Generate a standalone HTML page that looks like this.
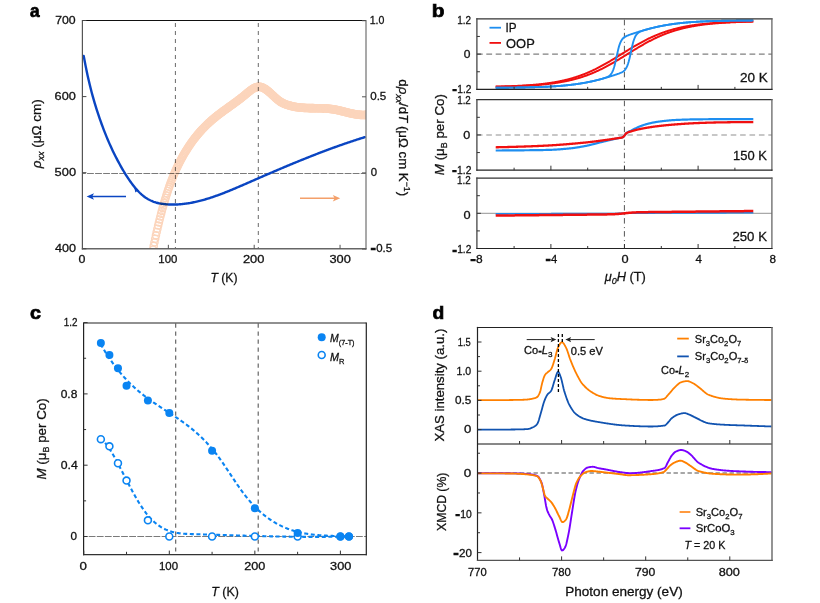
<!DOCTYPE html>
<html><head><meta charset="utf-8"><style>
html,body{margin:0;padding:0;background:#fff;}
svg{display:block;font-family:"Liberation Sans", sans-serif;}
</style></head><body>
<svg width="820" height="603" viewBox="0 0 820 603">
<rect width="820" height="603" fill="#fff"/>
<line x1="175.4" y1="23" x2="175.4" y2="248.8" stroke="#6a6a6a" stroke-width="1" stroke-dasharray="4 4"/>
<line x1="258.3" y1="23" x2="258.3" y2="248.8" stroke="#6a6a6a" stroke-width="1" stroke-dasharray="4 4"/>
<line x1="82.4" y1="173.5" x2="366" y2="173.5" stroke="#7a7a7a" stroke-width="1" stroke-dasharray="6.8 1.25" stroke-dashoffset="3.4"/>
<path d="M83.7,55.88 L84.7,61.25 L85.7,66.37 L86.7,71.24 L87.7,75.88 L88.7,80.31 L89.7,84.54 L90.7,88.58 L91.7,92.44 L92.7,96.14 L93.7,99.69 L94.7,103.1 L95.7,106.39 L96.7,109.58 L97.7,112.66 L98.7,115.67 L99.7,118.6 L100.7,121.45 L101.7,124.23 L102.7,126.95 L103.7,129.59 L104.7,132.16 L105.7,134.68 L106.7,137.13 L107.7,139.52 L108.7,141.85 L109.7,144.13 L110.7,146.35 L111.7,148.52 L112.7,150.64 L113.7,152.71 L114.7,154.74 L115.7,156.72 L116.7,158.67 L117.7,160.57 L118.7,162.43 L119.7,164.26 L120.7,166.06 L121.7,167.82 L122.7,169.55 L123.7,171.24 L124.7,172.9 L125.7,174.52 L126.7,176.1 L127.7,177.64 L128.7,179.14 L129.7,180.6 L130.7,182.02 L131.7,183.39 L132.7,184.72 L133.7,186.01 L134.7,187.25 L135.7,188.45 L136.7,189.6 L137.7,190.7 L138.7,191.75 L139.7,192.75 L140.7,193.7 L141.7,194.6 L142.7,195.44 L143.7,196.24 L144.7,196.99 L145.7,197.69 L146.7,198.34 L147.7,198.95 L148.7,199.52 L149.7,200.05 L150.7,200.53 L151.7,200.98 L152.7,201.4 L153.7,201.78 L154.7,202.12 L155.7,202.44 L156.7,202.72 L157.7,202.98 L158.7,203.22 L159.7,203.42 L160.7,203.61 L161.7,203.77 L162.7,203.92 L163.7,204.04 L164.7,204.15 L165.7,204.25 L166.7,204.33 L167.7,204.4 L168.7,204.45 L169.7,204.5 L170.7,204.53 L171.7,204.55 L172.7,204.56 L173.7,204.56 L174.7,204.54 L175.7,204.52 L176.7,204.48 L177.7,204.43 L178.7,204.37 L179.7,204.3 L180.7,204.22 L181.7,204.13 L182.7,204.03 L183.7,203.92 L184.7,203.8 L185.7,203.67 L186.7,203.53 L187.7,203.38 L188.7,203.23 L189.7,203.06 L190.7,202.88 L191.7,202.7 L192.7,202.5 L193.7,202.3 L194.7,202.09 L195.7,201.87 L196.7,201.64 L197.7,201.41 L198.7,201.16 L199.7,200.91 L200.7,200.66 L201.7,200.39 L202.7,200.12 L203.7,199.84 L204.7,199.55 L205.7,199.26 L206.7,198.96 L207.7,198.65 L208.7,198.34 L209.7,198.02 L210.7,197.7 L211.7,197.37 L212.7,197.03 L213.7,196.69 L214.7,196.34 L215.7,195.99 L216.7,195.63 L217.7,195.27 L218.7,194.91 L219.7,194.53 L220.7,194.16 L221.7,193.78 L222.7,193.4 L223.7,193.01 L224.7,192.62 L225.7,192.22 L226.7,191.82 L227.7,191.42 L228.7,191.02 L229.7,190.61 L230.7,190.2 L231.7,189.78 L232.7,189.37 L233.7,188.95 L234.7,188.53 L235.7,188.1 L236.7,187.68 L237.7,187.25 L238.7,186.82 L239.7,186.39 L240.7,185.96 L241.7,185.53 L242.7,185.09 L243.7,184.66 L244.7,184.23 L245.7,183.79 L246.7,183.35 L247.7,182.92 L248.7,182.48 L249.7,182.04 L250.7,181.61 L251.7,181.17 L252.7,180.73 L253.7,180.3 L254.7,179.86 L255.7,179.43 L256.7,178.99 L257.7,178.56 L258.7,178.12 L259.7,177.69 L260.7,177.25 L261.7,176.82 L262.7,176.39 L263.7,175.95 L264.7,175.52 L265.7,175.09 L266.7,174.66 L267.7,174.22 L268.7,173.79 L269.7,173.36 L270.7,172.93 L271.7,172.5 L272.7,172.08 L273.7,171.65 L274.7,171.22 L275.7,170.79 L276.7,170.37 L277.7,169.94 L278.7,169.51 L279.7,169.09 L280.7,168.67 L281.7,168.24 L282.7,167.82 L283.7,167.4 L284.7,166.98 L285.7,166.56 L286.7,166.14 L287.7,165.72 L288.7,165.3 L289.7,164.88 L290.7,164.47 L291.7,164.05 L292.7,163.64 L293.7,163.22 L294.7,162.81 L295.7,162.4 L296.7,161.99 L297.7,161.58 L298.7,161.17 L299.7,160.76 L300.7,160.35 L301.7,159.95 L302.7,159.54 L303.7,159.14 L304.7,158.74 L305.7,158.34 L306.7,157.94 L307.7,157.54 L308.7,157.14 L309.7,156.74 L310.7,156.35 L311.7,155.95 L312.7,155.56 L313.7,155.16 L314.7,154.77 L315.7,154.38 L316.7,154 L317.7,153.61 L318.7,153.22 L319.7,152.84 L320.7,152.46 L321.7,152.07 L322.7,151.69 L323.7,151.32 L324.7,150.94 L325.7,150.56 L326.7,150.19 L327.7,149.81 L328.7,149.44 L329.7,149.07 L330.7,148.7 L331.7,148.34 L332.7,147.97 L333.7,147.61 L334.7,147.25 L335.7,146.89 L336.7,146.53 L337.7,146.17 L338.7,145.81 L339.7,145.46 L340.7,145.11 L341.7,144.76 L342.7,144.41 L343.7,144.06 L344.7,143.72 L345.7,143.37 L346.7,143.03 L347.7,142.69 L348.7,142.35 L349.7,142.02 L350.7,141.68 L351.7,141.35 L352.7,141.02 L353.7,140.69 L354.7,140.37 L355.7,140.04 L356.7,139.72 L357.7,139.4 L358.7,139.08 L359.7,138.76 L360.7,138.45 L361.7,138.14 L362.7,137.83 L363.7,137.52 L364.7,137.21" fill="none" stroke="#0a45c2" stroke-width="2.4" stroke-linecap="round"/>
<defs><clipPath id="clipa"><rect x="82.4" y="20.5" width="283.6" height="228.3"/></clipPath></defs>
<g clip-path="url(#clipa)" fill="none" stroke="#fcd5bc" stroke-width="1.4" style="mix-blend-mode:multiply">
<circle cx="151.5" cy="257.21" r="3.6"/>
<circle cx="152.24" cy="253.34" r="3.6"/>
<circle cx="152.98" cy="249.57" r="3.6"/>
<circle cx="153.72" cy="245.88" r="3.6"/>
<circle cx="154.46" cy="242.28" r="3.6"/>
<circle cx="155.2" cy="238.77" r="3.6"/>
<circle cx="155.94" cy="235.35" r="3.6"/>
<circle cx="156.68" cy="232.01" r="3.6"/>
<circle cx="157.42" cy="228.75" r="3.6"/>
<circle cx="158.16" cy="225.57" r="3.6"/>
<circle cx="158.9" cy="222.47" r="3.6"/>
<circle cx="159.64" cy="219.45" r="3.6"/>
<circle cx="160.38" cy="216.51" r="3.6"/>
<circle cx="161.12" cy="213.64" r="3.6"/>
<circle cx="161.86" cy="210.84" r="3.6"/>
<circle cx="162.6" cy="208.12" r="3.6"/>
<circle cx="163.34" cy="205.47" r="3.6"/>
<circle cx="164.08" cy="202.89" r="3.6"/>
<circle cx="164.82" cy="200.38" r="3.6"/>
<circle cx="165.56" cy="197.93" r="3.6"/>
<circle cx="166.3" cy="195.55" r="3.6"/>
<circle cx="167.04" cy="193.23" r="3.6"/>
<circle cx="167.78" cy="190.98" r="3.6"/>
<circle cx="168.52" cy="188.78" r="3.6"/>
<circle cx="169.26" cy="186.65" r="3.6"/>
<circle cx="170" cy="184.57" r="3.6"/>
<circle cx="170.74" cy="182.55" r="3.6"/>
<circle cx="171.48" cy="180.59" r="3.6"/>
<circle cx="172.22" cy="178.68" r="3.6"/>
<circle cx="172.96" cy="176.82" r="3.6"/>
<circle cx="173.7" cy="175.01" r="3.6"/>
<circle cx="174.44" cy="173.25" r="3.6"/>
<circle cx="175.18" cy="171.53" r="3.6"/>
<circle cx="175.92" cy="169.87" r="3.6"/>
<circle cx="176.66" cy="168.24" r="3.6"/>
<circle cx="177.4" cy="166.66" r="3.6"/>
<circle cx="178.14" cy="165.12" r="3.6"/>
<circle cx="178.88" cy="163.62" r="3.6"/>
<circle cx="179.62" cy="162.15" r="3.6"/>
<circle cx="180.36" cy="160.72" r="3.6"/>
<circle cx="181.1" cy="159.33" r="3.6"/>
<circle cx="181.84" cy="157.96" r="3.6"/>
<circle cx="182.58" cy="156.63" r="3.6"/>
<circle cx="183.32" cy="155.33" r="3.6"/>
<circle cx="184.06" cy="154.05" r="3.6"/>
<circle cx="184.8" cy="152.8" r="3.6"/>
<circle cx="185.54" cy="151.58" r="3.6"/>
<circle cx="186.28" cy="150.38" r="3.6"/>
<circle cx="187.02" cy="149.2" r="3.6"/>
<circle cx="187.76" cy="148.04" r="3.6"/>
<circle cx="188.5" cy="146.91" r="3.6"/>
<circle cx="189.24" cy="145.79" r="3.6"/>
<circle cx="189.98" cy="144.7" r="3.6"/>
<circle cx="190.72" cy="143.63" r="3.6"/>
<circle cx="191.46" cy="142.58" r="3.6"/>
<circle cx="192.2" cy="141.55" r="3.6"/>
<circle cx="192.94" cy="140.53" r="3.6"/>
<circle cx="193.68" cy="139.54" r="3.6"/>
<circle cx="194.42" cy="138.57" r="3.6"/>
<circle cx="195.16" cy="137.61" r="3.6"/>
<circle cx="195.9" cy="136.68" r="3.6"/>
<circle cx="196.64" cy="135.76" r="3.6"/>
<circle cx="197.38" cy="134.85" r="3.6"/>
<circle cx="198.12" cy="133.97" r="3.6"/>
<circle cx="198.86" cy="133.1" r="3.6"/>
<circle cx="199.6" cy="132.25" r="3.6"/>
<circle cx="200.34" cy="131.41" r="3.6"/>
<circle cx="201.08" cy="130.59" r="3.6"/>
<circle cx="201.82" cy="129.78" r="3.6"/>
<circle cx="202.56" cy="128.99" r="3.6"/>
<circle cx="203.3" cy="128.21" r="3.6"/>
<circle cx="204.04" cy="127.44" r="3.6"/>
<circle cx="204.78" cy="126.69" r="3.6"/>
<circle cx="205.52" cy="125.95" r="3.6"/>
<circle cx="206.26" cy="125.23" r="3.6"/>
<circle cx="207" cy="124.51" r="3.6"/>
<circle cx="207.74" cy="123.81" r="3.6"/>
<circle cx="208.48" cy="123.12" r="3.6"/>
<circle cx="209.22" cy="122.44" r="3.6"/>
<circle cx="209.96" cy="121.77" r="3.6"/>
<circle cx="210.7" cy="121.12" r="3.6"/>
<circle cx="211.44" cy="120.47" r="3.6"/>
<circle cx="212.18" cy="119.83" r="3.6"/>
<circle cx="212.92" cy="119.2" r="3.6"/>
<circle cx="213.66" cy="118.57" r="3.6"/>
<circle cx="214.4" cy="117.96" r="3.6"/>
<circle cx="215.14" cy="117.36" r="3.6"/>
<circle cx="215.88" cy="116.76" r="3.6"/>
<circle cx="216.62" cy="116.17" r="3.6"/>
<circle cx="217.36" cy="115.58" r="3.6"/>
<circle cx="218.1" cy="115" r="3.6"/>
<circle cx="218.84" cy="114.43" r="3.6"/>
<circle cx="219.58" cy="113.87" r="3.6"/>
<circle cx="220.32" cy="113.31" r="3.6"/>
<circle cx="221.06" cy="112.75" r="3.6"/>
<circle cx="221.8" cy="112.2" r="3.6"/>
<circle cx="222.54" cy="111.65" r="3.6"/>
<circle cx="223.28" cy="111.1" r="3.6"/>
<circle cx="224.02" cy="110.56" r="3.6"/>
<circle cx="224.76" cy="110.02" r="3.6"/>
<circle cx="225.5" cy="109.49" r="3.6"/>
<circle cx="226.24" cy="108.95" r="3.6"/>
<circle cx="226.98" cy="108.42" r="3.6"/>
<circle cx="227.72" cy="107.89" r="3.6"/>
<circle cx="228.46" cy="107.36" r="3.6"/>
<circle cx="229.2" cy="106.83" r="3.6"/>
<circle cx="229.94" cy="106.3" r="3.6"/>
<circle cx="230.68" cy="105.77" r="3.6"/>
<circle cx="231.42" cy="105.24" r="3.6"/>
<circle cx="232.16" cy="104.71" r="3.6"/>
<circle cx="232.9" cy="104.17" r="3.6"/>
<circle cx="233.64" cy="103.64" r="3.6"/>
<circle cx="234.38" cy="103.1" r="3.6"/>
<circle cx="235.12" cy="102.56" r="3.6"/>
<circle cx="235.86" cy="102.02" r="3.6"/>
<circle cx="236.6" cy="101.47" r="3.6"/>
<circle cx="237.34" cy="100.92" r="3.6"/>
<circle cx="238.08" cy="100.37" r="3.6"/>
<circle cx="238.82" cy="99.81" r="3.6"/>
<circle cx="239.56" cy="99.24" r="3.6"/>
<circle cx="240.3" cy="98.67" r="3.6"/>
<circle cx="241.04" cy="98.1" r="3.6"/>
<circle cx="241.78" cy="97.52" r="3.6"/>
<circle cx="242.52" cy="96.93" r="3.6"/>
<circle cx="243.26" cy="96.33" r="3.6"/>
<circle cx="244" cy="95.73" r="3.6"/>
<circle cx="244.74" cy="95.12" r="3.6"/>
<circle cx="245.48" cy="94.5" r="3.6"/>
<circle cx="246.22" cy="93.88" r="3.6"/>
<circle cx="246.96" cy="93.26" r="3.6"/>
<circle cx="247.7" cy="92.65" r="3.6"/>
<circle cx="248.44" cy="92.04" r="3.6"/>
<circle cx="249.18" cy="91.45" r="3.6"/>
<circle cx="249.92" cy="90.87" r="3.6"/>
<circle cx="250.66" cy="90.31" r="3.6"/>
<circle cx="251.4" cy="89.78" r="3.6"/>
<circle cx="252.14" cy="89.28" r="3.6"/>
<circle cx="252.88" cy="88.82" r="3.6"/>
<circle cx="253.62" cy="88.39" r="3.6"/>
<circle cx="254.36" cy="88" r="3.6"/>
<circle cx="255.1" cy="87.66" r="3.6"/>
<circle cx="255.84" cy="87.37" r="3.6"/>
<circle cx="256.58" cy="87.14" r="3.6"/>
<circle cx="257.32" cy="86.96" r="3.6"/>
<circle cx="258.06" cy="86.85" r="3.6"/>
<circle cx="258.8" cy="86.8" r="3.6"/>
<circle cx="259.54" cy="86.83" r="3.6"/>
<circle cx="260.28" cy="86.92" r="3.6"/>
<circle cx="261.02" cy="87.07" r="3.6"/>
<circle cx="261.76" cy="87.29" r="3.6"/>
<circle cx="262.5" cy="87.56" r="3.6"/>
<circle cx="263.24" cy="87.88" r="3.6"/>
<circle cx="263.98" cy="88.26" r="3.6"/>
<circle cx="264.72" cy="88.68" r="3.6"/>
<circle cx="265.46" cy="89.15" r="3.6"/>
<circle cx="266.2" cy="89.65" r="3.6"/>
<circle cx="266.94" cy="90.2" r="3.6"/>
<circle cx="267.68" cy="90.77" r="3.6"/>
<circle cx="268.42" cy="91.38" r="3.6"/>
<circle cx="269.16" cy="92.01" r="3.6"/>
<circle cx="269.9" cy="92.66" r="3.6"/>
<circle cx="270.64" cy="93.32" r="3.6"/>
<circle cx="271.38" cy="94" r="3.6"/>
<circle cx="272.12" cy="94.69" r="3.6"/>
<circle cx="272.86" cy="95.39" r="3.6"/>
<circle cx="273.6" cy="96.08" r="3.6"/>
<circle cx="274.34" cy="96.77" r="3.6"/>
<circle cx="275.08" cy="97.45" r="3.6"/>
<circle cx="275.82" cy="98.11" r="3.6"/>
<circle cx="276.56" cy="98.76" r="3.6"/>
<circle cx="277.3" cy="99.39" r="3.6"/>
<circle cx="278.04" cy="100" r="3.6"/>
<circle cx="278.78" cy="100.57" r="3.6"/>
<circle cx="279.52" cy="101.12" r="3.6"/>
<circle cx="280.26" cy="101.62" r="3.6"/>
<circle cx="281" cy="102.09" r="3.6"/>
<circle cx="281.74" cy="102.51" r="3.6"/>
<circle cx="282.48" cy="102.91" r="3.6"/>
<circle cx="283.22" cy="103.27" r="3.6"/>
<circle cx="283.96" cy="103.61" r="3.6"/>
<circle cx="284.7" cy="103.93" r="3.6"/>
<circle cx="285.44" cy="104.22" r="3.6"/>
<circle cx="286.18" cy="104.49" r="3.6"/>
<circle cx="286.92" cy="104.75" r="3.6"/>
<circle cx="287.66" cy="105" r="3.6"/>
<circle cx="288.4" cy="105.23" r="3.6"/>
<circle cx="289.14" cy="105.46" r="3.6"/>
<circle cx="289.88" cy="105.67" r="3.6"/>
<circle cx="290.62" cy="105.87" r="3.6"/>
<circle cx="291.36" cy="106.05" r="3.6"/>
<circle cx="292.1" cy="106.23" r="3.6"/>
<circle cx="292.84" cy="106.4" r="3.6"/>
<circle cx="293.58" cy="106.55" r="3.6"/>
<circle cx="294.32" cy="106.7" r="3.6"/>
<circle cx="295.06" cy="106.84" r="3.6"/>
<circle cx="295.8" cy="106.96" r="3.6"/>
<circle cx="296.54" cy="107.08" r="3.6"/>
<circle cx="297.28" cy="107.19" r="3.6"/>
<circle cx="298.02" cy="107.3" r="3.6"/>
<circle cx="298.76" cy="107.39" r="3.6"/>
<circle cx="299.5" cy="107.48" r="3.6"/>
<circle cx="300.24" cy="107.56" r="3.6"/>
<circle cx="300.98" cy="107.63" r="3.6"/>
<circle cx="301.72" cy="107.7" r="3.6"/>
<circle cx="302.46" cy="107.76" r="3.6"/>
<circle cx="303.2" cy="107.81" r="3.6"/>
<circle cx="303.94" cy="107.86" r="3.6"/>
<circle cx="304.68" cy="107.91" r="3.6"/>
<circle cx="305.42" cy="107.95" r="3.6"/>
<circle cx="306.16" cy="107.98" r="3.6"/>
<circle cx="306.9" cy="108.01" r="3.6"/>
<circle cx="307.64" cy="108.04" r="3.6"/>
<circle cx="308.38" cy="108.06" r="3.6"/>
<circle cx="309.12" cy="108.09" r="3.6"/>
<circle cx="309.86" cy="108.1" r="3.6"/>
<circle cx="310.6" cy="108.12" r="3.6"/>
<circle cx="311.34" cy="108.14" r="3.6"/>
<circle cx="312.08" cy="108.15" r="3.6"/>
<circle cx="312.82" cy="108.16" r="3.6"/>
<circle cx="313.56" cy="108.17" r="3.6"/>
<circle cx="314.3" cy="108.18" r="3.6"/>
<circle cx="315.04" cy="108.19" r="3.6"/>
<circle cx="315.78" cy="108.2" r="3.6"/>
<circle cx="316.52" cy="108.21" r="3.6"/>
<circle cx="317.26" cy="108.22" r="3.6"/>
<circle cx="318" cy="108.23" r="3.6"/>
<circle cx="318.74" cy="108.25" r="3.6"/>
<circle cx="319.48" cy="108.26" r="3.6"/>
<circle cx="320.22" cy="108.28" r="3.6"/>
<circle cx="320.96" cy="108.3" r="3.6"/>
<circle cx="321.7" cy="108.32" r="3.6"/>
<circle cx="322.44" cy="108.35" r="3.6"/>
<circle cx="323.18" cy="108.38" r="3.6"/>
<circle cx="323.92" cy="108.41" r="3.6"/>
<circle cx="324.66" cy="108.45" r="3.6"/>
<circle cx="325.4" cy="108.49" r="3.6"/>
<circle cx="326.14" cy="108.54" r="3.6"/>
<circle cx="326.88" cy="108.59" r="3.6"/>
<circle cx="327.62" cy="108.65" r="3.6"/>
<circle cx="328.36" cy="108.72" r="3.6"/>
<circle cx="329.1" cy="108.79" r="3.6"/>
<circle cx="329.84" cy="108.86" r="3.6"/>
<circle cx="330.58" cy="108.95" r="3.6"/>
<circle cx="331.32" cy="109.04" r="3.6"/>
<circle cx="332.06" cy="109.14" r="3.6"/>
<circle cx="332.8" cy="109.25" r="3.6"/>
<circle cx="333.54" cy="109.36" r="3.6"/>
<circle cx="334.28" cy="109.48" r="3.6"/>
<circle cx="335.02" cy="109.62" r="3.6"/>
<circle cx="335.76" cy="109.76" r="3.6"/>
<circle cx="336.5" cy="109.9" r="3.6"/>
<circle cx="337.24" cy="110.06" r="3.6"/>
<circle cx="337.98" cy="110.22" r="3.6"/>
<circle cx="338.72" cy="110.38" r="3.6"/>
<circle cx="339.46" cy="110.55" r="3.6"/>
<circle cx="340.2" cy="110.73" r="3.6"/>
<circle cx="340.94" cy="110.91" r="3.6"/>
<circle cx="341.68" cy="111.09" r="3.6"/>
<circle cx="342.42" cy="111.27" r="3.6"/>
<circle cx="343.16" cy="111.45" r="3.6"/>
<circle cx="343.9" cy="111.64" r="3.6"/>
<circle cx="344.64" cy="111.83" r="3.6"/>
<circle cx="345.38" cy="112.02" r="3.6"/>
<circle cx="346.12" cy="112.2" r="3.6"/>
<circle cx="346.86" cy="112.39" r="3.6"/>
<circle cx="347.6" cy="112.57" r="3.6"/>
<circle cx="348.34" cy="112.75" r="3.6"/>
<circle cx="349.08" cy="112.93" r="3.6"/>
<circle cx="349.82" cy="113.11" r="3.6"/>
<circle cx="350.56" cy="113.28" r="3.6"/>
<circle cx="351.3" cy="113.44" r="3.6"/>
<circle cx="352.04" cy="113.6" r="3.6"/>
<circle cx="352.78" cy="113.76" r="3.6"/>
<circle cx="353.52" cy="113.91" r="3.6"/>
<circle cx="354.26" cy="114.05" r="3.6"/>
<circle cx="355" cy="114.18" r="3.6"/>
<circle cx="355.74" cy="114.3" r="3.6"/>
<circle cx="356.48" cy="114.42" r="3.6"/>
<circle cx="357.22" cy="114.53" r="3.6"/>
<circle cx="357.96" cy="114.62" r="3.6"/>
<circle cx="358.7" cy="114.71" r="3.6"/>
<circle cx="359.44" cy="114.78" r="3.6"/>
<circle cx="360.18" cy="114.85" r="3.6"/>
<circle cx="360.92" cy="114.9" r="3.6"/>
<circle cx="361.66" cy="114.93" r="3.6"/>
<circle cx="362.4" cy="114.96" r="3.6"/>
<circle cx="363.14" cy="114.97" r="3.6"/>
<circle cx="363.88" cy="114.96" r="3.6"/>
<circle cx="364.62" cy="114.94" r="3.6"/>
<circle cx="365.36" cy="114.9" r="3.6"/>
<circle cx="366.1" cy="114.85" r="3.6"/>
<circle cx="366.84" cy="114.77" r="3.6"/>
</g>
<path d="M134.2,187.6 L138.2,190.2 L135.4,192.6 Z" fill="#0a45c2"/>
<line x1="91.5" y1="196.5" x2="126" y2="196.5" stroke="#0a45c2" stroke-width="1.6" />
<path d="M86.6,196.5 L94,193.2 L92.2,196.5 L94,199.8 Z" fill="#0a45c2"/>
<line x1="300" y1="198.2" x2="335" y2="198.2" stroke="#f4a06a" stroke-width="1.6" />
<path d="M340.2,198.2 L332.8,194.9 L334.6,198.2 L332.8,201.5 Z" fill="#f4a06a"/>
<line x1="82.4" y1="20.5" x2="366" y2="20.5" stroke="#111" stroke-width="1.2" />
<line x1="82.4" y1="19.9" x2="82.4" y2="249.4" stroke="#555" stroke-width="1.2" />
<line x1="366" y1="19.9" x2="366" y2="249.4" stroke="#707070" stroke-width="1.2" />
<line x1="81.8" y1="248.8" x2="366.6" y2="248.8" stroke="#666" stroke-width="1.5" />
<line x1="82.4" y1="248.8" x2="86.4" y2="248.8" stroke="#444" stroke-width="1" />
<line x1="82.4" y1="172.7" x2="86.4" y2="172.7" stroke="#444" stroke-width="1" />
<line x1="82.4" y1="96.6" x2="86.4" y2="96.6" stroke="#444" stroke-width="1" />
<line x1="82.4" y1="20.5" x2="86.4" y2="20.5" stroke="#444" stroke-width="1" />
<line x1="362" y1="249" x2="366" y2="249" stroke="#555" stroke-width="1" />
<line x1="362" y1="172.9" x2="366" y2="172.9" stroke="#555" stroke-width="1" />
<line x1="362" y1="96.8" x2="366" y2="96.8" stroke="#555" stroke-width="1" />
<line x1="362" y1="20.7" x2="366" y2="20.7" stroke="#555" stroke-width="1" />
<line x1="82.5" y1="244.8" x2="82.5" y2="248.8" stroke="#555" stroke-width="1" />
<line x1="168.35" y1="244.8" x2="168.35" y2="248.8" stroke="#555" stroke-width="1" />
<line x1="254.2" y1="244.8" x2="254.2" y2="248.8" stroke="#555" stroke-width="1" />
<line x1="340.05" y1="244.8" x2="340.05" y2="248.8" stroke="#555" stroke-width="1" />
<line x1="476.9" y1="54.1" x2="771.9" y2="54.1" stroke="#808080" stroke-width="1.05" stroke-dasharray="5.8 3.6"/>
<line x1="624.4" y1="19.8" x2="624.4" y2="89.4" stroke="#555" stroke-width="1" stroke-dasharray="5.5 3.5 1 3"/>
<path d="M495.7,86.72 L496.16,86.71 L496.62,86.71 L497.08,86.7 L497.54,86.69 L498,86.68 L498.46,86.67 L498.92,86.66 L499.38,86.65 L499.84,86.64 L500.3,86.63 L500.76,86.63 L501.22,86.62 L501.68,86.61 L502.14,86.6 L502.6,86.58 L503.06,86.57 L503.52,86.56 L503.98,86.55 L504.44,86.54 L504.9,86.53 L505.36,86.52 L505.82,86.51 L506.28,86.5 L506.74,86.48 L507.2,86.47 L507.66,86.46 L508.12,86.45 L508.58,86.43 L509.04,86.42 L509.5,86.41 L509.96,86.39 L510.42,86.38 L510.88,86.37 L511.34,86.35 L511.8,86.34 L512.26,86.32 L512.72,86.31 L513.18,86.29 L513.64,86.28 L514.1,86.26 L514.56,86.25 L515.02,86.23 L515.48,86.21 L515.94,86.2 L516.4,86.18 L516.86,86.16 L517.32,86.14 L517.78,86.13 L518.24,86.11 L518.7,86.09 L519.16,86.07 L519.62,86.05 L520.08,86.03 L520.54,86.01 L521,85.99 L521.46,85.97 L521.92,85.95 L522.38,85.93 L522.84,85.91 L523.3,85.89 L523.76,85.86 L524.22,85.84 L524.68,85.82 L525.14,85.79 L525.6,85.77 L526.06,85.75 L526.52,85.72 L526.98,85.7 L527.44,85.67 L527.9,85.64 L528.36,85.62 L528.82,85.59 L529.28,85.56 L529.74,85.54 L530.2,85.51 L530.66,85.48 L531.12,85.45 L531.58,85.42 L532.04,85.39 L532.5,85.36 L532.96,85.33 L533.42,85.3 L533.88,85.27 L534.34,85.23 L534.8,85.2 L535.26,85.17 L535.72,85.13 L536.18,85.1 L536.64,85.06 L537.1,85.03 L537.56,84.99 L538.02,84.95 L538.48,84.92 L538.94,84.88 L539.4,84.84 L539.86,84.8 L540.32,84.76 L540.78,84.72 L541.24,84.68 L541.7,84.64 L542.16,84.59 L542.62,84.55 L543.08,84.51 L543.54,84.46 L544,84.41 L544.46,84.37 L544.92,84.32 L545.38,84.27 L545.84,84.23 L546.3,84.18 L546.76,84.13 L547.22,84.08 L547.68,84.02 L548.14,83.97 L548.6,83.92 L549.06,83.86 L549.52,83.81 L549.98,83.75 L550.44,83.7 L550.9,83.64 L551.36,83.58 L551.82,83.52 L552.28,83.46 L552.74,83.4 L553.2,83.34 L553.66,83.27 L554.12,83.21 L554.58,83.15 L555.04,83.08 L555.5,83.01 L555.96,82.94 L556.42,82.88 L556.88,82.8 L557.34,82.73 L557.8,82.66 L558.26,82.59 L558.72,82.51 L559.18,82.44 L559.64,82.36 L560.1,82.28 L560.56,82.2 L561.02,82.12 L561.48,82.04 L561.94,81.96 L562.4,81.88 L562.86,81.79 L563.32,81.71 L563.78,81.62 L564.24,81.53 L564.7,81.44 L565.16,81.35 L565.62,81.26 L566.08,81.16 L566.54,81.07 L567,80.97 L567.46,80.87 L567.92,80.77 L568.38,80.67 L568.84,80.57 L569.3,80.47 L569.76,80.36 L570.22,80.26 L570.68,80.15 L571.14,80.04 L571.6,79.93 L572.06,79.82 L572.52,79.7 L572.98,79.59 L573.44,79.47 L573.9,79.35 L574.36,79.23 L574.82,79.11 L575.28,78.99 L575.74,78.86 L576.2,78.74 L576.66,78.61 L577.12,78.48 L577.58,78.35 L578.04,78.21 L578.5,78.08 L578.96,77.94 L579.42,77.8 L579.88,77.67 L580.34,77.52 L580.8,77.38 L581.26,77.24 L581.72,77.09 L582.18,76.94 L582.64,76.79 L583.1,76.64 L583.56,76.48 L584.02,76.33 L584.48,76.17 L584.94,76.01 L585.4,75.85 L585.86,75.69 L586.32,75.52 L586.78,75.36 L587.24,75.19 L587.7,75.02 L588.16,74.84 L588.62,74.67 L589.08,74.49 L589.54,74.32 L590,74.14 L590.46,73.96 L590.92,73.77 L591.38,73.59 L591.84,73.4 L592.3,73.21 L592.76,73.02 L593.22,72.83 L593.68,72.63 L594.14,72.43 L594.6,72.24 L595.06,72.03 L595.52,71.83 L595.98,71.63 L596.44,71.42 L596.9,71.21 L597.36,71 L597.82,70.79 L598.28,70.58 L598.74,70.36 L599.2,70.15 L599.66,69.93 L600.12,69.71 L600.58,69.48 L601.04,69.26 L601.5,69.03 L601.96,68.8 L602.42,68.57 L602.88,68.34 L603.34,68.11 L603.8,67.87 L604.26,67.64 L604.72,67.4 L605.18,67.16 L605.64,66.92 L606.1,66.67 L606.56,66.43 L607.02,66.18 L607.48,65.93 L607.94,65.68 L608.4,65.43 L608.86,65.18 L609.32,64.93 L609.78,64.67 L610.24,64.41 L610.7,64.16 L611.16,63.9 L611.62,63.64 L612.08,63.37 L612.54,63.11 L613,62.85 L613.46,62.58 L613.92,62.31 L614.38,62.04 L614.84,61.77 L615.3,61.5 L615.76,61.23 L616.22,60.96 L616.68,60.69 L617.14,60.41 L617.6,60.14 L618.06,59.86 L618.52,59.58 L618.98,59.31 L619.44,59.03 L619.9,58.75 L620.36,58.47 L620.82,58.19 L621.28,57.91 L621.74,57.62 L622.2,57.34 L622.66,57.06 L623.12,56.78 L623.58,56.49 L624.04,56.21 L624.5,55.92 L624.96,55.64 L625.42,55.35 L625.88,55.07 L626.34,54.78 L626.8,54.5 L627.26,54.21 L627.72,53.93 L628.18,53.64 L628.64,53.36 L629.1,53.07 L629.56,52.79 L630.02,52.5 L630.48,52.22 L630.94,51.93 L631.4,51.65 L631.86,51.37 L632.32,51.08 L632.78,50.8 L633.24,50.52 L633.7,50.24 L634.16,49.96 L634.62,49.68 L635.08,49.4 L635.54,49.12 L636,48.84 L636.46,48.56 L636.92,48.28 L637.38,48.01 L637.84,47.73 L638.3,47.46 L638.76,47.19 L639.22,46.91 L639.68,46.64 L640.14,46.37 L640.6,46.1 L641.06,45.83 L641.52,45.57 L641.98,45.3 L642.44,45.04 L642.9,44.77 L643.36,44.51 L643.82,44.25 L644.28,43.99 L644.74,43.73 L645.2,43.48 L645.66,43.22 L646.12,42.97 L646.58,42.72 L647.04,42.47 L647.5,42.22 L647.96,41.97 L648.42,41.72 L648.88,41.48 L649.34,41.23 L649.8,40.99 L650.26,40.75 L650.72,40.52 L651.18,40.28 L651.64,40.04 L652.1,39.81 L652.56,39.58 L653.02,39.35 L653.48,39.12 L653.94,38.9 L654.4,38.67 L654.86,38.45 L655.32,38.23 L655.78,38.01 L656.24,37.79 L656.7,37.58 L657.16,37.37 L657.62,37.15 L658.08,36.94 L658.54,36.74 L659,36.53 L659.46,36.33 L659.92,36.12 L660.38,35.92 L660.84,35.73 L661.3,35.53 L661.76,35.34 L662.22,35.14 L662.68,34.95 L663.14,34.76 L663.6,34.58 L664.06,34.39 L664.52,34.21 L664.98,34.03 L665.44,33.85 L665.9,33.67 L666.36,33.49 L666.82,33.32 L667.28,33.15 L667.74,32.98 L668.2,32.81 L668.66,32.64 L669.12,32.48 L669.58,32.32 L670.04,32.16 L670.5,32 L670.96,31.84 L671.42,31.69 L671.88,31.53 L672.34,31.38 L672.8,31.23 L673.26,31.08 L673.72,30.94 L674.18,30.79 L674.64,30.65 L675.1,30.51 L675.56,30.37 L676.02,30.23 L676.48,30.09 L676.94,29.96 L677.4,29.83 L677.86,29.7 L678.32,29.57 L678.78,29.44 L679.24,29.31 L679.7,29.19 L680.16,29.07 L680.62,28.94 L681.08,28.82 L681.54,28.71 L682,28.59 L682.46,28.47 L682.92,28.36 L683.38,28.25 L683.84,28.14 L684.3,28.03 L684.76,27.92 L685.22,27.82 L685.68,27.71 L686.14,27.61 L686.6,27.51 L687.06,27.41 L687.52,27.31 L687.98,27.21 L688.44,27.11 L688.9,27.02 L689.36,26.92 L689.82,26.83 L690.28,26.74 L690.74,26.65 L691.2,26.56 L691.66,26.48 L692.12,26.39 L692.58,26.31 L693.04,26.22 L693.5,26.14 L693.96,26.06 L694.42,25.98 L694.88,25.9 L695.34,25.82 L695.8,25.75 L696.26,25.67 L696.72,25.6 L697.18,25.52 L697.64,25.45 L698.1,25.38 L698.56,25.31 L699.02,25.24 L699.48,25.17 L699.94,25.11 L700.4,25.04 L700.86,24.98 L701.32,24.91 L701.78,24.85 L702.24,24.79 L702.7,24.73 L703.16,24.67 L703.62,24.61 L704.08,24.55 L704.54,24.49 L705,24.44 L705.46,24.38 L705.92,24.33 L706.38,24.27 L706.84,24.22 L707.3,24.17 L707.76,24.11 L708.22,24.06 L708.68,24.01 L709.14,23.96 L709.6,23.92 L710.06,23.87 L710.52,23.82 L710.98,23.78 L711.44,23.73 L711.9,23.69 L712.36,23.64 L712.82,23.6 L713.28,23.56 L713.74,23.51 L714.2,23.47 L714.66,23.43 L715.12,23.39 L715.58,23.35 L716.04,23.31 L716.5,23.28 L716.96,23.24 L717.42,23.2 L717.88,23.17 L718.34,23.13 L718.8,23.09 L719.26,23.06 L719.72,23.03 L720.18,22.99 L720.64,22.96 L721.1,22.93 L721.56,22.9 L722.02,22.86 L722.48,22.83 L722.94,22.8 L723.4,22.77 L723.86,22.74 L724.32,22.71 L724.78,22.69 L725.24,22.66 L725.7,22.63 L726.16,22.6 L726.62,22.58 L727.08,22.55 L727.54,22.52 L728,22.5 L728.46,22.47 L728.92,22.45 L729.38,22.43 L729.84,22.4 L730.3,22.38 L730.76,22.36 L731.22,22.33 L731.68,22.31 L732.14,22.29 L732.6,22.27 L733.06,22.25 L733.52,22.23 L733.98,22.2 L734.44,22.18 L734.9,22.16 L735.36,22.15 L735.82,22.13 L736.28,22.11 L736.74,22.09 L737.2,22.07 L737.66,22.05 L738.12,22.04 L738.58,22.02 L739.04,22 L739.5,21.98 L739.96,21.97 L740.42,21.95 L740.88,21.94 L741.34,21.92 L741.8,21.9 L742.26,21.89 L742.72,21.87 L743.18,21.86 L743.64,21.85 L744.1,21.83 L744.56,21.82 L745.02,21.8 L745.48,21.79 L745.94,21.78 L746.4,21.76 L746.86,21.75 L747.32,21.74 L747.78,21.73 L748.24,21.71 L748.7,21.7 L749.16,21.69 L749.62,21.68 L750.08,21.67 L750.54,21.66 L751,21.65 L751.46,21.63 L751.92,21.62 L752.38,21.61 L752.84,21.6 L753.3,21.59" fill="none" stroke="#f01010" stroke-width="2.0"/>
<path d="M495.7,86.61 L496.16,86.6 L496.62,86.59 L497.08,86.58 L497.54,86.57 L498,86.55 L498.46,86.54 L498.92,86.53 L499.38,86.52 L499.84,86.51 L500.3,86.5 L500.76,86.49 L501.22,86.47 L501.68,86.46 L502.14,86.45 L502.6,86.44 L503.06,86.42 L503.52,86.41 L503.98,86.4 L504.44,86.38 L504.9,86.37 L505.36,86.35 L505.82,86.34 L506.28,86.33 L506.74,86.31 L507.2,86.3 L507.66,86.28 L508.12,86.26 L508.58,86.25 L509.04,86.23 L509.5,86.22 L509.96,86.2 L510.42,86.18 L510.88,86.16 L511.34,86.15 L511.8,86.13 L512.26,86.11 L512.72,86.09 L513.18,86.07 L513.64,86.05 L514.1,86.04 L514.56,86.02 L515.02,86 L515.48,85.97 L515.94,85.95 L516.4,85.93 L516.86,85.91 L517.32,85.89 L517.78,85.87 L518.24,85.84 L518.7,85.82 L519.16,85.8 L519.62,85.77 L520.08,85.75 L520.54,85.73 L521,85.7 L521.46,85.68 L521.92,85.65 L522.38,85.62 L522.84,85.6 L523.3,85.57 L523.76,85.54 L524.22,85.51 L524.68,85.49 L525.14,85.46 L525.6,85.43 L526.06,85.4 L526.52,85.37 L526.98,85.34 L527.44,85.3 L527.9,85.27 L528.36,85.24 L528.82,85.21 L529.28,85.17 L529.74,85.14 L530.2,85.11 L530.66,85.07 L531.12,85.03 L531.58,85 L532.04,84.96 L532.5,84.92 L532.96,84.89 L533.42,84.85 L533.88,84.81 L534.34,84.77 L534.8,84.73 L535.26,84.69 L535.72,84.64 L536.18,84.6 L536.64,84.56 L537.1,84.51 L537.56,84.47 L538.02,84.42 L538.48,84.38 L538.94,84.33 L539.4,84.28 L539.86,84.24 L540.32,84.19 L540.78,84.14 L541.24,84.09 L541.7,84.03 L542.16,83.98 L542.62,83.93 L543.08,83.87 L543.54,83.82 L544,83.76 L544.46,83.71 L544.92,83.65 L545.38,83.59 L545.84,83.53 L546.3,83.47 L546.76,83.41 L547.22,83.35 L547.68,83.29 L548.14,83.22 L548.6,83.16 L549.06,83.09 L549.52,83.03 L549.98,82.96 L550.44,82.89 L550.9,82.82 L551.36,82.75 L551.82,82.68 L552.28,82.6 L552.74,82.53 L553.2,82.45 L553.66,82.38 L554.12,82.3 L554.58,82.22 L555.04,82.14 L555.5,82.06 L555.96,81.98 L556.42,81.89 L556.88,81.81 L557.34,81.72 L557.8,81.64 L558.26,81.55 L558.72,81.46 L559.18,81.37 L559.64,81.28 L560.1,81.18 L560.56,81.09 L561.02,80.99 L561.48,80.89 L561.94,80.79 L562.4,80.69 L562.86,80.59 L563.32,80.49 L563.78,80.38 L564.24,80.28 L564.7,80.17 L565.16,80.06 L565.62,79.95 L566.08,79.84 L566.54,79.73 L567,79.61 L567.46,79.49 L567.92,79.38 L568.38,79.26 L568.84,79.13 L569.3,79.01 L569.76,78.89 L570.22,78.76 L570.68,78.63 L571.14,78.5 L571.6,78.37 L572.06,78.24 L572.52,78.11 L572.98,77.97 L573.44,77.83 L573.9,77.69 L574.36,77.55 L574.82,77.41 L575.28,77.26 L575.74,77.12 L576.2,76.97 L576.66,76.82 L577.12,76.67 L577.58,76.51 L578.04,76.36 L578.5,76.2 L578.96,76.04 L579.42,75.88 L579.88,75.72 L580.34,75.56 L580.8,75.39 L581.26,75.22 L581.72,75.05 L582.18,74.88 L582.64,74.71 L583.1,74.53 L583.56,74.35 L584.02,74.17 L584.48,73.99 L584.94,73.81 L585.4,73.62 L585.86,73.44 L586.32,73.25 L586.78,73.06 L587.24,72.86 L587.7,72.67 L588.16,72.47 L588.62,72.28 L589.08,72.08 L589.54,71.87 L590,71.67 L590.46,71.46 L590.92,71.26 L591.38,71.05 L591.84,70.83 L592.3,70.62 L592.76,70.41 L593.22,70.19 L593.68,69.97 L594.14,69.75 L594.6,69.53 L595.06,69.3 L595.52,69.08 L595.98,68.85 L596.44,68.62 L596.9,68.39 L597.36,68.16 L597.82,67.92 L598.28,67.68 L598.74,67.45 L599.2,67.21 L599.66,66.97 L600.12,66.72 L600.58,66.48 L601.04,66.23 L601.5,65.98 L601.96,65.73 L602.42,65.48 L602.88,65.23 L603.34,64.98 L603.8,64.72 L604.26,64.47 L604.72,64.21 L605.18,63.95 L605.64,63.69 L606.1,63.43 L606.56,63.16 L607.02,62.9 L607.48,62.63 L607.94,62.37 L608.4,62.1 L608.86,61.83 L609.32,61.56 L609.78,61.29 L610.24,61.01 L610.7,60.74 L611.16,60.47 L611.62,60.19 L612.08,59.92 L612.54,59.64 L613,59.36 L613.46,59.08 L613.92,58.8 L614.38,58.52 L614.84,58.24 L615.3,57.96 L615.76,57.68 L616.22,57.4 L616.68,57.12 L617.14,56.83 L617.6,56.55 L618.06,56.27 L618.52,55.98 L618.98,55.7 L619.44,55.41 L619.9,55.13 L620.36,54.84 L620.82,54.56 L621.28,54.27 L621.74,53.99 L622.2,53.7 L622.66,53.42 L623.12,53.13 L623.58,52.85 L624.04,52.56 L624.5,52.28 L624.96,51.99 L625.42,51.71 L625.88,51.42 L626.34,51.14 L626.8,50.86 L627.26,50.58 L627.72,50.29 L628.18,50.01 L628.64,49.73 L629.1,49.45 L629.56,49.17 L630.02,48.89 L630.48,48.62 L630.94,48.34 L631.4,48.06 L631.86,47.79 L632.32,47.51 L632.78,47.24 L633.24,46.97 L633.7,46.7 L634.16,46.43 L634.62,46.16 L635.08,45.89 L635.54,45.62 L636,45.35 L636.46,45.09 L636.92,44.83 L637.38,44.56 L637.84,44.3 L638.3,44.04 L638.76,43.79 L639.22,43.53 L639.68,43.27 L640.14,43.02 L640.6,42.77 L641.06,42.52 L641.52,42.27 L641.98,42.02 L642.44,41.77 L642.9,41.53 L643.36,41.28 L643.82,41.04 L644.28,40.8 L644.74,40.56 L645.2,40.33 L645.66,40.09 L646.12,39.86 L646.58,39.63 L647.04,39.4 L647.5,39.17 L647.96,38.94 L648.42,38.72 L648.88,38.49 L649.34,38.27 L649.8,38.05 L650.26,37.84 L650.72,37.62 L651.18,37.41 L651.64,37.2 L652.1,36.99 L652.56,36.78 L653.02,36.57 L653.48,36.37 L653.94,36.17 L654.4,35.96 L654.86,35.77 L655.32,35.57 L655.78,35.37 L656.24,35.18 L656.7,34.99 L657.16,34.8 L657.62,34.61 L658.08,34.43 L658.54,34.24 L659,34.06 L659.46,33.88 L659.92,33.71 L660.38,33.53 L660.84,33.36 L661.3,33.18 L661.76,33.01 L662.22,32.84 L662.68,32.68 L663.14,32.51 L663.6,32.35 L664.06,32.19 L664.52,32.03 L664.98,31.87 L665.44,31.72 L665.9,31.56 L666.36,31.41 L666.82,31.26 L667.28,31.11 L667.74,30.96 L668.2,30.82 L668.66,30.68 L669.12,30.53 L669.58,30.4 L670.04,30.26 L670.5,30.12 L670.96,29.99 L671.42,29.85 L671.88,29.72 L672.34,29.59 L672.8,29.46 L673.26,29.34 L673.72,29.21 L674.18,29.09 L674.64,28.97 L675.1,28.85 L675.56,28.73 L676.02,28.61 L676.48,28.5 L676.94,28.38 L677.4,28.27 L677.86,28.16 L678.32,28.05 L678.78,27.94 L679.24,27.84 L679.7,27.73 L680.16,27.63 L680.62,27.53 L681.08,27.43 L681.54,27.33 L682,27.23 L682.46,27.13 L682.92,27.04 L683.38,26.94 L683.84,26.85 L684.3,26.76 L684.76,26.67 L685.22,26.58 L685.68,26.49 L686.14,26.41 L686.6,26.32 L687.06,26.24 L687.52,26.16 L687.98,26.08 L688.44,26 L688.9,25.92 L689.36,25.84 L689.82,25.76 L690.28,25.69 L690.74,25.61 L691.2,25.54 L691.66,25.47 L692.12,25.4 L692.58,25.32 L693.04,25.26 L693.5,25.19 L693.96,25.12 L694.42,25.05 L694.88,24.99 L695.34,24.93 L695.8,24.86 L696.26,24.8 L696.72,24.74 L697.18,24.68 L697.64,24.62 L698.1,24.56 L698.56,24.5 L699.02,24.45 L699.48,24.39 L699.94,24.34 L700.4,24.28 L700.86,24.23 L701.32,24.18 L701.78,24.12 L702.24,24.07 L702.7,24.02 L703.16,23.97 L703.62,23.93 L704.08,23.88 L704.54,23.83 L705,23.79 L705.46,23.74 L705.92,23.69 L706.38,23.65 L706.84,23.61 L707.3,23.56 L707.76,23.52 L708.22,23.48 L708.68,23.44 L709.14,23.4 L709.6,23.36 L710.06,23.32 L710.52,23.28 L710.98,23.25 L711.44,23.21 L711.9,23.17 L712.36,23.14 L712.82,23.1 L713.28,23.07 L713.74,23.03 L714.2,23 L714.66,22.97 L715.12,22.93 L715.58,22.9 L716.04,22.87 L716.5,22.84 L716.96,22.81 L717.42,22.78 L717.88,22.75 L718.34,22.72 L718.8,22.69 L719.26,22.66 L719.72,22.64 L720.18,22.61 L720.64,22.58 L721.1,22.56 L721.56,22.53 L722.02,22.5 L722.48,22.48 L722.94,22.45 L723.4,22.43 L723.86,22.41 L724.32,22.38 L724.78,22.36 L725.24,22.34 L725.7,22.31 L726.16,22.29 L726.62,22.27 L727.08,22.25 L727.54,22.23 L728,22.21 L728.46,22.19 L728.92,22.17 L729.38,22.15 L729.84,22.13 L730.3,22.11 L730.76,22.09 L731.22,22.07 L731.68,22.06 L732.14,22.04 L732.6,22.02 L733.06,22 L733.52,21.99 L733.98,21.97 L734.44,21.95 L734.9,21.94 L735.36,21.92 L735.82,21.91 L736.28,21.89 L736.74,21.88 L737.2,21.86 L737.66,21.85 L738.12,21.83 L738.58,21.82 L739.04,21.81 L739.5,21.79 L739.96,21.78 L740.42,21.77 L740.88,21.75 L741.34,21.74 L741.8,21.73 L742.26,21.72 L742.72,21.7 L743.18,21.69 L743.64,21.68 L744.1,21.67 L744.56,21.66 L745.02,21.65 L745.48,21.64 L745.94,21.63 L746.4,21.62 L746.86,21.6 L747.32,21.59 L747.78,21.58 L748.24,21.57 L748.7,21.57 L749.16,21.56 L749.62,21.55 L750.08,21.54 L750.54,21.53 L751,21.52 L751.46,21.51 L751.92,21.5 L752.38,21.49 L752.84,21.49 L753.3,21.48" fill="none" stroke="#f01010" stroke-width="2.0"/>
<path d="M495.7,87.78 L496.16,87.78 L496.62,87.78 L497.08,87.77 L497.54,87.77 L498,87.77 L498.46,87.76 L498.92,87.76 L499.38,87.76 L499.84,87.75 L500.3,87.75 L500.76,87.75 L501.22,87.74 L501.68,87.74 L502.14,87.74 L502.6,87.73 L503.06,87.73 L503.52,87.72 L503.98,87.72 L504.44,87.72 L504.9,87.71 L505.36,87.71 L505.82,87.7 L506.28,87.7 L506.74,87.7 L507.2,87.69 L507.66,87.69 L508.12,87.68 L508.58,87.68 L509.04,87.67 L509.5,87.67 L509.96,87.66 L510.42,87.66 L510.88,87.65 L511.34,87.65 L511.8,87.64 L512.26,87.64 L512.72,87.63 L513.18,87.62 L513.64,87.62 L514.1,87.61 L514.56,87.61 L515.02,87.6 L515.48,87.59 L515.94,87.59 L516.4,87.58 L516.86,87.57 L517.32,87.57 L517.78,87.56 L518.24,87.55 L518.7,87.55 L519.16,87.54 L519.62,87.53 L520.08,87.52 L520.54,87.52 L521,87.51 L521.46,87.5 L521.92,87.49 L522.38,87.48 L522.84,87.47 L523.3,87.47 L523.76,87.46 L524.22,87.45 L524.68,87.44 L525.14,87.43 L525.6,87.42 L526.06,87.41 L526.52,87.4 L526.98,87.39 L527.44,87.38 L527.9,87.37 L528.36,87.36 L528.82,87.35 L529.28,87.34 L529.74,87.32 L530.2,87.31 L530.66,87.3 L531.12,87.29 L531.58,87.28 L532.04,87.27 L532.5,87.25 L532.96,87.24 L533.42,87.23 L533.88,87.21 L534.34,87.2 L534.8,87.19 L535.26,87.17 L535.72,87.16 L536.18,87.14 L536.64,87.13 L537.1,87.11 L537.56,87.1 L538.02,87.08 L538.48,87.07 L538.94,87.05 L539.4,87.03 L539.86,87.02 L540.32,87 L540.78,86.98 L541.24,86.96 L541.7,86.94 L542.16,86.93 L542.62,86.91 L543.08,86.89 L543.54,86.87 L544,86.85 L544.46,86.83 L544.92,86.81 L545.38,86.79 L545.84,86.77 L546.3,86.74 L546.76,86.72 L547.22,86.7 L547.68,86.68 L548.14,86.65 L548.6,86.63 L549.06,86.6 L549.52,86.58 L549.98,86.55 L550.44,86.53 L550.9,86.5 L551.36,86.48 L551.82,86.45 L552.28,86.42 L552.74,86.39 L553.2,86.37 L553.66,86.34 L554.12,86.31 L554.58,86.28 L555.04,86.25 L555.5,86.22 L555.96,86.19 L556.42,86.15 L556.88,86.12 L557.34,86.09 L557.8,86.05 L558.26,86.02 L558.72,85.98 L559.18,85.95 L559.64,85.91 L560.1,85.88 L560.56,85.84 L561.02,85.8 L561.48,85.76 L561.94,85.72 L562.4,85.68 L562.86,85.64 L563.32,85.6 L563.78,85.56 L564.24,85.52 L564.7,85.47 L565.16,85.43 L565.62,85.39 L566.08,85.34 L566.54,85.29 L567,85.25 L567.46,85.2 L567.92,85.15 L568.38,85.1 L568.84,85.05 L569.3,85 L569.76,84.95 L570.22,84.9 L570.68,84.84 L571.14,84.79 L571.6,84.73 L572.06,84.68 L572.52,84.62 L572.98,84.56 L573.44,84.51 L573.9,84.45 L574.36,84.39 L574.82,84.33 L575.28,84.26 L575.74,84.2 L576.2,84.14 L576.66,84.07 L577.12,84.01 L577.58,83.94 L578.04,83.87 L578.5,83.8 L578.96,83.73 L579.42,83.66 L579.88,83.59 L580.34,83.52 L580.8,83.44 L581.26,83.37 L581.72,83.29 L582.18,83.22 L582.64,83.14 L583.1,83.06 L583.56,82.98 L584.02,82.9 L584.48,82.82 L584.94,82.73 L585.4,82.65 L585.86,82.56 L586.32,82.48 L586.78,82.39 L587.24,82.3 L587.7,82.21 L588.16,82.12 L588.62,82.03 L589.08,81.93 L589.54,81.84 L590,81.74 L590.46,81.65 L590.92,81.55 L591.38,81.45 L591.84,81.35 L592.3,81.25 L592.76,81.14 L593.22,81.04 L593.68,80.94 L594.14,80.83 L594.6,80.72 L595.06,80.61 L595.52,80.51 L595.98,80.39 L596.44,80.28 L596.9,80.17 L597.36,80.06 L597.82,79.94 L598.28,79.82 L598.74,79.71 L599.2,79.59 L599.66,79.47 L600.12,79.35 L600.58,79.23 L601.04,79.1 L601.5,78.98 L601.96,78.85 L602.42,78.73 L602.88,78.6 L603.34,78.47 L603.8,78.34 L604.26,78.21 L604.72,78.08 L605.18,77.95 L605.64,77.82 L606.1,77.68 L606.56,77.55 L607.02,77.41 L607.48,77.27 L607.94,77.14 L608.4,77 L608.86,76.86 L609.32,76.72 L609.78,76.58 L610.24,76.43 L610.7,76.29 L611.16,76.15 L611.62,76 L612.08,75.86 L612.54,75.71 L613,75.56 L613.46,75.41 L613.92,75.26 L614.38,75.11 L614.84,74.96 L615.3,74.81 L615.76,74.65 L616.22,74.5 L616.68,74.34 L617.14,74.18 L617.6,74.02 L618.06,73.85 L618.52,73.69 L618.98,73.51 L619.44,73.34 L619.9,73.15 L620.36,72.96 L620.82,72.76 L621.28,72.54 L621.74,72.31 L622.2,72.06 L622.66,71.79 L623.12,71.49 L623.58,71.15 L624.04,70.78 L624.5,70.34 L624.96,69.85 L625.42,69.27 L625.88,68.61 L626.34,67.83 L626.8,66.93 L627.26,65.89 L627.72,64.69 L628.18,63.32 L628.64,61.78 L629.1,60.06 L629.56,58.19 L630.02,56.19 L630.48,54.09 L630.94,51.94 L631.4,49.79 L631.86,47.69 L632.32,45.68 L632.78,43.82 L633.24,42.1 L633.7,40.57 L634.16,39.2 L634.62,38.01 L635.08,36.97 L635.54,36.08 L636,35.31 L636.46,34.65 L636.92,34.09 L637.38,33.6 L637.84,33.18 L638.3,32.81 L638.76,32.49 L639.22,32.2 L639.68,31.95 L640.14,31.71 L640.6,31.5 L641.06,31.3 L641.52,31.11 L641.98,30.94 L642.44,30.77 L642.9,30.61 L643.36,30.46 L643.82,30.31 L644.28,30.17 L644.74,30.02 L645.2,29.89 L645.66,29.75 L646.12,29.62 L646.58,29.49 L647.04,29.36 L647.5,29.23 L647.96,29.1 L648.42,28.98 L648.88,28.86 L649.34,28.73 L649.8,28.61 L650.26,28.5 L650.72,28.38 L651.18,28.26 L651.64,28.15 L652.1,28.03 L652.56,27.92 L653.02,27.81 L653.48,27.7 L653.94,27.59 L654.4,27.48 L654.86,27.37 L655.32,27.26 L655.78,27.16 L656.24,27.06 L656.7,26.95 L657.16,26.85 L657.62,26.75 L658.08,26.65 L658.54,26.55 L659,26.46 L659.46,26.36 L659.92,26.27 L660.38,26.17 L660.84,26.08 L661.3,25.99 L661.76,25.9 L662.22,25.81 L662.68,25.72 L663.14,25.64 L663.6,25.55 L664.06,25.47 L664.52,25.38 L664.98,25.3 L665.44,25.22 L665.9,25.14 L666.36,25.06 L666.82,24.98 L667.28,24.91 L667.74,24.83 L668.2,24.76 L668.66,24.68 L669.12,24.61 L669.58,24.54 L670.04,24.47 L670.5,24.4 L670.96,24.33 L671.42,24.26 L671.88,24.19 L672.34,24.13 L672.8,24.06 L673.26,24 L673.72,23.94 L674.18,23.87 L674.64,23.81 L675.1,23.75 L675.56,23.69 L676.02,23.64 L676.48,23.58 L676.94,23.52 L677.4,23.47 L677.86,23.41 L678.32,23.36 L678.78,23.3 L679.24,23.25 L679.7,23.2 L680.16,23.15 L680.62,23.1 L681.08,23.05 L681.54,23 L682,22.95 L682.46,22.91 L682.92,22.86 L683.38,22.81 L683.84,22.77 L684.3,22.73 L684.76,22.68 L685.22,22.64 L685.68,22.6 L686.14,22.56 L686.6,22.52 L687.06,22.48 L687.52,22.44 L687.98,22.4 L688.44,22.36 L688.9,22.32 L689.36,22.29 L689.82,22.25 L690.28,22.22 L690.74,22.18 L691.2,22.15 L691.66,22.11 L692.12,22.08 L692.58,22.05 L693.04,22.01 L693.5,21.98 L693.96,21.95 L694.42,21.92 L694.88,21.89 L695.34,21.86 L695.8,21.83 L696.26,21.81 L696.72,21.78 L697.18,21.75 L697.64,21.72 L698.1,21.7 L698.56,21.67 L699.02,21.65 L699.48,21.62 L699.94,21.6 L700.4,21.57 L700.86,21.55 L701.32,21.52 L701.78,21.5 L702.24,21.48 L702.7,21.46 L703.16,21.43 L703.62,21.41 L704.08,21.39 L704.54,21.37 L705,21.35 L705.46,21.33 L705.92,21.31 L706.38,21.29 L706.84,21.27 L707.3,21.26 L707.76,21.24 L708.22,21.22 L708.68,21.2 L709.14,21.18 L709.6,21.17 L710.06,21.15 L710.52,21.13 L710.98,21.12 L711.44,21.1 L711.9,21.09 L712.36,21.07 L712.82,21.06 L713.28,21.04 L713.74,21.03 L714.2,21.01 L714.66,21 L715.12,20.99 L715.58,20.97 L716.04,20.96 L716.5,20.95 L716.96,20.93 L717.42,20.92 L717.88,20.91 L718.34,20.9 L718.8,20.89 L719.26,20.88 L719.72,20.86 L720.18,20.85 L720.64,20.84 L721.1,20.83 L721.56,20.82 L722.02,20.81 L722.48,20.8 L722.94,20.79 L723.4,20.78 L723.86,20.77 L724.32,20.76 L724.78,20.75 L725.24,20.74 L725.7,20.73 L726.16,20.73 L726.62,20.72 L727.08,20.71 L727.54,20.7 L728,20.69 L728.46,20.68 L728.92,20.68 L729.38,20.67 L729.84,20.66 L730.3,20.65 L730.76,20.65 L731.22,20.64 L731.68,20.63 L732.14,20.63 L732.6,20.62 L733.06,20.61 L733.52,20.61 L733.98,20.6 L734.44,20.59 L734.9,20.59 L735.36,20.58 L735.82,20.58 L736.28,20.57 L736.74,20.56 L737.2,20.56 L737.66,20.55 L738.12,20.55 L738.58,20.54 L739.04,20.54 L739.5,20.53 L739.96,20.53 L740.42,20.52 L740.88,20.52 L741.34,20.51 L741.8,20.51 L742.26,20.5 L742.72,20.5 L743.18,20.5 L743.64,20.49 L744.1,20.49 L744.56,20.48 L745.02,20.48 L745.48,20.48 L745.94,20.47 L746.4,20.47 L746.86,20.46 L747.32,20.46 L747.78,20.46 L748.24,20.45 L748.7,20.45 L749.16,20.45 L749.62,20.44 L750.08,20.44 L750.54,20.44 L751,20.43 L751.46,20.43 L751.92,20.43 L752.38,20.42 L752.84,20.42 L753.3,20.42" fill="none" stroke="#1e8ef0" stroke-width="1.9"/>
<path d="M495.7,87.78 L496.16,87.78 L496.62,87.78 L497.08,87.77 L497.54,87.77 L498,87.77 L498.46,87.76 L498.92,87.76 L499.38,87.76 L499.84,87.75 L500.3,87.75 L500.76,87.75 L501.22,87.74 L501.68,87.74 L502.14,87.74 L502.6,87.73 L503.06,87.73 L503.52,87.72 L503.98,87.72 L504.44,87.72 L504.9,87.71 L505.36,87.71 L505.82,87.7 L506.28,87.7 L506.74,87.7 L507.2,87.69 L507.66,87.69 L508.12,87.68 L508.58,87.68 L509.04,87.67 L509.5,87.67 L509.96,87.66 L510.42,87.66 L510.88,87.65 L511.34,87.65 L511.8,87.64 L512.26,87.64 L512.72,87.63 L513.18,87.62 L513.64,87.62 L514.1,87.61 L514.56,87.61 L515.02,87.6 L515.48,87.59 L515.94,87.59 L516.4,87.58 L516.86,87.57 L517.32,87.57 L517.78,87.56 L518.24,87.55 L518.7,87.55 L519.16,87.54 L519.62,87.53 L520.08,87.52 L520.54,87.52 L521,87.51 L521.46,87.5 L521.92,87.49 L522.38,87.48 L522.84,87.47 L523.3,87.47 L523.76,87.46 L524.22,87.45 L524.68,87.44 L525.14,87.43 L525.6,87.42 L526.06,87.41 L526.52,87.4 L526.98,87.39 L527.44,87.38 L527.9,87.37 L528.36,87.36 L528.82,87.35 L529.28,87.34 L529.74,87.32 L530.2,87.31 L530.66,87.3 L531.12,87.29 L531.58,87.28 L532.04,87.27 L532.5,87.25 L532.96,87.24 L533.42,87.23 L533.88,87.21 L534.34,87.2 L534.8,87.19 L535.26,87.17 L535.72,87.16 L536.18,87.14 L536.64,87.13 L537.1,87.11 L537.56,87.1 L538.02,87.08 L538.48,87.07 L538.94,87.05 L539.4,87.03 L539.86,87.02 L540.32,87 L540.78,86.98 L541.24,86.96 L541.7,86.94 L542.16,86.93 L542.62,86.91 L543.08,86.89 L543.54,86.87 L544,86.85 L544.46,86.83 L544.92,86.81 L545.38,86.79 L545.84,86.77 L546.3,86.74 L546.76,86.72 L547.22,86.7 L547.68,86.68 L548.14,86.65 L548.6,86.63 L549.06,86.6 L549.52,86.58 L549.98,86.55 L550.44,86.53 L550.9,86.5 L551.36,86.48 L551.82,86.45 L552.28,86.42 L552.74,86.39 L553.2,86.37 L553.66,86.34 L554.12,86.31 L554.58,86.28 L555.04,86.25 L555.5,86.22 L555.96,86.19 L556.42,86.15 L556.88,86.12 L557.34,86.09 L557.8,86.05 L558.26,86.02 L558.72,85.98 L559.18,85.95 L559.64,85.91 L560.1,85.88 L560.56,85.84 L561.02,85.8 L561.48,85.76 L561.94,85.72 L562.4,85.68 L562.86,85.64 L563.32,85.6 L563.78,85.56 L564.24,85.52 L564.7,85.47 L565.16,85.43 L565.62,85.39 L566.08,85.34 L566.54,85.29 L567,85.25 L567.46,85.2 L567.92,85.15 L568.38,85.1 L568.84,85.05 L569.3,85 L569.76,84.95 L570.22,84.9 L570.68,84.84 L571.14,84.79 L571.6,84.73 L572.06,84.68 L572.52,84.62 L572.98,84.56 L573.44,84.51 L573.9,84.45 L574.36,84.39 L574.82,84.33 L575.28,84.26 L575.74,84.2 L576.2,84.14 L576.66,84.07 L577.12,84.01 L577.58,83.94 L578.04,83.87 L578.5,83.8 L578.96,83.73 L579.42,83.66 L579.88,83.59 L580.34,83.52 L580.8,83.44 L581.26,83.37 L581.72,83.29 L582.18,83.22 L582.64,83.14 L583.1,83.06 L583.56,82.98 L584.02,82.9 L584.48,82.82 L584.94,82.73 L585.4,82.65 L585.86,82.56 L586.32,82.48 L586.78,82.39 L587.24,82.3 L587.7,82.21 L588.16,82.12 L588.62,82.03 L589.08,81.93 L589.54,81.84 L590,81.74 L590.46,81.65 L590.92,81.55 L591.38,81.45 L591.84,81.35 L592.3,81.25 L592.76,81.14 L593.22,81.04 L593.68,80.94 L594.14,80.83 L594.6,80.72 L595.06,80.61 L595.52,80.5 L595.98,80.39 L596.44,80.28 L596.9,80.17 L597.36,80.05 L597.82,79.94 L598.28,79.82 L598.74,79.7 L599.2,79.58 L599.66,79.46 L600.12,79.34 L600.58,79.21 L601.04,79.09 L601.5,78.96 L601.96,78.83 L602.42,78.7 L602.88,78.56 L603.34,78.42 L603.8,78.28 L604.26,78.13 L604.72,77.98 L605.18,77.82 L605.64,77.66 L606.1,77.49 L606.56,77.3 L607.02,77.1 L607.48,76.89 L607.94,76.65 L608.4,76.39 L608.86,76.1 L609.32,75.77 L609.78,75.4 L610.24,74.97 L610.7,74.47 L611.16,73.89 L611.62,73.21 L612.08,72.42 L612.54,71.5 L613,70.44 L613.46,69.22 L613.92,67.82 L614.38,66.25 L614.84,64.5 L615.3,62.61 L615.76,60.58 L616.22,58.47 L616.68,56.32 L617.14,54.18 L617.6,52.09 L618.06,50.12 L618.52,48.27 L618.98,46.59 L619.44,45.09 L619.9,43.75 L620.36,42.59 L620.82,41.57 L621.28,40.7 L621.74,39.95 L622.2,39.3 L622.66,38.75 L623.12,38.26 L623.58,37.84 L624.04,37.47 L624.5,37.14 L624.96,36.85 L625.42,36.58 L625.88,36.34 L626.34,36.11 L626.8,35.9 L627.26,35.7 L627.72,35.51 L628.18,35.32 L628.64,35.14 L629.1,34.97 L629.56,34.8 L630.02,34.64 L630.48,34.47 L630.94,34.31 L631.4,34.16 L631.86,34 L632.32,33.84 L632.78,33.69 L633.24,33.54 L633.7,33.38 L634.16,33.23 L634.62,33.08 L635.08,32.93 L635.54,32.78 L636,32.64 L636.46,32.49 L636.92,32.34 L637.38,32.2 L637.84,32.05 L638.3,31.91 L638.76,31.77 L639.22,31.62 L639.68,31.48 L640.14,31.34 L640.6,31.2 L641.06,31.06 L641.52,30.93 L641.98,30.79 L642.44,30.65 L642.9,30.52 L643.36,30.38 L643.82,30.25 L644.28,30.12 L644.74,29.99 L645.2,29.86 L645.66,29.73 L646.12,29.6 L646.58,29.47 L647.04,29.35 L647.5,29.22 L647.96,29.1 L648.42,28.97 L648.88,28.85 L649.34,28.73 L649.8,28.61 L650.26,28.49 L650.72,28.38 L651.18,28.26 L651.64,28.14 L652.1,28.03 L652.56,27.92 L653.02,27.81 L653.48,27.69 L653.94,27.59 L654.4,27.48 L654.86,27.37 L655.32,27.26 L655.78,27.16 L656.24,27.06 L656.7,26.95 L657.16,26.85 L657.62,26.75 L658.08,26.65 L658.54,26.55 L659,26.46 L659.46,26.36 L659.92,26.27 L660.38,26.17 L660.84,26.08 L661.3,25.99 L661.76,25.9 L662.22,25.81 L662.68,25.72 L663.14,25.64 L663.6,25.55 L664.06,25.47 L664.52,25.38 L664.98,25.3 L665.44,25.22 L665.9,25.14 L666.36,25.06 L666.82,24.98 L667.28,24.91 L667.74,24.83 L668.2,24.76 L668.66,24.68 L669.12,24.61 L669.58,24.54 L670.04,24.47 L670.5,24.4 L670.96,24.33 L671.42,24.26 L671.88,24.19 L672.34,24.13 L672.8,24.06 L673.26,24 L673.72,23.94 L674.18,23.87 L674.64,23.81 L675.1,23.75 L675.56,23.69 L676.02,23.64 L676.48,23.58 L676.94,23.52 L677.4,23.47 L677.86,23.41 L678.32,23.36 L678.78,23.3 L679.24,23.25 L679.7,23.2 L680.16,23.15 L680.62,23.1 L681.08,23.05 L681.54,23 L682,22.95 L682.46,22.91 L682.92,22.86 L683.38,22.81 L683.84,22.77 L684.3,22.73 L684.76,22.68 L685.22,22.64 L685.68,22.6 L686.14,22.56 L686.6,22.52 L687.06,22.48 L687.52,22.44 L687.98,22.4 L688.44,22.36 L688.9,22.32 L689.36,22.29 L689.82,22.25 L690.28,22.22 L690.74,22.18 L691.2,22.15 L691.66,22.11 L692.12,22.08 L692.58,22.05 L693.04,22.01 L693.5,21.98 L693.96,21.95 L694.42,21.92 L694.88,21.89 L695.34,21.86 L695.8,21.83 L696.26,21.81 L696.72,21.78 L697.18,21.75 L697.64,21.72 L698.1,21.7 L698.56,21.67 L699.02,21.65 L699.48,21.62 L699.94,21.6 L700.4,21.57 L700.86,21.55 L701.32,21.52 L701.78,21.5 L702.24,21.48 L702.7,21.46 L703.16,21.43 L703.62,21.41 L704.08,21.39 L704.54,21.37 L705,21.35 L705.46,21.33 L705.92,21.31 L706.38,21.29 L706.84,21.27 L707.3,21.26 L707.76,21.24 L708.22,21.22 L708.68,21.2 L709.14,21.18 L709.6,21.17 L710.06,21.15 L710.52,21.13 L710.98,21.12 L711.44,21.1 L711.9,21.09 L712.36,21.07 L712.82,21.06 L713.28,21.04 L713.74,21.03 L714.2,21.01 L714.66,21 L715.12,20.99 L715.58,20.97 L716.04,20.96 L716.5,20.95 L716.96,20.93 L717.42,20.92 L717.88,20.91 L718.34,20.9 L718.8,20.89 L719.26,20.88 L719.72,20.86 L720.18,20.85 L720.64,20.84 L721.1,20.83 L721.56,20.82 L722.02,20.81 L722.48,20.8 L722.94,20.79 L723.4,20.78 L723.86,20.77 L724.32,20.76 L724.78,20.75 L725.24,20.74 L725.7,20.73 L726.16,20.73 L726.62,20.72 L727.08,20.71 L727.54,20.7 L728,20.69 L728.46,20.68 L728.92,20.68 L729.38,20.67 L729.84,20.66 L730.3,20.65 L730.76,20.65 L731.22,20.64 L731.68,20.63 L732.14,20.63 L732.6,20.62 L733.06,20.61 L733.52,20.61 L733.98,20.6 L734.44,20.59 L734.9,20.59 L735.36,20.58 L735.82,20.58 L736.28,20.57 L736.74,20.56 L737.2,20.56 L737.66,20.55 L738.12,20.55 L738.58,20.54 L739.04,20.54 L739.5,20.53 L739.96,20.53 L740.42,20.52 L740.88,20.52 L741.34,20.51 L741.8,20.51 L742.26,20.5 L742.72,20.5 L743.18,20.5 L743.64,20.49 L744.1,20.49 L744.56,20.48 L745.02,20.48 L745.48,20.48 L745.94,20.47 L746.4,20.47 L746.86,20.46 L747.32,20.46 L747.78,20.46 L748.24,20.45 L748.7,20.45 L749.16,20.45 L749.62,20.44 L750.08,20.44 L750.54,20.44 L751,20.43 L751.46,20.43 L751.92,20.43 L752.38,20.42 L752.84,20.42 L753.3,20.42" fill="none" stroke="#1e8ef0" stroke-width="1.9"/>
<line x1="476.3" y1="18.8" x2="772.5" y2="18.8" stroke="#333" stroke-width="1.3" />
<line x1="476.9" y1="18.2" x2="476.9" y2="90" stroke="#444" stroke-width="1.3" />
<line x1="771.9" y1="18.2" x2="771.9" y2="90" stroke="#666" stroke-width="1.3" />
<line x1="476.3" y1="89.4" x2="772.5" y2="89.4" stroke="#222" stroke-width="1.2" />
<line x1="476.9" y1="36.45" x2="479.9" y2="36.45" stroke="#333" stroke-width="1" />
<line x1="476.9" y1="71.75" x2="479.9" y2="71.75" stroke="#333" stroke-width="1" />
<line x1="476.9" y1="54.1" x2="480.9" y2="54.1" stroke="#333" stroke-width="1" />
<line x1="514.1" y1="89.4" x2="514.1" y2="86.9" stroke="#333" stroke-width="1" />
<line x1="550.9" y1="89.4" x2="550.9" y2="84.9" stroke="#333" stroke-width="1" />
<line x1="587.7" y1="89.4" x2="587.7" y2="86.9" stroke="#333" stroke-width="1" />
<line x1="624.5" y1="89.4" x2="624.5" y2="84.9" stroke="#333" stroke-width="1" />
<line x1="661.3" y1="89.4" x2="661.3" y2="86.9" stroke="#333" stroke-width="1" />
<line x1="698.1" y1="89.4" x2="698.1" y2="84.9" stroke="#333" stroke-width="1" />
<line x1="734.9" y1="89.4" x2="734.9" y2="86.9" stroke="#333" stroke-width="1" />
<line x1="476.9" y1="134.95" x2="771.9" y2="134.95" stroke="#b5b5b5" stroke-width="1.5" stroke-dasharray="5.6 3.8"/>
<line x1="624.4" y1="100.7" x2="624.4" y2="170.2" stroke="#555" stroke-width="1" stroke-dasharray="5.5 3.5 1 3"/>
<path d="M495.7,150.52 L496.16,150.52 L496.62,150.51 L497.08,150.51 L497.54,150.51 L498,150.5 L498.46,150.5 L498.92,150.5 L499.38,150.49 L499.84,150.49 L500.3,150.49 L500.76,150.48 L501.22,150.48 L501.68,150.48 L502.14,150.47 L502.6,150.47 L503.06,150.47 L503.52,150.46 L503.98,150.46 L504.44,150.46 L504.9,150.45 L505.36,150.45 L505.82,150.45 L506.28,150.44 L506.74,150.44 L507.2,150.43 L507.66,150.43 L508.12,150.43 L508.58,150.42 L509.04,150.42 L509.5,150.41 L509.96,150.41 L510.42,150.41 L510.88,150.4 L511.34,150.4 L511.8,150.39 L512.26,150.39 L512.72,150.39 L513.18,150.38 L513.64,150.38 L514.1,150.37 L514.56,150.37 L515.02,150.36 L515.48,150.36 L515.94,150.35 L516.4,150.35 L516.86,150.35 L517.32,150.34 L517.78,150.34 L518.24,150.33 L518.7,150.33 L519.16,150.32 L519.62,150.32 L520.08,150.32 L520.54,150.31 L521,150.31 L521.46,150.3 L521.92,150.3 L522.38,150.29 L522.84,150.29 L523.3,150.29 L523.76,150.28 L524.22,150.28 L524.68,150.27 L525.14,150.27 L525.6,150.26 L526.06,150.26 L526.52,150.26 L526.98,150.25 L527.44,150.25 L527.9,150.24 L528.36,150.24 L528.82,150.23 L529.28,150.23 L529.74,150.22 L530.2,150.22 L530.66,150.21 L531.12,150.21 L531.58,150.2 L532.04,150.2 L532.5,150.19 L532.96,150.18 L533.42,150.18 L533.88,150.17 L534.34,150.17 L534.8,150.16 L535.26,150.15 L535.72,150.15 L536.18,150.14 L536.64,150.14 L537.1,150.13 L537.56,150.12 L538.02,150.12 L538.48,150.11 L538.94,150.1 L539.4,150.09 L539.86,150.09 L540.32,150.08 L540.78,150.07 L541.24,150.06 L541.7,150.05 L542.16,150.05 L542.62,150.04 L543.08,150.03 L543.54,150.02 L544,150.01 L544.46,150 L544.92,149.99 L545.38,149.98 L545.84,149.97 L546.3,149.96 L546.76,149.95 L547.22,149.94 L547.68,149.93 L548.14,149.92 L548.6,149.91 L549.06,149.9 L549.52,149.88 L549.98,149.87 L550.44,149.85 L550.9,149.83 L551.36,149.81 L551.82,149.79 L552.28,149.77 L552.74,149.75 L553.2,149.73 L553.66,149.7 L554.12,149.68 L554.58,149.65 L555.04,149.62 L555.5,149.6 L555.96,149.57 L556.42,149.54 L556.88,149.51 L557.34,149.48 L557.8,149.45 L558.26,149.41 L558.72,149.38 L559.18,149.35 L559.64,149.31 L560.1,149.28 L560.56,149.24 L561.02,149.2 L561.48,149.17 L561.94,149.13 L562.4,149.09 L562.86,149.05 L563.32,149.01 L563.78,148.97 L564.24,148.93 L564.7,148.89 L565.16,148.85 L565.62,148.81 L566.08,148.77 L566.54,148.72 L567,148.68 L567.46,148.64 L567.92,148.59 L568.38,148.55 L568.84,148.51 L569.3,148.46 L569.76,148.42 L570.22,148.37 L570.68,148.32 L571.14,148.27 L571.6,148.22 L572.06,148.16 L572.52,148.1 L572.98,148.04 L573.44,147.98 L573.9,147.92 L574.36,147.86 L574.82,147.79 L575.28,147.73 L575.74,147.66 L576.2,147.59 L576.66,147.52 L577.12,147.45 L577.58,147.37 L578.04,147.3 L578.5,147.22 L578.96,147.15 L579.42,147.07 L579.88,146.99 L580.34,146.91 L580.8,146.83 L581.26,146.75 L581.72,146.67 L582.18,146.58 L582.64,146.5 L583.1,146.42 L583.56,146.33 L584.02,146.25 L584.48,146.16 L584.94,146.08 L585.4,145.99 L585.86,145.9 L586.32,145.81 L586.78,145.71 L587.24,145.62 L587.7,145.52 L588.16,145.41 L588.62,145.31 L589.08,145.21 L589.54,145.1 L590,144.99 L590.46,144.88 L590.92,144.77 L591.38,144.66 L591.84,144.54 L592.3,144.43 L592.76,144.31 L593.22,144.2 L593.68,144.08 L594.14,143.96 L594.6,143.84 L595.06,143.72 L595.52,143.6 L595.98,143.49 L596.44,143.37 L596.9,143.25 L597.36,143.13 L597.82,143.01 L598.28,142.89 L598.74,142.77 L599.2,142.65 L599.66,142.53 L600.12,142.41 L600.58,142.3 L601.04,142.18 L601.5,142.07 L601.96,141.95 L602.42,141.84 L602.88,141.73 L603.34,141.62 L603.8,141.51 L604.26,141.4 L604.72,141.28 L605.18,141.17 L605.64,141.06 L606.1,140.95 L606.56,140.84 L607.02,140.73 L607.48,140.61 L607.94,140.5 L608.4,140.39 L608.86,140.28 L609.32,140.17 L609.78,140.06 L610.24,139.95 L610.7,139.84 L611.16,139.74 L611.62,139.63 L612.08,139.52 L612.54,139.42 L613,139.31 L613.46,139.21 L613.92,139.11 L614.38,139.01 L614.84,138.91 L615.3,138.81 L615.76,138.71 L616.22,138.61 L616.68,138.51 L617.14,138.42 L617.6,138.32 L618.06,138.22 L618.52,138.13 L618.98,138.03 L619.44,137.95 L619.9,137.87 L620.36,137.81 L620.82,137.74 L621.28,137.66 L621.74,137.56 L622.2,137.45 L622.66,137.3 L623.12,137.03 L623.58,136.59 L624.04,136.07 L624.5,135.54 L624.96,134.96 L625.42,134.3 L625.88,133.67 L626.34,133.19 L626.8,132.84 L627.26,132.52 L627.72,132.23 L628.18,131.97 L628.64,131.74 L629.1,131.51 L629.56,131.3 L630.02,131.1 L630.48,130.89 L630.94,130.69 L631.4,130.48 L631.86,130.25 L632.32,130.02 L632.78,129.78 L633.24,129.54 L633.7,129.3 L634.16,129.07 L634.62,128.83 L635.08,128.59 L635.54,128.36 L636,128.13 L636.46,127.9 L636.92,127.68 L637.38,127.46 L637.84,127.25 L638.3,127.04 L638.76,126.84 L639.22,126.65 L639.68,126.47 L640.14,126.29 L640.6,126.11 L641.06,125.94 L641.52,125.77 L641.98,125.61 L642.44,125.44 L642.9,125.28 L643.36,125.13 L643.82,124.97 L644.28,124.82 L644.74,124.68 L645.2,124.54 L645.66,124.4 L646.12,124.26 L646.58,124.13 L647.04,124 L647.5,123.88 L647.96,123.76 L648.42,123.64 L648.88,123.53 L649.34,123.42 L649.8,123.31 L650.26,123.2 L650.72,123.09 L651.18,122.99 L651.64,122.88 L652.1,122.78 L652.56,122.69 L653.02,122.59 L653.48,122.5 L653.94,122.41 L654.4,122.32 L654.86,122.23 L655.32,122.15 L655.78,122.07 L656.24,121.99 L656.7,121.92 L657.16,121.85 L657.62,121.78 L658.08,121.72 L658.54,121.66 L659,121.6 L659.46,121.53 L659.92,121.47 L660.38,121.42 L660.84,121.36 L661.3,121.3 L661.76,121.24 L662.22,121.19 L662.68,121.13 L663.14,121.08 L663.6,121.02 L664.06,120.97 L664.52,120.92 L664.98,120.87 L665.44,120.82 L665.9,120.77 L666.36,120.72 L666.82,120.67 L667.28,120.62 L667.74,120.58 L668.2,120.54 L668.66,120.49 L669.12,120.45 L669.58,120.41 L670.04,120.37 L670.5,120.33 L670.96,120.29 L671.42,120.26 L671.88,120.22 L672.34,120.19 L672.8,120.16 L673.26,120.13 L673.72,120.1 L674.18,120.07 L674.64,120.04 L675.1,120.02 L675.56,119.99 L676.02,119.97 L676.48,119.95 L676.94,119.93 L677.4,119.9 L677.86,119.88 L678.32,119.86 L678.78,119.84 L679.24,119.82 L679.7,119.8 L680.16,119.78 L680.62,119.76 L681.08,119.75 L681.54,119.73 L682,119.71 L682.46,119.69 L682.92,119.68 L683.38,119.66 L683.84,119.64 L684.3,119.63 L684.76,119.61 L685.22,119.6 L685.68,119.58 L686.14,119.57 L686.6,119.56 L687.06,119.54 L687.52,119.53 L687.98,119.52 L688.44,119.5 L688.9,119.49 L689.36,119.48 L689.82,119.47 L690.28,119.46 L690.74,119.45 L691.2,119.44 L691.66,119.43 L692.12,119.42 L692.58,119.41 L693.04,119.4 L693.5,119.4 L693.96,119.39 L694.42,119.38 L694.88,119.37 L695.34,119.37 L695.8,119.36 L696.26,119.36 L696.72,119.35 L697.18,119.34 L697.64,119.34 L698.1,119.33 L698.56,119.32 L699.02,119.32 L699.48,119.31 L699.94,119.31 L700.4,119.3 L700.86,119.3 L701.32,119.29 L701.78,119.29 L702.24,119.28 L702.7,119.28 L703.16,119.27 L703.62,119.27 L704.08,119.26 L704.54,119.26 L705,119.25 L705.46,119.25 L705.92,119.24 L706.38,119.24 L706.84,119.24 L707.3,119.23 L707.76,119.23 L708.22,119.23 L708.68,119.22 L709.14,119.22 L709.6,119.21 L710.06,119.21 L710.52,119.21 L710.98,119.21 L711.44,119.2 L711.9,119.2 L712.36,119.2 L712.82,119.19 L713.28,119.19 L713.74,119.19 L714.2,119.19 L714.66,119.18 L715.12,119.18 L715.58,119.18 L716.04,119.18 L716.5,119.18 L716.96,119.17 L717.42,119.17 L717.88,119.17 L718.34,119.17 L718.8,119.17 L719.26,119.16 L719.72,119.16 L720.18,119.16 L720.64,119.16 L721.1,119.16 L721.56,119.16 L722.02,119.15 L722.48,119.15 L722.94,119.15 L723.4,119.15 L723.86,119.15 L724.32,119.15 L724.78,119.14 L725.24,119.14 L725.7,119.14 L726.16,119.14 L726.62,119.14 L727.08,119.14 L727.54,119.13 L728,119.13 L728.46,119.13 L728.92,119.13 L729.38,119.13 L729.84,119.13 L730.3,119.13 L730.76,119.12 L731.22,119.12 L731.68,119.12 L732.14,119.12 L732.6,119.12 L733.06,119.12 L733.52,119.12 L733.98,119.12 L734.44,119.11 L734.9,119.11 L735.36,119.11 L735.82,119.11 L736.28,119.11 L736.74,119.11 L737.2,119.11 L737.66,119.11 L738.12,119.11 L738.58,119.1 L739.04,119.1 L739.5,119.1 L739.96,119.1 L740.42,119.1 L740.88,119.1 L741.34,119.1 L741.8,119.1 L742.26,119.1 L742.72,119.1 L743.18,119.1 L743.64,119.1 L744.1,119.09 L744.56,119.09 L745.02,119.09 L745.48,119.09 L745.94,119.09 L746.4,119.09 L746.86,119.09 L747.32,119.09 L747.78,119.09 L748.24,119.09 L748.7,119.09 L749.16,119.09 L749.62,119.09 L750.08,119.09 L750.54,119.09 L751,119.09 L751.46,119.09 L751.92,119.09 L752.38,119.09 L752.84,119.09 L753.3,119.09" fill="none" stroke="#1e8ef0" stroke-width="2.2"/>
<path d="M495.7,147.29 L496.16,147.28 L496.62,147.27 L497.08,147.26 L497.54,147.25 L498,147.24 L498.46,147.23 L498.92,147.22 L499.38,147.21 L499.84,147.2 L500.3,147.2 L500.76,147.19 L501.22,147.17 L501.68,147.16 L502.14,147.15 L502.6,147.14 L503.06,147.13 L503.52,147.12 L503.98,147.11 L504.44,147.1 L504.9,147.09 L505.36,147.08 L505.82,147.07 L506.28,147.05 L506.74,147.04 L507.2,147.03 L507.66,147.02 L508.12,147.01 L508.58,146.99 L509.04,146.98 L509.5,146.97 L509.96,146.96 L510.42,146.94 L510.88,146.93 L511.34,146.92 L511.8,146.91 L512.26,146.89 L512.72,146.88 L513.18,146.87 L513.64,146.85 L514.1,146.84 L514.56,146.83 L515.02,146.81 L515.48,146.8 L515.94,146.78 L516.4,146.77 L516.86,146.76 L517.32,146.74 L517.78,146.73 L518.24,146.71 L518.7,146.7 L519.16,146.69 L519.62,146.67 L520.08,146.66 L520.54,146.64 L521,146.63 L521.46,146.61 L521.92,146.6 L522.38,146.58 L522.84,146.57 L523.3,146.55 L523.76,146.54 L524.22,146.52 L524.68,146.51 L525.14,146.49 L525.6,146.48 L526.06,146.46 L526.52,146.44 L526.98,146.43 L527.44,146.41 L527.9,146.4 L528.36,146.38 L528.82,146.36 L529.28,146.35 L529.74,146.33 L530.2,146.31 L530.66,146.3 L531.12,146.28 L531.58,146.26 L532.04,146.24 L532.5,146.23 L532.96,146.21 L533.42,146.19 L533.88,146.17 L534.34,146.15 L534.8,146.13 L535.26,146.12 L535.72,146.1 L536.18,146.08 L536.64,146.06 L537.1,146.04 L537.56,146.02 L538.02,146 L538.48,145.98 L538.94,145.96 L539.4,145.94 L539.86,145.92 L540.32,145.9 L540.78,145.87 L541.24,145.85 L541.7,145.83 L542.16,145.81 L542.62,145.79 L543.08,145.77 L543.54,145.74 L544,145.72 L544.46,145.7 L544.92,145.67 L545.38,145.65 L545.84,145.63 L546.3,145.6 L546.76,145.58 L547.22,145.55 L547.68,145.53 L548.14,145.51 L548.6,145.48 L549.06,145.45 L549.52,145.43 L549.98,145.4 L550.44,145.38 L550.9,145.35 L551.36,145.32 L551.82,145.29 L552.28,145.27 L552.74,145.24 L553.2,145.21 L553.66,145.18 L554.12,145.15 L554.58,145.12 L555.04,145.09 L555.5,145.06 L555.96,145.03 L556.42,145 L556.88,144.97 L557.34,144.94 L557.8,144.9 L558.26,144.87 L558.72,144.84 L559.18,144.81 L559.64,144.77 L560.1,144.74 L560.56,144.71 L561.02,144.67 L561.48,144.64 L561.94,144.6 L562.4,144.57 L562.86,144.53 L563.32,144.5 L563.78,144.46 L564.24,144.43 L564.7,144.39 L565.16,144.35 L565.62,144.32 L566.08,144.28 L566.54,144.24 L567,144.2 L567.46,144.17 L567.92,144.13 L568.38,144.09 L568.84,144.05 L569.3,144.01 L569.76,143.97 L570.22,143.93 L570.68,143.89 L571.14,143.85 L571.6,143.81 L572.06,143.77 L572.52,143.73 L572.98,143.69 L573.44,143.65 L573.9,143.61 L574.36,143.57 L574.82,143.53 L575.28,143.49 L575.74,143.45 L576.2,143.4 L576.66,143.36 L577.12,143.32 L577.58,143.28 L578.04,143.23 L578.5,143.19 L578.96,143.15 L579.42,143.1 L579.88,143.06 L580.34,143.02 L580.8,142.97 L581.26,142.93 L581.72,142.88 L582.18,142.84 L582.64,142.79 L583.1,142.75 L583.56,142.71 L584.02,142.66 L584.48,142.61 L584.94,142.57 L585.4,142.52 L585.86,142.48 L586.32,142.43 L586.78,142.38 L587.24,142.33 L587.7,142.28 L588.16,142.23 L588.62,142.18 L589.08,142.13 L589.54,142.08 L590,142.03 L590.46,141.97 L590.92,141.92 L591.38,141.87 L591.84,141.81 L592.3,141.76 L592.76,141.7 L593.22,141.65 L593.68,141.59 L594.14,141.53 L594.6,141.47 L595.06,141.42 L595.52,141.36 L595.98,141.3 L596.44,141.24 L596.9,141.18 L597.36,141.12 L597.82,141.06 L598.28,141 L598.74,140.94 L599.2,140.88 L599.66,140.82 L600.12,140.76 L600.58,140.7 L601.04,140.63 L601.5,140.57 L601.96,140.51 L602.42,140.45 L602.88,140.39 L603.34,140.32 L603.8,140.26 L604.26,140.2 L604.72,140.13 L605.18,140.07 L605.64,140.01 L606.1,139.94 L606.56,139.88 L607.02,139.82 L607.48,139.75 L607.94,139.69 L608.4,139.62 L608.86,139.55 L609.32,139.49 L609.78,139.42 L610.24,139.35 L610.7,139.28 L611.16,139.21 L611.62,139.14 L612.08,139.07 L612.54,139 L613,138.93 L613.46,138.86 L613.92,138.79 L614.38,138.72 L614.84,138.64 L615.3,138.57 L615.76,138.5 L616.22,138.42 L616.68,138.35 L617.14,138.27 L617.6,138.2 L618.06,138.12 L618.52,138.06 L618.98,138 L619.44,137.94 L619.9,137.88 L620.36,137.82 L620.82,137.75 L621.28,137.66 L621.74,137.56 L622.2,137.44 L622.66,137.3 L623.12,137.03 L623.58,136.59 L624.04,136.07 L624.5,135.54 L624.96,134.94 L625.42,134.26 L625.88,133.62 L626.34,133.19 L626.8,132.91 L627.26,132.67 L627.72,132.45 L628.18,132.26 L628.64,132.09 L629.1,131.93 L629.56,131.79 L630.02,131.66 L630.48,131.53 L630.94,131.4 L631.4,131.27 L631.86,131.13 L632.32,130.99 L632.78,130.85 L633.24,130.72 L633.7,130.58 L634.16,130.45 L634.62,130.32 L635.08,130.2 L635.54,130.07 L636,129.95 L636.46,129.83 L636.92,129.72 L637.38,129.61 L637.84,129.5 L638.3,129.39 L638.76,129.29 L639.22,129.19 L639.68,129.09 L640.14,129 L640.6,128.91 L641.06,128.81 L641.52,128.72 L641.98,128.63 L642.44,128.55 L642.9,128.46 L643.36,128.37 L643.82,128.29 L644.28,128.2 L644.74,128.12 L645.2,128.04 L645.66,127.96 L646.12,127.88 L646.58,127.8 L647.04,127.72 L647.5,127.64 L647.96,127.56 L648.42,127.49 L648.88,127.42 L649.34,127.34 L649.8,127.27 L650.26,127.2 L650.72,127.13 L651.18,127.06 L651.64,126.99 L652.1,126.92 L652.56,126.86 L653.02,126.79 L653.48,126.73 L653.94,126.66 L654.4,126.6 L654.86,126.54 L655.32,126.48 L655.78,126.42 L656.24,126.36 L656.7,126.3 L657.16,126.24 L657.62,126.18 L658.08,126.13 L658.54,126.07 L659,126.02 L659.46,125.96 L659.92,125.91 L660.38,125.86 L660.84,125.8 L661.3,125.75 L661.76,125.7 L662.22,125.65 L662.68,125.6 L663.14,125.55 L663.6,125.5 L664.06,125.45 L664.52,125.4 L664.98,125.36 L665.44,125.31 L665.9,125.26 L666.36,125.22 L666.82,125.17 L667.28,125.13 L667.74,125.09 L668.2,125.04 L668.66,125 L669.12,124.96 L669.58,124.91 L670.04,124.87 L670.5,124.83 L670.96,124.79 L671.42,124.75 L671.88,124.71 L672.34,124.67 L672.8,124.63 L673.26,124.6 L673.72,124.56 L674.18,124.52 L674.64,124.48 L675.1,124.45 L675.56,124.41 L676.02,124.37 L676.48,124.34 L676.94,124.3 L677.4,124.27 L677.86,124.23 L678.32,124.2 L678.78,124.17 L679.24,124.13 L679.7,124.1 L680.16,124.06 L680.62,124.03 L681.08,124 L681.54,123.96 L682,123.93 L682.46,123.9 L682.92,123.87 L683.38,123.83 L683.84,123.8 L684.3,123.77 L684.76,123.74 L685.22,123.71 L685.68,123.68 L686.14,123.65 L686.6,123.62 L687.06,123.59 L687.52,123.57 L687.98,123.54 L688.44,123.51 L688.9,123.48 L689.36,123.46 L689.82,123.43 L690.28,123.41 L690.74,123.38 L691.2,123.36 L691.66,123.33 L692.12,123.31 L692.58,123.29 L693.04,123.26 L693.5,123.24 L693.96,123.22 L694.42,123.2 L694.88,123.18 L695.34,123.16 L695.8,123.14 L696.26,123.12 L696.72,123.1 L697.18,123.08 L697.64,123.06 L698.1,123.04 L698.56,123.02 L699.02,123 L699.48,122.99 L699.94,122.97 L700.4,122.95 L700.86,122.93 L701.32,122.91 L701.78,122.9 L702.24,122.88 L702.7,122.86 L703.16,122.84 L703.62,122.83 L704.08,122.81 L704.54,122.79 L705,122.78 L705.46,122.76 L705.92,122.75 L706.38,122.73 L706.84,122.72 L707.3,122.7 L707.76,122.69 L708.22,122.67 L708.68,122.66 L709.14,122.64 L709.6,122.63 L710.06,122.62 L710.52,122.6 L710.98,122.59 L711.44,122.58 L711.9,122.57 L712.36,122.56 L712.82,122.54 L713.28,122.53 L713.74,122.52 L714.2,122.51 L714.66,122.5 L715.12,122.49 L715.58,122.48 L716.04,122.47 L716.5,122.47 L716.96,122.46 L717.42,122.45 L717.88,122.44 L718.34,122.43 L718.8,122.42 L719.26,122.42 L719.72,122.41 L720.18,122.4 L720.64,122.39 L721.1,122.38 L721.56,122.37 L722.02,122.37 L722.48,122.36 L722.94,122.35 L723.4,122.34 L723.86,122.33 L724.32,122.33 L724.78,122.32 L725.24,122.31 L725.7,122.3 L726.16,122.29 L726.62,122.29 L727.08,122.28 L727.54,122.27 L728,122.26 L728.46,122.26 L728.92,122.25 L729.38,122.24 L729.84,122.23 L730.3,122.23 L730.76,122.22 L731.22,122.21 L731.68,122.21 L732.14,122.2 L732.6,122.19 L733.06,122.19 L733.52,122.18 L733.98,122.17 L734.44,122.17 L734.9,122.16 L735.36,122.15 L735.82,122.15 L736.28,122.14 L736.74,122.14 L737.2,122.13 L737.66,122.13 L738.12,122.12 L738.58,122.12 L739.04,122.11 L739.5,122.11 L739.96,122.1 L740.42,122.1 L740.88,122.09 L741.34,122.09 L741.8,122.08 L742.26,122.08 L742.72,122.07 L743.18,122.07 L743.64,122.07 L744.1,122.06 L744.56,122.06 L745.02,122.06 L745.48,122.05 L745.94,122.05 L746.4,122.05 L746.86,122.04 L747.32,122.04 L747.78,122.04 L748.24,122.04 L748.7,122.03 L749.16,122.03 L749.62,122.03 L750.08,122.03 L750.54,122.03 L751,122.03 L751.46,122.03 L751.92,122.03 L752.38,122.03 L752.84,122.03 L753.3,122.02" fill="none" stroke="#f01010" stroke-width="2.3"/>
<line x1="476.3" y1="99.7" x2="772.5" y2="99.7" stroke="#333" stroke-width="1.3" />
<line x1="476.9" y1="99.1" x2="476.9" y2="170.8" stroke="#444" stroke-width="1.3" />
<line x1="771.9" y1="99.1" x2="771.9" y2="170.8" stroke="#666" stroke-width="1.3" />
<line x1="476.3" y1="170.2" x2="772.5" y2="170.2" stroke="#222" stroke-width="1.2" />
<line x1="476.9" y1="117.32" x2="479.9" y2="117.32" stroke="#333" stroke-width="1" />
<line x1="476.9" y1="152.57" x2="479.9" y2="152.57" stroke="#333" stroke-width="1" />
<line x1="476.9" y1="134.95" x2="480.9" y2="134.95" stroke="#333" stroke-width="1" />
<line x1="514.1" y1="170.2" x2="514.1" y2="167.7" stroke="#333" stroke-width="1" />
<line x1="550.9" y1="170.2" x2="550.9" y2="165.7" stroke="#333" stroke-width="1" />
<line x1="587.7" y1="170.2" x2="587.7" y2="167.7" stroke="#333" stroke-width="1" />
<line x1="624.5" y1="170.2" x2="624.5" y2="165.7" stroke="#333" stroke-width="1" />
<line x1="661.3" y1="170.2" x2="661.3" y2="167.7" stroke="#333" stroke-width="1" />
<line x1="698.1" y1="170.2" x2="698.1" y2="165.7" stroke="#333" stroke-width="1" />
<line x1="734.9" y1="170.2" x2="734.9" y2="167.7" stroke="#333" stroke-width="1" />
<line x1="476.9" y1="213.3" x2="771.9" y2="213.3" stroke="#777" stroke-width="0.8" />
<line x1="624.4" y1="179.1" x2="624.4" y2="248.5" stroke="#555" stroke-width="1" stroke-dasharray="5.5 3.5 1 3"/>
<path d="M495.7,213.87 L496.16,213.87 L496.62,213.87 L497.08,213.86 L497.54,213.86 L498,213.86 L498.46,213.86 L498.92,213.86 L499.38,213.86 L499.84,213.85 L500.3,213.85 L500.76,213.85 L501.22,213.85 L501.68,213.85 L502.14,213.85 L502.6,213.84 L503.06,213.84 L503.52,213.84 L503.98,213.84 L504.44,213.84 L504.9,213.84 L505.36,213.84 L505.82,213.83 L506.28,213.83 L506.74,213.83 L507.2,213.83 L507.66,213.83 L508.12,213.83 L508.58,213.82 L509.04,213.82 L509.5,213.82 L509.96,213.82 L510.42,213.82 L510.88,213.82 L511.34,213.81 L511.8,213.81 L512.26,213.81 L512.72,213.81 L513.18,213.81 L513.64,213.81 L514.1,213.8 L514.56,213.8 L515.02,213.8 L515.48,213.8 L515.94,213.8 L516.4,213.8 L516.86,213.79 L517.32,213.79 L517.78,213.79 L518.24,213.79 L518.7,213.79 L519.16,213.79 L519.62,213.79 L520.08,213.78 L520.54,213.78 L521,213.78 L521.46,213.78 L521.92,213.78 L522.38,213.78 L522.84,213.77 L523.3,213.77 L523.76,213.77 L524.22,213.77 L524.68,213.77 L525.14,213.77 L525.6,213.76 L526.06,213.76 L526.52,213.76 L526.98,213.76 L527.44,213.76 L527.9,213.76 L528.36,213.75 L528.82,213.75 L529.28,213.75 L529.74,213.75 L530.2,213.75 L530.66,213.75 L531.12,213.74 L531.58,213.74 L532.04,213.74 L532.5,213.74 L532.96,213.74 L533.42,213.74 L533.88,213.74 L534.34,213.73 L534.8,213.73 L535.26,213.73 L535.72,213.73 L536.18,213.73 L536.64,213.73 L537.1,213.72 L537.56,213.72 L538.02,213.72 L538.48,213.72 L538.94,213.72 L539.4,213.72 L539.86,213.71 L540.32,213.71 L540.78,213.71 L541.24,213.71 L541.7,213.71 L542.16,213.71 L542.62,213.7 L543.08,213.7 L543.54,213.7 L544,213.7 L544.46,213.7 L544.92,213.7 L545.38,213.69 L545.84,213.69 L546.3,213.69 L546.76,213.69 L547.22,213.69 L547.68,213.69 L548.14,213.69 L548.6,213.68 L549.06,213.68 L549.52,213.68 L549.98,213.68 L550.44,213.68 L550.9,213.68 L551.36,213.67 L551.82,213.67 L552.28,213.67 L552.74,213.67 L553.2,213.67 L553.66,213.67 L554.12,213.66 L554.58,213.66 L555.04,213.66 L555.5,213.66 L555.96,213.66 L556.42,213.66 L556.88,213.65 L557.34,213.65 L557.8,213.65 L558.26,213.65 L558.72,213.65 L559.18,213.65 L559.64,213.64 L560.1,213.64 L560.56,213.64 L561.02,213.64 L561.48,213.64 L561.94,213.64 L562.4,213.64 L562.86,213.63 L563.32,213.63 L563.78,213.63 L564.24,213.63 L564.7,213.63 L565.16,213.63 L565.62,213.62 L566.08,213.62 L566.54,213.62 L567,213.62 L567.46,213.62 L567.92,213.62 L568.38,213.61 L568.84,213.61 L569.3,213.61 L569.76,213.61 L570.22,213.61 L570.68,213.61 L571.14,213.6 L571.6,213.6 L572.06,213.6 L572.52,213.6 L572.98,213.6 L573.44,213.6 L573.9,213.59 L574.36,213.59 L574.82,213.59 L575.28,213.59 L575.74,213.59 L576.2,213.59 L576.66,213.59 L577.12,213.58 L577.58,213.58 L578.04,213.58 L578.5,213.58 L578.96,213.58 L579.42,213.58 L579.88,213.57 L580.34,213.57 L580.8,213.57 L581.26,213.57 L581.72,213.57 L582.18,213.57 L582.64,213.56 L583.1,213.56 L583.56,213.56 L584.02,213.56 L584.48,213.56 L584.94,213.56 L585.4,213.55 L585.86,213.55 L586.32,213.55 L586.78,213.55 L587.24,213.55 L587.7,213.55 L588.16,213.54 L588.62,213.54 L589.08,213.54 L589.54,213.54 L590,213.54 L590.46,213.54 L590.92,213.54 L591.38,213.53 L591.84,213.53 L592.3,213.53 L592.76,213.53 L593.22,213.53 L593.68,213.53 L594.14,213.52 L594.6,213.52 L595.06,213.52 L595.52,213.52 L595.98,213.52 L596.44,213.52 L596.9,213.51 L597.36,213.51 L597.82,213.51 L598.28,213.51 L598.74,213.51 L599.2,213.51 L599.66,213.5 L600.12,213.5 L600.58,213.5 L601.04,213.5 L601.5,213.5 L601.96,213.5 L602.42,213.49 L602.88,213.49 L603.34,213.49 L603.8,213.49 L604.26,213.49 L604.72,213.49 L605.18,213.48 L605.64,213.48 L606.1,213.48 L606.56,213.48 L607.02,213.48 L607.48,213.48 L607.94,213.47 L608.4,213.47 L608.86,213.47 L609.32,213.47 L609.78,213.47 L610.24,213.47 L610.7,213.46 L611.16,213.46 L611.62,213.46 L612.08,213.46 L612.54,213.46 L613,213.45 L613.46,213.45 L613.92,213.45 L614.38,213.45 L614.84,213.44 L615.3,213.44 L615.76,213.44 L616.22,213.44 L616.68,213.43 L617.14,213.43 L617.6,213.42 L618.06,213.42 L618.52,213.41 L618.98,213.41 L619.44,213.4 L619.9,213.4 L620.36,213.39 L620.82,213.38 L621.28,213.37 L621.74,213.36 L622.2,213.35 L622.66,213.34 L623.12,213.33 L623.58,213.32 L624.04,213.31 L624.5,213.3 L624.96,213.29 L625.42,213.28 L625.88,213.27 L626.34,213.26 L626.8,213.25 L627.26,213.24 L627.72,213.23 L628.18,213.22 L628.64,213.21 L629.1,213.2 L629.56,213.2 L630.02,213.19 L630.48,213.19 L630.94,213.18 L631.4,213.18 L631.86,213.17 L632.32,213.17 L632.78,213.16 L633.24,213.16 L633.7,213.16 L634.16,213.16 L634.62,213.15 L635.08,213.15 L635.54,213.15 L636,213.15 L636.46,213.14 L636.92,213.14 L637.38,213.14 L637.84,213.14 L638.3,213.14 L638.76,213.13 L639.22,213.13 L639.68,213.13 L640.14,213.13 L640.6,213.13 L641.06,213.13 L641.52,213.12 L641.98,213.12 L642.44,213.12 L642.9,213.12 L643.36,213.12 L643.82,213.12 L644.28,213.11 L644.74,213.11 L645.2,213.11 L645.66,213.11 L646.12,213.11 L646.58,213.11 L647.04,213.1 L647.5,213.1 L647.96,213.1 L648.42,213.1 L648.88,213.1 L649.34,213.1 L649.8,213.09 L650.26,213.09 L650.72,213.09 L651.18,213.09 L651.64,213.09 L652.1,213.09 L652.56,213.08 L653.02,213.08 L653.48,213.08 L653.94,213.08 L654.4,213.08 L654.86,213.08 L655.32,213.07 L655.78,213.07 L656.24,213.07 L656.7,213.07 L657.16,213.07 L657.62,213.07 L658.08,213.06 L658.54,213.06 L659,213.06 L659.46,213.06 L659.92,213.06 L660.38,213.06 L660.84,213.06 L661.3,213.05 L661.76,213.05 L662.22,213.05 L662.68,213.05 L663.14,213.05 L663.6,213.05 L664.06,213.04 L664.52,213.04 L664.98,213.04 L665.44,213.04 L665.9,213.04 L666.36,213.04 L666.82,213.03 L667.28,213.03 L667.74,213.03 L668.2,213.03 L668.66,213.03 L669.12,213.03 L669.58,213.02 L670.04,213.02 L670.5,213.02 L670.96,213.02 L671.42,213.02 L671.88,213.02 L672.34,213.01 L672.8,213.01 L673.26,213.01 L673.72,213.01 L674.18,213.01 L674.64,213.01 L675.1,213.01 L675.56,213 L676.02,213 L676.48,213 L676.94,213 L677.4,213 L677.86,213 L678.32,212.99 L678.78,212.99 L679.24,212.99 L679.7,212.99 L680.16,212.99 L680.62,212.99 L681.08,212.98 L681.54,212.98 L682,212.98 L682.46,212.98 L682.92,212.98 L683.38,212.98 L683.84,212.97 L684.3,212.97 L684.76,212.97 L685.22,212.97 L685.68,212.97 L686.14,212.97 L686.6,212.96 L687.06,212.96 L687.52,212.96 L687.98,212.96 L688.44,212.96 L688.9,212.96 L689.36,212.96 L689.82,212.95 L690.28,212.95 L690.74,212.95 L691.2,212.95 L691.66,212.95 L692.12,212.95 L692.58,212.94 L693.04,212.94 L693.5,212.94 L693.96,212.94 L694.42,212.94 L694.88,212.94 L695.34,212.93 L695.8,212.93 L696.26,212.93 L696.72,212.93 L697.18,212.93 L697.64,212.93 L698.1,212.92 L698.56,212.92 L699.02,212.92 L699.48,212.92 L699.94,212.92 L700.4,212.92 L700.86,212.91 L701.32,212.91 L701.78,212.91 L702.24,212.91 L702.7,212.91 L703.16,212.91 L703.62,212.91 L704.08,212.9 L704.54,212.9 L705,212.9 L705.46,212.9 L705.92,212.9 L706.38,212.9 L706.84,212.89 L707.3,212.89 L707.76,212.89 L708.22,212.89 L708.68,212.89 L709.14,212.89 L709.6,212.88 L710.06,212.88 L710.52,212.88 L710.98,212.88 L711.44,212.88 L711.9,212.88 L712.36,212.87 L712.82,212.87 L713.28,212.87 L713.74,212.87 L714.2,212.87 L714.66,212.87 L715.12,212.86 L715.58,212.86 L716.04,212.86 L716.5,212.86 L716.96,212.86 L717.42,212.86 L717.88,212.86 L718.34,212.85 L718.8,212.85 L719.26,212.85 L719.72,212.85 L720.18,212.85 L720.64,212.85 L721.1,212.84 L721.56,212.84 L722.02,212.84 L722.48,212.84 L722.94,212.84 L723.4,212.84 L723.86,212.83 L724.32,212.83 L724.78,212.83 L725.24,212.83 L725.7,212.83 L726.16,212.83 L726.62,212.82 L727.08,212.82 L727.54,212.82 L728,212.82 L728.46,212.82 L728.92,212.82 L729.38,212.81 L729.84,212.81 L730.3,212.81 L730.76,212.81 L731.22,212.81 L731.68,212.81 L732.14,212.81 L732.6,212.8 L733.06,212.8 L733.52,212.8 L733.98,212.8 L734.44,212.8 L734.9,212.8 L735.36,212.79 L735.82,212.79 L736.28,212.79 L736.74,212.79 L737.2,212.79 L737.66,212.79 L738.12,212.78 L738.58,212.78 L739.04,212.78 L739.5,212.78 L739.96,212.78 L740.42,212.78 L740.88,212.77 L741.34,212.77 L741.8,212.77 L742.26,212.77 L742.72,212.77 L743.18,212.77 L743.64,212.76 L744.1,212.76 L744.56,212.76 L745.02,212.76 L745.48,212.76 L745.94,212.76 L746.4,212.76 L746.86,212.75 L747.32,212.75 L747.78,212.75 L748.24,212.75 L748.7,212.75 L749.16,212.75 L749.62,212.74 L750.08,212.74 L750.54,212.74 L751,212.74 L751.46,212.74 L751.92,212.74 L752.38,212.73 L752.84,212.73 L753.3,212.73" fill="none" stroke="#1e8ef0" stroke-width="1.6"/>
<path d="M495.7,215.57 L496.16,215.57 L496.62,215.56 L497.08,215.56 L497.54,215.55 L498,215.55 L498.46,215.54 L498.92,215.54 L499.38,215.54 L499.84,215.53 L500.3,215.53 L500.76,215.52 L501.22,215.52 L501.68,215.51 L502.14,215.51 L502.6,215.5 L503.06,215.5 L503.52,215.49 L503.98,215.49 L504.44,215.48 L504.9,215.48 L505.36,215.47 L505.82,215.47 L506.28,215.46 L506.74,215.46 L507.2,215.45 L507.66,215.45 L508.12,215.44 L508.58,215.44 L509.04,215.44 L509.5,215.43 L509.96,215.43 L510.42,215.42 L510.88,215.42 L511.34,215.41 L511.8,215.41 L512.26,215.4 L512.72,215.4 L513.18,215.39 L513.64,215.39 L514.1,215.38 L514.56,215.38 L515.02,215.37 L515.48,215.37 L515.94,215.36 L516.4,215.36 L516.86,215.35 L517.32,215.35 L517.78,215.34 L518.24,215.34 L518.7,215.33 L519.16,215.33 L519.62,215.33 L520.08,215.32 L520.54,215.32 L521,215.31 L521.46,215.31 L521.92,215.3 L522.38,215.3 L522.84,215.29 L523.3,215.29 L523.76,215.28 L524.22,215.28 L524.68,215.27 L525.14,215.27 L525.6,215.26 L526.06,215.26 L526.52,215.25 L526.98,215.25 L527.44,215.24 L527.9,215.24 L528.36,215.23 L528.82,215.23 L529.28,215.23 L529.74,215.22 L530.2,215.22 L530.66,215.21 L531.12,215.21 L531.58,215.2 L532.04,215.2 L532.5,215.19 L532.96,215.19 L533.42,215.18 L533.88,215.18 L534.34,215.17 L534.8,215.17 L535.26,215.16 L535.72,215.16 L536.18,215.15 L536.64,215.15 L537.1,215.14 L537.56,215.14 L538.02,215.13 L538.48,215.13 L538.94,215.13 L539.4,215.12 L539.86,215.12 L540.32,215.11 L540.78,215.11 L541.24,215.1 L541.7,215.1 L542.16,215.09 L542.62,215.09 L543.08,215.08 L543.54,215.08 L544,215.07 L544.46,215.07 L544.92,215.06 L545.38,215.06 L545.84,215.05 L546.3,215.05 L546.76,215.04 L547.22,215.04 L547.68,215.03 L548.14,215.03 L548.6,215.03 L549.06,215.02 L549.52,215.02 L549.98,215.01 L550.44,215.01 L550.9,215 L551.36,215 L551.82,214.99 L552.28,214.99 L552.74,214.98 L553.2,214.98 L553.66,214.97 L554.12,214.97 L554.58,214.96 L555.04,214.96 L555.5,214.95 L555.96,214.95 L556.42,214.94 L556.88,214.94 L557.34,214.93 L557.8,214.93 L558.26,214.93 L558.72,214.92 L559.18,214.92 L559.64,214.91 L560.1,214.91 L560.56,214.9 L561.02,214.9 L561.48,214.89 L561.94,214.89 L562.4,214.88 L562.86,214.88 L563.32,214.87 L563.78,214.87 L564.24,214.86 L564.7,214.86 L565.16,214.85 L565.62,214.85 L566.08,214.84 L566.54,214.84 L567,214.83 L567.46,214.83 L567.92,214.82 L568.38,214.82 L568.84,214.82 L569.3,214.81 L569.76,214.81 L570.22,214.8 L570.68,214.8 L571.14,214.79 L571.6,214.79 L572.06,214.78 L572.52,214.78 L572.98,214.77 L573.44,214.77 L573.9,214.76 L574.36,214.76 L574.82,214.75 L575.28,214.75 L575.74,214.74 L576.2,214.74 L576.66,214.73 L577.12,214.73 L577.58,214.72 L578.04,214.72 L578.5,214.72 L578.96,214.71 L579.42,214.71 L579.88,214.7 L580.34,214.7 L580.8,214.69 L581.26,214.69 L581.72,214.68 L582.18,214.68 L582.64,214.67 L583.1,214.67 L583.56,214.66 L584.02,214.66 L584.48,214.65 L584.94,214.65 L585.4,214.64 L585.86,214.64 L586.32,214.63 L586.78,214.63 L587.24,214.62 L587.7,214.62 L588.16,214.61 L588.62,214.61 L589.08,214.6 L589.54,214.6 L590,214.6 L590.46,214.59 L590.92,214.59 L591.38,214.58 L591.84,214.58 L592.3,214.57 L592.76,214.57 L593.22,214.56 L593.68,214.56 L594.14,214.55 L594.6,214.55 L595.06,214.54 L595.52,214.54 L595.98,214.53 L596.44,214.53 L596.9,214.52 L597.36,214.51 L597.82,214.51 L598.28,214.5 L598.74,214.5 L599.2,214.49 L599.66,214.49 L600.12,214.48 L600.58,214.48 L601.04,214.47 L601.5,214.46 L601.96,214.46 L602.42,214.45 L602.88,214.45 L603.34,214.44 L603.8,214.43 L604.26,214.43 L604.72,214.42 L605.18,214.41 L605.64,214.4 L606.1,214.4 L606.56,214.39 L607.02,214.38 L607.48,214.37 L607.94,214.36 L608.4,214.35 L608.86,214.34 L609.32,214.33 L609.78,214.32 L610.24,214.31 L610.7,214.29 L611.16,214.28 L611.62,214.26 L612.08,214.25 L612.54,214.23 L613,214.22 L613.46,214.2 L613.92,214.18 L614.38,214.16 L614.84,214.13 L615.3,214.11 L615.76,214.08 L616.22,214.06 L616.68,214.03 L617.14,214 L617.6,213.97 L618.06,213.93 L618.52,213.9 L618.98,213.86 L619.44,213.82 L619.9,213.78 L620.36,213.74 L620.82,213.69 L621.28,213.65 L621.74,213.6 L622.2,213.55 L622.66,213.5 L623.12,213.45 L623.58,213.4 L624.04,213.35 L624.5,213.3 L624.96,213.25 L625.42,213.2 L625.88,213.15 L626.34,213.1 L626.8,213.05 L627.26,213 L627.72,212.95 L628.18,212.91 L628.64,212.86 L629.1,212.82 L629.56,212.78 L630.02,212.74 L630.48,212.7 L630.94,212.67 L631.4,212.63 L631.86,212.6 L632.32,212.57 L632.78,212.54 L633.24,212.52 L633.7,212.49 L634.16,212.47 L634.62,212.44 L635.08,212.42 L635.54,212.4 L636,212.38 L636.46,212.37 L636.92,212.35 L637.38,212.34 L637.84,212.32 L638.3,212.31 L638.76,212.29 L639.22,212.28 L639.68,212.27 L640.14,212.26 L640.6,212.25 L641.06,212.24 L641.52,212.23 L641.98,212.22 L642.44,212.21 L642.9,212.2 L643.36,212.2 L643.82,212.19 L644.28,212.18 L644.74,212.17 L645.2,212.17 L645.66,212.16 L646.12,212.15 L646.58,212.15 L647.04,212.14 L647.5,212.14 L647.96,212.13 L648.42,212.12 L648.88,212.12 L649.34,212.11 L649.8,212.11 L650.26,212.1 L650.72,212.1 L651.18,212.09 L651.64,212.09 L652.1,212.08 L652.56,212.07 L653.02,212.07 L653.48,212.06 L653.94,212.06 L654.4,212.05 L654.86,212.05 L655.32,212.04 L655.78,212.04 L656.24,212.03 L656.7,212.03 L657.16,212.02 L657.62,212.02 L658.08,212.01 L658.54,212.01 L659,212 L659.46,212 L659.92,212 L660.38,211.99 L660.84,211.99 L661.3,211.98 L661.76,211.98 L662.22,211.97 L662.68,211.97 L663.14,211.96 L663.6,211.96 L664.06,211.95 L664.52,211.95 L664.98,211.94 L665.44,211.94 L665.9,211.93 L666.36,211.93 L666.82,211.92 L667.28,211.92 L667.74,211.91 L668.2,211.91 L668.66,211.9 L669.12,211.9 L669.58,211.89 L670.04,211.89 L670.5,211.88 L670.96,211.88 L671.42,211.88 L671.88,211.87 L672.34,211.87 L672.8,211.86 L673.26,211.86 L673.72,211.85 L674.18,211.85 L674.64,211.84 L675.1,211.84 L675.56,211.83 L676.02,211.83 L676.48,211.82 L676.94,211.82 L677.4,211.81 L677.86,211.81 L678.32,211.8 L678.78,211.8 L679.24,211.79 L679.7,211.79 L680.16,211.78 L680.62,211.78 L681.08,211.78 L681.54,211.77 L682,211.77 L682.46,211.76 L682.92,211.76 L683.38,211.75 L683.84,211.75 L684.3,211.74 L684.76,211.74 L685.22,211.73 L685.68,211.73 L686.14,211.72 L686.6,211.72 L687.06,211.71 L687.52,211.71 L687.98,211.7 L688.44,211.7 L688.9,211.69 L689.36,211.69 L689.82,211.68 L690.28,211.68 L690.74,211.67 L691.2,211.67 L691.66,211.67 L692.12,211.66 L692.58,211.66 L693.04,211.65 L693.5,211.65 L693.96,211.64 L694.42,211.64 L694.88,211.63 L695.34,211.63 L695.8,211.62 L696.26,211.62 L696.72,211.61 L697.18,211.61 L697.64,211.6 L698.1,211.6 L698.56,211.59 L699.02,211.59 L699.48,211.58 L699.94,211.58 L700.4,211.57 L700.86,211.57 L701.32,211.57 L701.78,211.56 L702.24,211.56 L702.7,211.55 L703.16,211.55 L703.62,211.54 L704.08,211.54 L704.54,211.53 L705,211.53 L705.46,211.52 L705.92,211.52 L706.38,211.51 L706.84,211.51 L707.3,211.5 L707.76,211.5 L708.22,211.49 L708.68,211.49 L709.14,211.48 L709.6,211.48 L710.06,211.47 L710.52,211.47 L710.98,211.47 L711.44,211.46 L711.9,211.46 L712.36,211.45 L712.82,211.45 L713.28,211.44 L713.74,211.44 L714.2,211.43 L714.66,211.43 L715.12,211.42 L715.58,211.42 L716.04,211.41 L716.5,211.41 L716.96,211.4 L717.42,211.4 L717.88,211.39 L718.34,211.39 L718.8,211.38 L719.26,211.38 L719.72,211.37 L720.18,211.37 L720.64,211.37 L721.1,211.36 L721.56,211.36 L722.02,211.35 L722.48,211.35 L722.94,211.34 L723.4,211.34 L723.86,211.33 L724.32,211.33 L724.78,211.32 L725.24,211.32 L725.7,211.31 L726.16,211.31 L726.62,211.3 L727.08,211.3 L727.54,211.29 L728,211.29 L728.46,211.28 L728.92,211.28 L729.38,211.27 L729.84,211.27 L730.3,211.27 L730.76,211.26 L731.22,211.26 L731.68,211.25 L732.14,211.25 L732.6,211.24 L733.06,211.24 L733.52,211.23 L733.98,211.23 L734.44,211.22 L734.9,211.22 L735.36,211.21 L735.82,211.21 L736.28,211.2 L736.74,211.2 L737.2,211.19 L737.66,211.19 L738.12,211.18 L738.58,211.18 L739.04,211.17 L739.5,211.17 L739.96,211.16 L740.42,211.16 L740.88,211.16 L741.34,211.15 L741.8,211.15 L742.26,211.14 L742.72,211.14 L743.18,211.13 L743.64,211.13 L744.1,211.12 L744.56,211.12 L745.02,211.11 L745.48,211.11 L745.94,211.1 L746.4,211.1 L746.86,211.09 L747.32,211.09 L747.78,211.08 L748.24,211.08 L748.7,211.07 L749.16,211.07 L749.62,211.06 L750.08,211.06 L750.54,211.06 L751,211.05 L751.46,211.05 L751.92,211.04 L752.38,211.04 L752.84,211.03 L753.3,211.03" fill="none" stroke="#f01010" stroke-width="2.5"/>
<line x1="476.3" y1="178.1" x2="772.5" y2="178.1" stroke="#333" stroke-width="1.3" />
<line x1="476.9" y1="177.5" x2="476.9" y2="249.1" stroke="#444" stroke-width="1.3" />
<line x1="771.9" y1="177.5" x2="771.9" y2="249.1" stroke="#666" stroke-width="1.3" />
<line x1="476.3" y1="248.5" x2="772.5" y2="248.5" stroke="#222" stroke-width="1.2" />
<line x1="476.9" y1="195.7" x2="479.9" y2="195.7" stroke="#333" stroke-width="1" />
<line x1="476.9" y1="230.9" x2="479.9" y2="230.9" stroke="#333" stroke-width="1" />
<line x1="476.9" y1="213.3" x2="480.9" y2="213.3" stroke="#333" stroke-width="1" />
<line x1="514.1" y1="248.5" x2="514.1" y2="246" stroke="#333" stroke-width="1" />
<line x1="550.9" y1="248.5" x2="550.9" y2="244" stroke="#333" stroke-width="1" />
<line x1="587.7" y1="248.5" x2="587.7" y2="246" stroke="#333" stroke-width="1" />
<line x1="624.5" y1="248.5" x2="624.5" y2="244" stroke="#333" stroke-width="1" />
<line x1="661.3" y1="248.5" x2="661.3" y2="246" stroke="#333" stroke-width="1" />
<line x1="698.1" y1="248.5" x2="698.1" y2="244" stroke="#333" stroke-width="1" />
<line x1="734.9" y1="248.5" x2="734.9" y2="246" stroke="#333" stroke-width="1" />
<line x1="489.5" y1="27.7" x2="501" y2="27.7" stroke="#1e8ef0" stroke-width="1.8" />
<line x1="489.5" y1="42.9" x2="501" y2="42.9" stroke="#f01010" stroke-width="1.8" />
<line x1="175.7" y1="323.5" x2="175.7" y2="551.6" stroke="#5a5a5a" stroke-width="1.1" stroke-dasharray="4.3 3.7"/>
<line x1="258.2" y1="323.5" x2="258.2" y2="551.6" stroke="#5a5a5a" stroke-width="1.1" stroke-dasharray="4.3 3.7"/>
<line x1="83.6" y1="536.5" x2="366.3" y2="536.5" stroke="#7a7a7a" stroke-width="1" stroke-dasharray="6.8 1.3" stroke-dashoffset="3"/>
<path d="M100.6,344.01 L101.1,344.89 L101.6,345.76 L102.1,346.62 L102.6,347.47 L103.1,348.31 L103.6,349.15 L104.1,349.98 L104.6,350.79 L105.1,351.61 L105.6,352.41 L106.1,353.2 L106.6,353.99 L107.1,354.77 L107.6,355.54 L108.1,356.31 L108.6,357.07 L109.1,357.82 L109.6,358.56 L110.1,359.29 L110.6,360.02 L111.1,360.74 L111.6,361.45 L112.1,362.16 L112.6,362.86 L113.1,363.55 L113.6,364.24 L114.1,364.92 L114.6,365.59 L115.1,366.25 L115.6,366.91 L116.1,367.56 L116.6,368.21 L117.1,368.85 L117.6,369.48 L118.1,370.11 L118.6,370.73 L119.1,371.34 L119.6,371.95 L120.1,372.55 L120.6,373.15 L121.1,373.74 L121.6,374.32 L122.1,374.9 L122.6,375.48 L123.1,376.04 L123.6,376.6 L124.1,377.16 L124.6,377.71 L125.1,378.26 L125.6,378.8 L126.1,379.33 L126.6,379.86 L127.1,380.39 L127.6,380.9 L128.1,381.42 L128.6,381.93 L129.1,382.43 L129.6,382.93 L130.1,383.43 L130.6,383.92 L131.1,384.4 L131.6,384.89 L132.1,385.36 L132.6,385.83 L133.1,386.3 L133.6,386.77 L134.1,387.23 L134.6,387.68 L135.1,388.13 L135.6,388.58 L136.1,389.02 L136.6,389.46 L137.1,389.9 L137.6,390.33 L138.1,390.76 L138.6,391.18 L139.1,391.6 L139.6,392.02 L140.1,392.43 L140.6,392.84 L141.1,393.25 L141.6,393.65 L142.1,394.06 L142.6,394.45 L143.1,394.85 L143.6,395.24 L144.1,395.63 L144.6,396.01 L145.1,396.4 L145.6,396.78 L146.1,397.15 L146.6,397.53 L147.1,397.9 L147.6,398.27 L148.1,398.64 L148.6,399 L149.1,399.37 L149.6,399.73 L150.1,400.08 L150.6,400.44 L151.1,400.8 L151.6,401.15 L152.1,401.5 L152.6,401.85 L153.1,402.19 L153.6,402.54 L154.1,402.88 L154.6,403.22 L155.1,403.56 L155.6,403.9 L156.1,404.24 L156.6,404.58 L157.1,404.91 L157.6,405.25 L158.1,405.58 L158.6,405.91 L159.1,406.24 L159.6,406.57 L160.1,406.9 L160.6,407.23 L161.1,407.55 L161.6,407.88 L162.1,408.21 L162.6,408.53 L163.1,408.86 L163.6,409.18 L164.1,409.51 L164.6,409.83 L165.1,410.15 L165.6,410.48 L166.1,410.8 L166.6,411.12 L167.1,411.45 L167.6,411.77 L168.1,412.1 L168.6,412.42 L169.1,412.74 L169.6,413.07 L170.1,413.39 L170.6,413.72 L171.1,414.05 L171.6,414.37 L172.1,414.7 L172.6,415.03 L173.1,415.36 L173.6,415.69 L174.1,416.02 L174.6,416.35 L175.1,416.68 L175.6,417.02 L176.1,417.35 L176.6,417.69 L177.1,418.03 L177.6,418.36 L178.1,418.71 L178.6,419.05 L179.1,419.39 L179.6,419.74 L180.1,420.08 L180.6,420.43 L181.1,420.78 L181.6,421.14 L182.1,421.49 L182.6,421.85 L183.1,422.21 L183.6,422.57 L184.1,422.93 L184.6,423.3 L185.1,423.66 L185.6,424.03 L186.1,424.41 L186.6,424.78 L187.1,425.16 L187.6,425.54 L188.1,425.92 L188.6,426.31 L189.1,426.7 L189.6,427.09 L190.1,427.49 L190.6,427.89 L191.1,428.29 L191.6,428.69 L192.1,429.1 L192.6,429.51 L193.1,429.92 L193.6,430.34 L194.1,430.76 L194.6,431.19 L195.1,431.62 L195.6,432.05 L196.1,432.49 L196.6,432.93 L197.1,433.37 L197.6,433.82 L198.1,434.27 L198.6,434.73 L199.1,435.19 L199.6,435.65 L200.1,436.12 L200.6,436.59 L201.1,437.07 L201.6,437.55 L202.1,438.04 L202.6,438.53 L203.1,439.03 L203.6,439.53 L204.1,440.03 L204.6,440.54 L205.1,441.06 L205.6,441.58 L206.1,442.1 L206.6,442.63 L207.1,443.17 L207.6,443.71 L208.1,444.26 L208.6,444.81 L209.1,445.36 L209.6,445.93 L210.1,446.5 L210.6,447.07 L211.1,447.65 L211.6,448.23 L212.1,448.83 L212.6,449.42 L213.1,450.03 L213.6,450.64 L214.1,451.25 L214.6,451.87 L215.1,452.5 L215.6,453.13 L216.1,453.77 L216.6,454.42 L217.1,455.07 L217.6,455.73 L218.1,456.4 L218.6,457.07 L219.1,457.75 L219.6,458.44 L220.1,459.13 L220.6,459.83 L221.1,460.53 L221.6,461.24 L222.1,461.96 L222.6,462.67 L223.1,463.4 L223.6,464.12 L224.1,464.86 L224.6,465.59 L225.1,466.33 L225.6,467.07 L226.1,467.81 L226.6,468.56 L227.1,469.31 L227.6,470.06 L228.1,470.81 L228.6,471.56 L229.1,472.32 L229.6,473.07 L230.1,473.83 L230.6,474.58 L231.1,475.34 L231.6,476.1 L232.1,476.85 L232.6,477.61 L233.1,478.36 L233.6,479.11 L234.1,479.86 L234.6,480.61 L235.1,481.36 L235.6,482.1 L236.1,482.85 L236.6,483.59 L237.1,484.32 L237.6,485.05 L238.1,485.78 L238.6,486.5 L239.1,487.22 L239.6,487.94 L240.1,488.65 L240.6,489.35 L241.1,490.05 L241.6,490.75 L242.1,491.44 L242.6,492.12 L243.1,492.79 L243.6,493.46 L244.1,494.12 L244.6,494.78 L245.1,495.42 L245.6,496.06 L246.1,496.69 L246.6,497.32 L247.1,497.94 L247.6,498.55 L248.1,499.15 L248.6,499.75 L249.1,500.34 L249.6,500.93 L250.1,501.5 L250.6,502.07 L251.1,502.64 L251.6,503.19 L252.1,503.74 L252.6,504.29 L253.1,504.83 L253.6,505.36 L254.1,505.88 L254.6,506.4 L255.1,506.91 L255.6,507.42 L256.1,507.92 L256.6,508.41 L257.1,508.9 L257.6,509.38 L258.1,509.85 L258.6,510.32 L259.1,510.79 L259.6,511.24 L260.1,511.69 L260.6,512.14 L261.1,512.58 L261.6,513.01 L262.1,513.44 L262.6,513.86 L263.1,514.28 L263.6,514.69 L264.1,515.1 L264.6,515.5 L265.1,515.89 L265.6,516.28 L266.1,516.67 L266.6,517.05 L267.1,517.42 L267.6,517.79 L268.1,518.15 L268.6,518.51 L269.1,518.86 L269.6,519.21 L270.1,519.55 L270.6,519.89 L271.1,520.22 L271.6,520.55 L272.1,520.87 L272.6,521.19 L273.1,521.5 L273.6,521.81 L274.1,522.12 L274.6,522.42 L275.1,522.71 L275.6,523 L276.1,523.29 L276.6,523.57 L277.1,523.85 L277.6,524.12 L278.1,524.39 L278.6,524.65 L279.1,524.91 L279.6,525.17 L280.1,525.42 L280.6,525.67 L281.1,525.91 L281.6,526.15 L282.1,526.39 L282.6,526.62 L283.1,526.84 L283.6,527.07 L284.1,527.29 L284.6,527.5 L285.1,527.72 L285.6,527.92 L286.1,528.13 L286.6,528.33 L287.1,528.53 L287.6,528.72 L288.1,528.91 L288.6,529.09 L289.1,529.28 L289.6,529.46 L290.1,529.63 L290.6,529.8 L291.1,529.97 L291.6,530.14 L292.1,530.3 L292.6,530.46 L293.1,530.62 L293.6,530.77 L294.1,530.92 L294.6,531.07 L295.1,531.21 L295.6,531.35 L296.1,531.49 L296.6,531.62 L297.1,531.75 L297.6,531.88 L298.1,532.01 L298.6,532.13 L299.1,532.25 L299.6,532.37 L300.1,532.48 L300.6,532.59 L301.1,532.7 L301.6,532.81 L302.1,532.92 L302.6,533.02 L303.1,533.12 L303.6,533.21 L304.1,533.31 L304.6,533.4 L305.1,533.49 L305.6,533.58 L306.1,533.66 L306.6,533.75 L307.1,533.83 L307.6,533.9 L308.1,533.98 L308.6,534.06 L309.1,534.13 L309.6,534.2 L310.1,534.27 L310.6,534.33 L311.1,534.4 L311.6,534.46 L312.1,534.52 L312.6,534.58 L313.1,534.64 L313.6,534.7 L314.1,534.75 L314.6,534.8 L315.1,534.85 L315.6,534.9 L316.1,534.95 L316.6,535 L317.1,535.04 L317.6,535.09 L318.1,535.13 L318.6,535.17 L319.1,535.21 L319.6,535.25 L320.1,535.28 L320.6,535.32 L321.1,535.35 L321.6,535.39 L322.1,535.42 L322.6,535.45 L323.1,535.48 L323.6,535.51 L324.1,535.54 L324.6,535.57 L325.1,535.59 L325.6,535.62 L326.1,535.65 L326.6,535.67 L327.1,535.69 L327.6,535.72 L328.1,535.74 L328.6,535.76 L329.1,535.78 L329.6,535.8 L330.1,535.82 L330.6,535.84 L331.1,535.86 L331.6,535.88 L332.1,535.9 L332.6,535.92 L333.1,535.94 L333.6,535.96 L334.1,535.97 L334.6,535.99 L335.1,536.01 L335.6,536.03 L336.1,536.04 L336.6,536.06 L337.1,536.08 L337.6,536.1 L338.1,536.11 L338.6,536.13 L339.1,536.15 L339.6,536.17 L340.1,536.19 L340.6,536.2 L341.1,536.22 L341.6,536.24 L342.1,536.26 L342.6,536.28 L343.1,536.3 L343.6,536.33 L344.1,536.35 L344.6,536.37 L345.1,536.39 L345.6,536.42 L346.1,536.44 L346.6,536.47 L347.1,536.49 L347.6,536.52 L348.1,536.55 L348.6,536.57 L349.1,536.6 L349.6,536.63 L350.1,536.67 L350.6,536.7 L351.1,536.73 L351.6,536.77" fill="none" stroke="#0a84f2" stroke-width="2.1" stroke-dasharray="4 2.6"/>
<path d="M100.5,438.14 L101,438.54 L101.5,438.97 L102,439.43 L102.5,439.91 L103,440.41 L103.5,440.94 L104,441.49 L104.5,442.06 L105,442.65 L105.5,443.26 L106,443.9 L106.5,444.55 L107,445.22 L107.5,445.91 L108,446.62 L108.5,447.34 L109,448.09 L109.5,448.84 L110,449.62 L110.5,450.4 L111,451.21 L111.5,452.02 L112,452.85 L112.5,453.69 L113,454.55 L113.5,455.41 L114,456.29 L114.5,457.18 L115,458.07 L115.5,458.98 L116,459.89 L116.5,460.81 L117,461.74 L117.5,462.68 L118,463.62 L118.5,464.57 L119,465.52 L119.5,466.48 L120,467.44 L120.5,468.41 L121,469.37 L121.5,470.34 L122,471.31 L122.5,472.29 L123,473.26 L123.5,474.23 L124,475.2 L124.5,476.17 L125,477.15 L125.5,478.12 L126,479.08 L126.5,480.05 L127,481.02 L127.5,481.98 L128,482.94 L128.5,483.9 L129,484.85 L129.5,485.8 L130,486.75 L130.5,487.69 L131,488.63 L131.5,489.56 L132,490.48 L132.5,491.41 L133,492.32 L133.5,493.23 L134,494.14 L134.5,495.03 L135,495.92 L135.5,496.8 L136,497.68 L136.5,498.54 L137,499.4 L137.5,500.25 L138,501.09 L138.5,501.92 L139,502.74 L139.5,503.55 L140,504.36 L140.5,505.15 L141,505.93 L141.5,506.69 L142,507.45 L142.5,508.2 L143,508.93 L143.5,509.65 L144,510.36 L144.5,511.05 L145,511.73 L145.5,512.4 L146,513.05 L146.5,513.7 L147,514.32 L147.5,514.94 L148,515.54 L148.5,516.12 L149,516.7 L149.5,517.26 L150,517.81 L150.5,518.35 L151,518.87 L151.5,519.39 L152,519.89 L152.5,520.38 L153,520.85 L153.5,521.32 L154,521.77 L154.5,522.22 L155,522.65 L155.5,523.07 L156,523.48 L156.5,523.88 L157,524.27 L157.5,524.65 L158,525.02 L158.5,525.38 L159,525.73 L159.5,526.07 L160,526.4 L160.5,526.72 L161,527.03 L161.5,527.33 L162,527.62 L162.5,527.9 L163,528.18 L163.5,528.45 L164,528.7 L164.5,528.95 L165,529.19 L165.5,529.43 L166,529.65 L166.5,529.87 L167,530.08 L167.5,530.28 L168,530.48 L168.5,530.67 L169,530.85 L169.5,531.02 L170,531.19 L170.5,531.35 L171,531.5 L171.5,531.65 L172,531.8 L172.5,531.93 L173,532.06 L173.5,532.19 L174,532.3 L174.5,532.42 L175,532.53 L175.5,532.63 L176,532.73 L176.5,532.82 L177,532.91 L177.5,532.99 L178,533.07 L178.5,533.15 L179,533.22 L179.5,533.29 L180,533.35 L180.5,533.41 L181,533.46 L181.5,533.52 L182,533.57 L182.5,533.61 L183,533.66 L183.5,533.7 L184,533.73 L184.5,533.77 L185,533.8 L185.5,533.83 L186,533.86 L186.5,533.89 L187,533.91 L187.5,533.93 L188,533.96 L188.5,533.98 L189,534 L189.5,534.01 L190,534.03 L190.5,534.05 L191,534.06 L191.5,534.08 L192,534.09 L192.5,534.11 L193,534.12 L193.5,534.13 L194,534.15 L194.5,534.16 L195,534.18 L195.5,534.19 L196,534.21 L196.5,534.22 L197,534.24 L197.5,534.25 L198,534.26 L198.5,534.28 L199,534.29 L199.5,534.31 L200,534.32 L200.5,534.34 L201,534.35 L201.5,534.37 L202,534.38 L202.5,534.4 L203,534.41 L203.5,534.43 L204,534.44 L204.5,534.46 L205,534.47 L205.5,534.49 L206,534.5 L206.5,534.52 L207,534.53 L207.5,534.55 L208,534.56 L208.5,534.58 L209,534.59 L209.5,534.61 L210,534.62 L210.5,534.64 L211,534.65 L211.5,534.67 L212,534.69 L212.5,534.7 L213,534.72 L213.5,534.73 L214,534.75 L214.5,534.76 L215,534.78 L215.5,534.79 L216,534.81 L216.5,534.82 L217,534.84 L217.5,534.85 L218,534.87 L218.5,534.88 L219,534.9 L219.5,534.92 L220,534.93 L220.5,534.95 L221,534.96 L221.5,534.98 L222,534.99 L222.5,535.01 L223,535.02 L223.5,535.04 L224,535.05 L224.5,535.07 L225,535.08 L225.5,535.1 L226,535.11 L226.5,535.13 L227,535.14 L227.5,535.16 L228,535.18 L228.5,535.19 L229,535.21 L229.5,535.22 L230,535.24 L230.5,535.25 L231,535.27 L231.5,535.28 L232,535.3 L232.5,535.31 L233,535.33 L233.5,535.34 L234,535.36 L234.5,535.37 L235,535.39 L235.5,535.4 L236,535.42 L236.5,535.43 L237,535.45 L237.5,535.46 L238,535.48 L238.5,535.49 L239,535.5 L239.5,535.52 L240,535.53 L240.5,535.55 L241,535.56 L241.5,535.58 L242,535.59 L242.5,535.61 L243,535.62 L243.5,535.63 L244,535.65 L244.5,535.66 L245,535.68 L245.5,535.69 L246,535.71 L246.5,535.72 L247,535.73 L247.5,535.75 L248,535.76 L248.5,535.78 L249,535.79 L249.5,535.8 L250,535.82 L250.5,535.83 L251,535.84 L251.5,535.86 L252,535.87 L252.5,535.89 L253,535.9 L253.5,535.91 L254,535.93 L254.5,535.94 L255,535.95 L255.5,535.97 L256,535.98 L256.5,535.99 L257,536 L257.5,536.02 L258,536.03 L258.5,536.04 L259,536.06 L259.5,536.07 L260,536.08 L260.5,536.09 L261,536.11 L261.5,536.12 L262,536.13 L262.5,536.14 L263,536.15 L263.5,536.17 L264,536.18 L264.5,536.19 L265,536.2 L265.5,536.21 L266,536.23 L266.5,536.24 L267,536.25 L267.5,536.26 L268,536.27 L268.5,536.28 L269,536.29 L269.5,536.31 L270,536.32 L270.5,536.33 L271,536.34 L271.5,536.35 L272,536.36 L272.5,536.37 L273,536.38 L273.5,536.39 L274,536.4 L274.5,536.41 L275,536.42 L275.5,536.43 L276,536.44 L276.5,536.45 L277,536.46 L277.5,536.47 L278,536.48 L278.5,536.49 L279,536.5 L279.5,536.51 L280,536.52 L280.5,536.53 L281,536.54 L281.5,536.55 L282,536.56 L282.5,536.56 L283,536.57 L283.5,536.58 L284,536.59 L284.5,536.6 L285,536.61 L285.5,536.61 L286,536.62 L286.5,536.63 L287,536.64 L287.5,536.65 L288,536.65 L288.5,536.66 L289,536.67 L289.5,536.67 L290,536.68 L290.5,536.69 L291,536.7 L291.5,536.7 L292,536.71 L292.5,536.72 L293,536.72 L293.5,536.73 L294,536.73 L294.5,536.74 L295,536.75 L295.5,536.75 L296,536.76 L296.5,536.76 L297,536.77 L297.5,536.77 L298,536.78 L298.5,536.78 L299,536.79 L299.5,536.79 L300,536.8 L300.5,536.8 L301,536.81 L301.5,536.81 L302,536.81 L302.5,536.82 L303,536.82 L303.5,536.83 L304,536.83 L304.5,536.83 L305,536.84 L305.5,536.84 L306,536.84 L306.5,536.84 L307,536.85 L307.5,536.85 L308,536.85 L308.5,536.85 L309,536.86 L309.5,536.86 L310,536.86 L310.5,536.86 L311,536.86 L311.5,536.86 L312,536.87 L312.5,536.87 L313,536.87 L313.5,536.87 L314,536.87 L314.5,536.87 L315,536.87 L315.5,536.87 L316,536.87 L316.5,536.87 L317,536.87 L317.5,536.87 L318,536.87 L318.5,536.87 L319,536.87 L319.5,536.86 L320,536.86 L320.5,536.86 L321,536.86 L321.5,536.86 L322,536.86 L322.5,536.85 L323,536.85 L323.5,536.85 L324,536.85 L324.5,536.84 L325,536.84 L325.5,536.84 L326,536.83 L326.5,536.83 L327,536.83 L327.5,536.82 L328,536.82 L328.5,536.81 L329,536.81 L329.5,536.8 L330,536.8 L330.5,536.79 L331,536.79 L331.5,536.78 L332,536.78 L332.5,536.77 L333,536.77 L333.5,536.76 L334,536.75 L334.5,536.75 L335,536.74 L335.5,536.73 L336,536.73 L336.5,536.72 L337,536.71 L337.5,536.7 L338,536.7 L338.5,536.69 L339,536.68 L339.5,536.67 L340,536.66 L340.5,536.65 L341,536.64 L341.5,536.64 L342,536.63 L342.5,536.62 L343,536.61 L343.5,536.6 L344,536.59 L344.5,536.58 L345,536.56 L345.5,536.55 L346,536.54 L346.5,536.53 L347,536.52 L347.5,536.51 L348,536.5 L348.5,536.48 L349,536.47 L349.5,536.46 L350,536.45 L350.5,536.43 L351,536.42 L351.5,536.41 L352,536.39" fill="none" stroke="#0a84f2" stroke-width="2.1" stroke-dasharray="4 2.6"/>
<circle cx="100.86" cy="439.18" r="3.45" fill="#fff" stroke="#0a84f2" stroke-width="1.6"/>
<circle cx="109.42" cy="446.31" r="3.45" fill="#fff" stroke="#0a84f2" stroke-width="1.6"/>
<circle cx="117.97" cy="463.24" r="3.45" fill="#fff" stroke="#0a84f2" stroke-width="1.6"/>
<circle cx="126.53" cy="480.53" r="3.45" fill="#fff" stroke="#0a84f2" stroke-width="1.6"/>
<circle cx="147.91" cy="520.28" r="3.45" fill="#fff" stroke="#0a84f2" stroke-width="1.6"/>
<circle cx="169.3" cy="536.5" r="3.45" fill="#fff" stroke="#0a84f2" stroke-width="1.6"/>
<circle cx="212.08" cy="536.5" r="3.45" fill="#fff" stroke="#0a84f2" stroke-width="1.6"/>
<circle cx="254.85" cy="536.5" r="3.45" fill="#fff" stroke="#0a84f2" stroke-width="1.6"/>
<circle cx="297.62" cy="536.5" r="3.45" fill="#fff" stroke="#0a84f2" stroke-width="1.6"/>
<circle cx="340.4" cy="536.5" r="3.45" fill="#fff" stroke="#0a84f2" stroke-width="1.6"/>
<circle cx="348.95" cy="536.5" r="3.45" fill="#fff" stroke="#0a84f2" stroke-width="1.6"/>
<circle cx="100.86" cy="342.92" r="4.0" fill="#0a84f2"/>
<circle cx="109.42" cy="355.04" r="4.0" fill="#0a84f2"/>
<circle cx="117.97" cy="368.23" r="4.0" fill="#0a84f2"/>
<circle cx="126.53" cy="385.7" r="4.0" fill="#0a84f2"/>
<circle cx="147.91" cy="400.5" r="4.0" fill="#0a84f2"/>
<circle cx="169.3" cy="412.97" r="4.0" fill="#0a84f2"/>
<circle cx="212.08" cy="450.76" r="4.0" fill="#0a84f2"/>
<circle cx="254.85" cy="508.16" r="4.0" fill="#0a84f2"/>
<circle cx="297.62" cy="533.11" r="4.0" fill="#0a84f2"/>
<circle cx="340.4" cy="536.5" r="4.0" fill="#0a84f2"/>
<circle cx="348.95" cy="536.5" r="4.0" fill="#0a84f2"/>
<line x1="83.6" y1="323" x2="366.3" y2="323" stroke="#222" stroke-width="1.2" />
<line x1="83.6" y1="322.4" x2="83.6" y2="555.2" stroke="#222" stroke-width="1.2" />
<line x1="366.3" y1="322.4" x2="366.3" y2="555.2" stroke="#222" stroke-width="1.2" />
<line x1="83" y1="554.6" x2="366.9" y2="554.6" stroke="#333" stroke-width="1.3" />
<line x1="83.6" y1="536.5" x2="87.6" y2="536.5" stroke="#333" stroke-width="1" />
<line x1="83.6" y1="465.2" x2="87.6" y2="465.2" stroke="#333" stroke-width="1" />
<line x1="83.6" y1="393.9" x2="87.6" y2="393.9" stroke="#333" stroke-width="1" />
<line x1="83.6" y1="322.6" x2="87.6" y2="322.6" stroke="#333" stroke-width="1" />
<line x1="83.6" y1="500.85" x2="86.1" y2="500.85" stroke="#333" stroke-width="1" />
<line x1="83.6" y1="429.55" x2="86.1" y2="429.55" stroke="#333" stroke-width="1" />
<line x1="83.6" y1="358.25" x2="86.1" y2="358.25" stroke="#333" stroke-width="1" />
<line x1="83.75" y1="554.6" x2="83.75" y2="550.6" stroke="#333" stroke-width="1" />
<line x1="169.3" y1="554.6" x2="169.3" y2="550.6" stroke="#333" stroke-width="1" />
<line x1="254.85" y1="554.6" x2="254.85" y2="550.6" stroke="#333" stroke-width="1" />
<line x1="340.4" y1="554.6" x2="340.4" y2="550.6" stroke="#333" stroke-width="1" />
<line x1="126.53" y1="554.6" x2="126.53" y2="551.8" stroke="#333" stroke-width="1" />
<line x1="212.08" y1="554.6" x2="212.08" y2="551.8" stroke="#333" stroke-width="1" />
<line x1="297.62" y1="554.6" x2="297.62" y2="551.8" stroke="#333" stroke-width="1" />
<circle cx="321.7" cy="337.3" r="4.0" fill="#0a84f2"/>
<circle cx="321.7" cy="355" r="3.45" fill="#fff" stroke="#0a84f2" stroke-width="1.6"/>
<path d="M477.5,400.2 L478,400.2 L478.5,400.2 L479,400.2 L479.5,400.2 L480,400.2 L480.5,400.2 L481,400.2 L481.5,400.2 L482,400.19 L482.5,400.19 L483,400.19 L483.5,400.19 L484,400.19 L484.5,400.19 L485,400.19 L485.5,400.18 L486,400.18 L486.5,400.18 L487,400.18 L487.5,400.18 L488,400.17 L488.5,400.17 L489,400.17 L489.5,400.17 L490,400.16 L490.5,400.16 L491,400.16 L491.5,400.15 L492,400.15 L492.5,400.15 L493,400.15 L493.5,400.14 L494,400.14 L494.5,400.14 L495,400.13 L495.5,400.13 L496,400.13 L496.5,400.12 L497,400.12 L497.5,400.12 L498,400.11 L498.5,400.11 L499,400.11 L499.5,400.1 L500,400.1 L500.5,400.1 L501,400.09 L501.5,400.09 L502,400.09 L502.5,400.08 L503,400.08 L503.5,400.07 L504,400.07 L504.5,400.07 L505,400.06 L505.5,400.06 L506,400.05 L506.5,400.05 L507,400.05 L507.5,400.04 L508,400.04 L508.5,400.03 L509,400.03 L509.5,400.02 L510,400.01 L510.5,400.01 L511,400 L511.5,400 L512,399.99 L512.5,399.98 L513,399.98 L513.5,399.97 L514,399.96 L514.5,399.95 L515,399.94 L515.5,399.94 L516,399.93 L516.5,399.92 L517,399.91 L517.5,399.9 L518,399.89 L518.5,399.88 L519,399.87 L519.5,399.85 L520,399.84 L520.5,399.83 L521,399.82 L521.5,399.8 L522,399.79 L522.5,399.78 L523,399.76 L523.5,399.75 L524,399.73 L524.5,399.72 L525,399.7 L525.5,399.68 L526,399.65 L526.5,399.61 L527,399.57 L527.5,399.51 L528,399.45 L528.5,399.39 L529,399.32 L529.5,399.24 L530,399.16 L530.5,399.08 L531,398.99 L531.5,398.89 L532,398.8 L532.5,398.7 L533,398.6 L533.5,398.48 L534,398.35 L534.5,398.21 L535,398.04 L535.5,397.86 L536,397.64 L536.5,397.4 L537,397.12 L537.5,396.77 L538,396.19 L538.5,395.41 L539,394.47 L539.5,393.39 L540,392.17 L540.5,390.41 L541,388.23 L541.5,385.9 L542,383.7 L542.5,381.87 L543,380.19 L543.5,378.57 L544,377.08 L544.5,375.83 L545,374.9 L545.5,374.24 L546,373.71 L546.5,373.25 L547,372.83 L547.5,372.39 L548,371.95 L548.5,371.55 L549,371.18 L549.5,370.81 L550,370.4 L550.5,369.91 L551,369.33 L551.5,368.56 L552,367.48 L552.5,366.18 L553,364.7 L553.5,363.12 L554,361.5 L554.5,359.91 L555,358.28 L555.5,356.41 L556,354.42 L556.5,352.43 L557,350.55 L557.5,348.91 L558,347.61 L558.5,346.61 L559,345.63 L559.5,344.7 L560,343.86 L560.5,343.15 L561,342.62 L561.5,342.29 L562,342.21 L562.5,342.38 L563,342.78 L563.5,343.35 L564,344.07 L564.5,344.89 L565,345.78 L565.5,346.68 L566,347.58 L566.5,348.63 L567,349.87 L567.5,351.26 L568,352.76 L568.5,354.31 L569,355.87 L569.5,357.38 L570,358.81 L570.5,360.11 L571,361.37 L571.5,362.63 L572,363.87 L572.5,365.09 L573,366.28 L573.5,367.45 L574,368.59 L574.5,369.7 L575,370.77 L575.5,371.8 L576,372.81 L576.5,373.81 L577,374.8 L577.5,375.79 L578,376.75 L578.5,377.7 L579,378.61 L579.5,379.5 L580,380.36 L580.5,381.18 L581,381.96 L581.5,382.69 L582,383.37 L582.5,384 L583,384.59 L583.5,385.16 L584,385.71 L584.5,386.24 L585,386.75 L585.5,387.25 L586,387.73 L586.5,388.19 L587,388.64 L587.5,389.07 L588,389.48 L588.5,389.88 L589,390.27 L589.5,390.64 L590,390.99 L590.5,391.34 L591,391.67 L591.5,391.99 L592,392.31 L592.5,392.62 L593,392.92 L593.5,393.22 L594,393.51 L594.5,393.79 L595,394.06 L595.5,394.33 L596,394.58 L596.5,394.83 L597,395.06 L597.5,395.28 L598,395.49 L598.5,395.69 L599,395.87 L599.5,396.04 L600,396.2 L600.5,396.35 L601,396.49 L601.5,396.63 L602,396.77 L602.5,396.9 L603,397.03 L603.5,397.16 L604,397.28 L604.5,397.39 L605,397.5 L605.5,397.61 L606,397.71 L606.5,397.8 L607,397.89 L607.5,397.98 L608,398.05 L608.5,398.12 L609,398.19 L609.5,398.25 L610,398.3 L610.5,398.35 L611,398.39 L611.5,398.44 L612,398.48 L612.5,398.52 L613,398.56 L613.5,398.59 L614,398.63 L614.5,398.66 L615,398.7 L615.5,398.73 L616,398.76 L616.5,398.79 L617,398.81 L617.5,398.84 L618,398.87 L618.5,398.89 L619,398.92 L619.5,398.94 L620,398.97 L620.5,398.99 L621,399.01 L621.5,399.04 L622,399.06 L622.5,399.08 L623,399.11 L623.5,399.13 L624,399.15 L624.5,399.18 L625,399.2 L625.5,399.22 L626,399.25 L626.5,399.27 L627,399.3 L627.5,399.32 L628,399.34 L628.5,399.37 L629,399.39 L629.5,399.41 L630,399.44 L630.5,399.46 L631,399.48 L631.5,399.5 L632,399.52 L632.5,399.54 L633,399.57 L633.5,399.59 L634,399.61 L634.5,399.62 L635,399.64 L635.5,399.66 L636,399.68 L636.5,399.7 L637,399.71 L637.5,399.73 L638,399.75 L638.5,399.76 L639,399.77 L639.5,399.79 L640,399.8 L640.5,399.81 L641,399.82 L641.5,399.84 L642,399.85 L642.5,399.86 L643,399.87 L643.5,399.89 L644,399.9 L644.5,399.91 L645,399.92 L645.5,399.93 L646,399.94 L646.5,399.95 L647,399.96 L647.5,399.97 L648,399.98 L648.5,399.98 L649,399.99 L649.5,399.99 L650,400 L650.5,400 L651,400 L651.5,400 L652,400 L652.5,399.99 L653,399.98 L653.5,399.97 L654,399.95 L654.5,399.93 L655,399.91 L655.5,399.89 L656,399.87 L656.5,399.84 L657,399.81 L657.5,399.78 L658,399.75 L658.5,399.71 L659,399.68 L659.5,399.64 L660,399.6 L660.5,399.55 L661,399.49 L661.5,399.41 L662,399.32 L662.5,399.21 L663,399.08 L663.5,398.94 L664,398.78 L664.5,398.6 L665,398.33 L665.5,397.91 L666,397.39 L666.5,396.8 L667,396.18 L667.5,395.57 L668,395 L668.5,394.46 L669,393.9 L669.5,393.33 L670,392.75 L670.5,392.16 L671,391.56 L671.5,390.97 L672,390.38 L672.5,389.79 L673,389.21 L673.5,388.64 L674,388.09 L674.5,387.56 L675,387.05 L675.5,386.56 L676,386.1 L676.5,385.65 L677,385.18 L677.5,384.72 L678,384.27 L678.5,383.84 L679,383.43 L679.5,383.07 L680,382.75 L680.5,382.49 L681,382.3 L681.5,382.15 L682,382 L682.5,381.86 L683,381.72 L683.5,381.6 L684,381.49 L684.5,381.38 L685,381.3 L685.5,381.22 L686,381.17 L686.5,381.13 L687,381.1 L687.5,381.1 L688,381.15 L688.5,381.24 L689,381.38 L689.5,381.55 L690,381.74 L690.5,381.96 L691,382.2 L691.5,382.45 L692,382.7 L692.5,382.95 L693,383.2 L693.5,383.46 L694,383.75 L694.5,384.07 L695,384.41 L695.5,384.77 L696,385.14 L696.5,385.52 L697,385.91 L697.5,386.3 L698,386.68 L698.5,387.05 L699,387.42 L699.5,387.8 L700,388.2 L700.5,388.61 L701,389.03 L701.5,389.46 L702,389.89 L702.5,390.33 L703,390.77 L703.5,391.2 L704,391.63 L704.5,392.04 L705,392.45 L705.5,392.84 L706,393.22 L706.5,393.57 L707,393.91 L707.5,394.21 L708,394.49 L708.5,394.74 L709,394.96 L709.5,395.15 L710,395.34 L710.5,395.52 L711,395.7 L711.5,395.87 L712,396.04 L712.5,396.2 L713,396.36 L713.5,396.52 L714,396.67 L714.5,396.82 L715,396.96 L715.5,397.09 L716,397.23 L716.5,397.35 L717,397.48 L717.5,397.59 L718,397.7 L718.5,397.81 L719,397.91 L719.5,398.01 L720,398.1 L720.5,398.19 L721,398.27 L721.5,398.34 L722,398.41 L722.5,398.48 L723,398.54 L723.5,398.59 L724,398.64 L724.5,398.69 L725,398.73 L725.5,398.78 L726,398.82 L726.5,398.87 L727,398.91 L727.5,398.95 L728,398.99 L728.5,399.03 L729,399.07 L729.5,399.1 L730,399.14 L730.5,399.17 L731,399.21 L731.5,399.24 L732,399.27 L732.5,399.3 L733,399.33 L733.5,399.35 L734,399.38 L734.5,399.4 L735,399.43 L735.5,399.45 L736,399.47 L736.5,399.49 L737,399.51 L737.5,399.53 L738,399.55 L738.5,399.56 L739,399.58 L739.5,399.59 L740,399.6 L740.5,399.61 L741,399.62 L741.5,399.63 L742,399.64 L742.5,399.65 L743,399.67 L743.5,399.68 L744,399.69 L744.5,399.7 L745,399.71 L745.5,399.72 L746,399.73 L746.5,399.74 L747,399.75 L747.5,399.76 L748,399.76 L748.5,399.77 L749,399.78 L749.5,399.79 L750,399.8 L750.5,399.81 L751,399.82 L751.5,399.83 L752,399.83 L752.5,399.84 L753,399.85 L753.5,399.86 L754,399.86 L754.5,399.87 L755,399.88 L755.5,399.88 L756,399.89 L756.5,399.9 L757,399.9 L757.5,399.91 L758,399.92 L758.5,399.92 L759,399.93 L759.5,399.93 L760,399.94 L760.5,399.94 L761,399.95 L761.5,399.95 L762,399.96 L762.5,399.96 L763,399.97 L763.5,399.97 L764,399.97 L764.5,399.98 L765,399.98 L765.5,399.98 L766,399.99 L766.5,399.99 L767,399.99 L767.5,399.99 L768,399.99 L768.5,400 L769,400 L769.5,400 L770,400 L770.5,400 L771,400 L771.5,400" fill="none" stroke="#ff8000" stroke-width="1.8"/>
<path d="M477.5,429.7 L478,429.7 L478.5,429.7 L479,429.7 L479.5,429.7 L480,429.7 L480.5,429.69 L481,429.69 L481.5,429.69 L482,429.69 L482.5,429.69 L483,429.69 L483.5,429.68 L484,429.68 L484.5,429.68 L485,429.68 L485.5,429.68 L486,429.68 L486.5,429.67 L487,429.67 L487.5,429.67 L488,429.67 L488.5,429.66 L489,429.66 L489.5,429.66 L490,429.66 L490.5,429.65 L491,429.65 L491.5,429.65 L492,429.65 L492.5,429.64 L493,429.64 L493.5,429.64 L494,429.64 L494.5,429.63 L495,429.63 L495.5,429.63 L496,429.62 L496.5,429.62 L497,429.62 L497.5,429.62 L498,429.61 L498.5,429.61 L499,429.61 L499.5,429.6 L500,429.6 L500.5,429.6 L501,429.59 L501.5,429.59 L502,429.59 L502.5,429.58 L503,429.58 L503.5,429.58 L504,429.58 L504.5,429.57 L505,429.57 L505.5,429.57 L506,429.56 L506.5,429.56 L507,429.55 L507.5,429.55 L508,429.55 L508.5,429.54 L509,429.54 L509.5,429.53 L510,429.53 L510.5,429.53 L511,429.52 L511.5,429.52 L512,429.51 L512.5,429.51 L513,429.5 L513.5,429.5 L514,429.49 L514.5,429.48 L515,429.48 L515.5,429.47 L516,429.46 L516.5,429.46 L517,429.45 L517.5,429.44 L518,429.43 L518.5,429.43 L519,429.42 L519.5,429.41 L520,429.4 L520.5,429.39 L521,429.38 L521.5,429.37 L522,429.35 L522.5,429.34 L523,429.32 L523.5,429.3 L524,429.27 L524.5,429.25 L525,429.22 L525.5,429.19 L526,429.16 L526.5,429.13 L527,429.09 L527.5,429.04 L528,429 L528.5,428.93 L529,428.83 L529.5,428.7 L530,428.54 L530.5,428.35 L531,428.14 L531.5,427.92 L532,427.69 L532.5,427.45 L533,427.2 L533.5,426.95 L534,426.68 L534.5,426.39 L535,426.06 L535.5,425.69 L536,425.27 L536.5,424.79 L537,424.24 L537.5,423.55 L538,422.48 L538.5,421.1 L539,419.5 L539.5,417.76 L540,415.98 L540.5,414.26 L541,412.6 L541.5,410.82 L542,408.94 L542.5,407.04 L543,405.19 L543.5,403.47 L544,401.94 L544.5,400.63 L545,399.4 L545.5,398.24 L546,397.17 L546.5,396.18 L547,395.3 L547.5,394.54 L548,393.91 L548.5,393.41 L549,392.99 L549.5,392.6 L550,392.17 L550.5,391.67 L551,391.05 L551.5,390.16 L552,388.91 L552.5,387.39 L553,385.72 L553.5,383.98 L554,382.3 L554.5,380.78 L555,379.34 L555.5,377.73 L556,376.07 L556.5,374.52 L557,373.2 L557.5,372.25 L558,371.81 L558.5,372 L559,372.7 L559.5,373.79 L560,375.09 L560.5,376.47 L561,377.87 L561.5,379.63 L562,381.69 L562.5,383.9 L563,386.14 L563.5,388.29 L564,390.22 L564.5,391.87 L565,393.46 L565.5,395.01 L566,396.51 L566.5,397.95 L567,399.34 L567.5,400.65 L568,401.89 L568.5,403.05 L569,404.12 L569.5,405.09 L570,406.01 L570.5,406.9 L571,407.75 L571.5,408.57 L572,409.35 L572.5,410.1 L573,410.8 L573.5,411.46 L574,412.07 L574.5,412.63 L575,413.14 L575.5,413.6 L576,414.02 L576.5,414.43 L577,414.82 L577.5,415.2 L578,415.56 L578.5,415.91 L579,416.24 L579.5,416.56 L580,416.86 L580.5,417.15 L581,417.42 L581.5,417.67 L582,417.91 L582.5,418.14 L583,418.35 L583.5,418.55 L584,418.73 L584.5,418.9 L585,419.06 L585.5,419.22 L586,419.37 L586.5,419.52 L587,419.66 L587.5,419.8 L588,419.94 L588.5,420.07 L589,420.19 L589.5,420.31 L590,420.43 L590.5,420.55 L591,420.66 L591.5,420.77 L592,420.87 L592.5,420.97 L593,421.07 L593.5,421.17 L594,421.26 L594.5,421.36 L595,421.45 L595.5,421.54 L596,421.63 L596.5,421.71 L597,421.8 L597.5,421.88 L598,421.97 L598.5,422.05 L599,422.13 L599.5,422.22 L600,422.3 L600.5,422.38 L601,422.47 L601.5,422.55 L602,422.63 L602.5,422.71 L603,422.79 L603.5,422.87 L604,422.96 L604.5,423.04 L605,423.12 L605.5,423.19 L606,423.27 L606.5,423.35 L607,423.43 L607.5,423.51 L608,423.58 L608.5,423.66 L609,423.73 L609.5,423.81 L610,423.88 L610.5,423.95 L611,424.02 L611.5,424.09 L612,424.16 L612.5,424.23 L613,424.3 L613.5,424.37 L614,424.43 L614.5,424.5 L615,424.56 L615.5,424.62 L616,424.68 L616.5,424.74 L617,424.8 L617.5,424.85 L618,424.91 L618.5,424.96 L619,425.01 L619.5,425.06 L620,425.11 L620.5,425.16 L621,425.2 L621.5,425.25 L622,425.29 L622.5,425.33 L623,425.37 L623.5,425.4 L624,425.44 L624.5,425.47 L625,425.5 L625.5,425.53 L626,425.56 L626.5,425.59 L627,425.62 L627.5,425.65 L628,425.68 L628.5,425.7 L629,425.73 L629.5,425.76 L630,425.79 L630.5,425.82 L631,425.84 L631.5,425.87 L632,425.9 L632.5,425.93 L633,425.95 L633.5,425.98 L634,426 L634.5,426.03 L635,426.05 L635.5,426.08 L636,426.1 L636.5,426.12 L637,426.15 L637.5,426.17 L638,426.19 L638.5,426.21 L639,426.23 L639.5,426.25 L640,426.27 L640.5,426.29 L641,426.31 L641.5,426.33 L642,426.34 L642.5,426.36 L643,426.37 L643.5,426.39 L644,426.4 L644.5,426.41 L645,426.43 L645.5,426.44 L646,426.45 L646.5,426.46 L647,426.47 L647.5,426.47 L648,426.48 L648.5,426.49 L649,426.49 L649.5,426.49 L650,426.5 L650.5,426.5 L651,426.5 L651.5,426.5 L652,426.5 L652.5,426.49 L653,426.48 L653.5,426.47 L654,426.46 L654.5,426.45 L655,426.43 L655.5,426.41 L656,426.38 L656.5,426.36 L657,426.33 L657.5,426.3 L658,426.26 L658.5,426.22 L659,426.18 L659.5,426.14 L660,426.09 L660.5,426.04 L661,425.98 L661.5,425.92 L662,425.86 L662.5,425.8 L663,425.73 L663.5,425.66 L664,425.58 L664.5,425.5 L665,425.33 L665.5,425.02 L666,424.6 L666.5,424.1 L667,423.56 L667.5,423.01 L668,422.5 L668.5,421.97 L669,421.39 L669.5,420.77 L670,420.14 L670.5,419.53 L671,418.96 L671.5,418.46 L672,418.04 L672.5,417.65 L673,417.27 L673.5,416.91 L674,416.56 L674.5,416.23 L675,415.91 L675.5,415.62 L676,415.35 L676.5,415.1 L677,414.87 L677.5,414.67 L678,414.5 L678.5,414.34 L679,414.19 L679.5,414.03 L680,413.89 L680.5,413.75 L681,413.61 L681.5,413.49 L682,413.39 L682.5,413.29 L683,413.21 L683.5,413.16 L684,413.12 L684.5,413.1 L685,413.12 L685.5,413.2 L686,413.32 L686.5,413.48 L687,413.67 L687.5,413.88 L688,414.09 L688.5,414.3 L689,414.5 L689.5,414.7 L690,414.92 L690.5,415.15 L691,415.39 L691.5,415.64 L692,415.9 L692.5,416.16 L693,416.42 L693.5,416.67 L694,416.92 L694.5,417.15 L695,417.39 L695.5,417.62 L696,417.87 L696.5,418.12 L697,418.37 L697.5,418.63 L698,418.88 L698.5,419.14 L699,419.41 L699.5,419.67 L700,419.93 L700.5,420.18 L701,420.44 L701.5,420.69 L702,420.93 L702.5,421.18 L703,421.41 L703.5,421.64 L704,421.85 L704.5,422.06 L705,422.26 L705.5,422.45 L706,422.63 L706.5,422.79 L707,422.94 L707.5,423.08 L708,423.2 L708.5,423.3 L709,423.38 L709.5,423.46 L710,423.53 L710.5,423.6 L711,423.66 L711.5,423.73 L712,423.79 L712.5,423.84 L713,423.9 L713.5,423.96 L714,424.01 L714.5,424.06 L715,424.11 L715.5,424.15 L716,424.2 L716.5,424.24 L717,424.29 L717.5,424.33 L718,424.37 L718.5,424.4 L719,424.44 L719.5,424.47 L720,424.51 L720.5,424.54 L721,424.57 L721.5,424.6 L722,424.63 L722.5,424.66 L723,424.69 L723.5,424.72 L724,424.75 L724.5,424.77 L725,424.8 L725.5,424.83 L726,424.85 L726.5,424.87 L727,424.9 L727.5,424.92 L728,424.94 L728.5,424.96 L729,424.98 L729.5,425 L730,425.02 L730.5,425.04 L731,425.06 L731.5,425.08 L732,425.1 L732.5,425.12 L733,425.13 L733.5,425.15 L734,425.17 L734.5,425.18 L735,425.2 L735.5,425.21 L736,425.23 L736.5,425.25 L737,425.26 L737.5,425.28 L738,425.29 L738.5,425.31 L739,425.32 L739.5,425.34 L740,425.36 L740.5,425.37 L741,425.39 L741.5,425.4 L742,425.42 L742.5,425.44 L743,425.45 L743.5,425.47 L744,425.49 L744.5,425.51 L745,425.53 L745.5,425.54 L746,425.56 L746.5,425.58 L747,425.6 L747.5,425.62 L748,425.63 L748.5,425.65 L749,425.67 L749.5,425.69 L750,425.71 L750.5,425.73 L751,425.74 L751.5,425.76 L752,425.78 L752.5,425.8 L753,425.82 L753.5,425.84 L754,425.85 L754.5,425.87 L755,425.89 L755.5,425.91 L756,425.93 L756.5,425.95 L757,425.96 L757.5,425.98 L758,426 L758.5,426.02 L759,426.04 L759.5,426.06 L760,426.07 L760.5,426.09 L761,426.11 L761.5,426.13 L762,426.15 L762.5,426.17 L763,426.18 L763.5,426.2 L764,426.22 L764.5,426.24 L765,426.26 L765.5,426.28 L766,426.29 L766.5,426.31 L767,426.33 L767.5,426.35 L768,426.37 L768.5,426.39 L769,426.4 L769.5,426.42 L770,426.44 L770.5,426.46 L771,426.48 L771.5,426.5" fill="none" stroke="#1153b0" stroke-width="1.8"/>
<line x1="558.4" y1="334" x2="558.4" y2="393.6" stroke="#000" stroke-width="1.3" stroke-dasharray="3 2"/>
<line x1="562.3" y1="334" x2="562.3" y2="344" stroke="#000" stroke-width="1.3" stroke-dasharray="3 2"/>
<line x1="526.7" y1="339.6" x2="551.5" y2="339.6" stroke="#222" stroke-width="1" />
<path d="M556.3,339.6 L550.6,336.9 L551.8,339.6 L550.6,342.3 Z" fill="#222"/>
<line x1="570" y1="339.6" x2="594.7" y2="339.6" stroke="#222" stroke-width="1" />
<path d="M565.4,339.6 L571.1,336.9 L569.9,339.6 L571.1,342.3 Z" fill="#222"/>
<line x1="677.2" y1="338.6" x2="688.8" y2="338.6" stroke="#ff8000" stroke-width="1.8" />
<line x1="677.2" y1="356.4" x2="688.8" y2="356.4" stroke="#1153b0" stroke-width="1.8" />
<line x1="477.5" y1="473" x2="772" y2="473" stroke="#8a8a8a" stroke-width="1.4" stroke-dasharray="4.4 2.6"/>
<path d="M477.5,473.2 L478,473.2 L478.5,473.2 L479,473.2 L479.5,473.2 L480,473.2 L480.5,473.2 L481,473.2 L481.5,473.2 L482,473.2 L482.5,473.2 L483,473.2 L483.5,473.2 L484,473.2 L484.5,473.2 L485,473.2 L485.5,473.2 L486,473.2 L486.5,473.2 L487,473.2 L487.5,473.2 L488,473.2 L488.5,473.2 L489,473.2 L489.5,473.2 L490,473.2 L490.5,473.2 L491,473.2 L491.5,473.2 L492,473.2 L492.5,473.2 L493,473.2 L493.5,473.2 L494,473.2 L494.5,473.2 L495,473.2 L495.5,473.2 L496,473.2 L496.5,473.2 L497,473.2 L497.5,473.2 L498,473.2 L498.5,473.2 L499,473.2 L499.5,473.2 L500,473.2 L500.5,473.2 L501,473.2 L501.5,473.2 L502,473.2 L502.5,473.21 L503,473.21 L503.5,473.21 L504,473.22 L504.5,473.22 L505,473.23 L505.5,473.23 L506,473.24 L506.5,473.25 L507,473.25 L507.5,473.26 L508,473.27 L508.5,473.28 L509,473.28 L509.5,473.29 L510,473.3 L510.5,473.31 L511,473.32 L511.5,473.33 L512,473.34 L512.5,473.35 L513,473.36 L513.5,473.37 L514,473.38 L514.5,473.39 L515,473.4 L515.5,473.41 L516,473.42 L516.5,473.43 L517,473.45 L517.5,473.46 L518,473.48 L518.5,473.49 L519,473.51 L519.5,473.53 L520,473.55 L520.5,473.57 L521,473.59 L521.5,473.61 L522,473.63 L522.5,473.66 L523,473.68 L523.5,473.71 L524,473.74 L524.5,473.77 L525,473.8 L525.5,473.83 L526,473.87 L526.5,473.9 L527,473.94 L527.5,473.98 L528,474.03 L528.5,474.08 L529,474.13 L529.5,474.19 L530,474.25 L530.5,474.32 L531,474.39 L531.5,474.47 L532,474.55 L532.5,474.64 L533,474.74 L533.5,474.85 L534,474.96 L534.5,475.08 L535,475.22 L535.5,475.35 L536,475.5 L536.5,475.66 L537,475.83 L537.5,476.04 L538,476.41 L538.5,476.93 L539,477.6 L539.5,478.4 L540,479.32 L540.5,480.34 L541,481.46 L541.5,482.65 L542,484.13 L542.5,486.21 L543,488.7 L543.5,491.4 L544,494.08 L544.5,496.69 L545,499.6 L545.5,502.61 L546,505.46 L546.5,507.87 L547,509.63 L547.5,511.04 L548,512.25 L548.5,513.32 L549,514.32 L549.5,515.29 L550,516.17 L550.5,516.94 L551,517.71 L551.5,518.53 L552,519.5 L552.5,520.66 L553,521.99 L553.5,523.46 L554,525.02 L554.5,526.64 L555,528.28 L555.5,529.9 L556,531.57 L556.5,533.33 L557,535.16 L557.5,536.99 L558,538.78 L558.5,540.5 L559,542.1 L559.5,543.75 L560,545.55 L560.5,547.31 L561,548.84 L561.5,549.96 L562,550.48 L562.5,550.42 L563,550.12 L563.5,549.64 L564,549.01 L564.5,548.27 L565,547.47 L565.5,546.47 L566,545.02 L566.5,543.19 L567,541.08 L567.5,538.76 L568,536.33 L568.5,533.88 L569,531.35 L569.5,528.49 L570,525.4 L570.5,522.17 L571,518.88 L571.5,515.62 L572,512.5 L572.5,509.39 L573,506.16 L573.5,502.92 L574,499.76 L574.5,496.75 L575,494 L575.5,491.6 L576,489.46 L576.5,487.46 L577,485.58 L577.5,483.83 L578,482.22 L578.5,480.74 L579,479.4 L579.5,478.14 L580,476.92 L580.5,475.76 L581,474.66 L581.5,473.64 L582,472.71 L582.5,471.88 L583,471.18 L583.5,470.59 L584,470.07 L584.5,469.57 L585,469.11 L585.5,468.68 L586,468.31 L586.5,467.99 L587,467.74 L587.5,467.55 L588,467.43 L588.5,467.32 L589,467.22 L589.5,467.13 L590,467.04 L590.5,466.97 L591,466.91 L591.5,466.86 L592,466.83 L592.5,466.81 L593,466.8 L593.5,466.83 L594,466.91 L594.5,467.01 L595,467.15 L595.5,467.3 L596,467.46 L596.5,467.62 L597,467.78 L597.5,467.93 L598,468.06 L598.5,468.16 L599,468.26 L599.5,468.35 L600,468.45 L600.5,468.53 L601,468.62 L601.5,468.71 L602,468.79 L602.5,468.87 L603,468.96 L603.5,469.04 L604,469.12 L604.5,469.21 L605,469.3 L605.5,469.39 L606,469.48 L606.5,469.58 L607,469.68 L607.5,469.78 L608,469.87 L608.5,469.97 L609,470.08 L609.5,470.18 L610,470.28 L610.5,470.38 L611,470.48 L611.5,470.59 L612,470.69 L612.5,470.79 L613,470.89 L613.5,470.99 L614,471.09 L614.5,471.18 L615,471.28 L615.5,471.37 L616,471.46 L616.5,471.55 L617,471.64 L617.5,471.72 L618,471.81 L618.5,471.88 L619,471.96 L619.5,472.03 L620,472.1 L620.5,472.17 L621,472.24 L621.5,472.31 L622,472.38 L622.5,472.45 L623,472.52 L623.5,472.59 L624,472.66 L624.5,472.73 L625,472.8 L625.5,472.86 L626,472.92 L626.5,472.97 L627,473.02 L627.5,473.07 L628,473.11 L628.5,473.14 L629,473.17 L629.5,473.19 L630,473.2 L630.5,473.2 L631,473.2 L631.5,473.19 L632,473.18 L632.5,473.17 L633,473.15 L633.5,473.13 L634,473.11 L634.5,473.08 L635,473.05 L635.5,473.02 L636,472.98 L636.5,472.94 L637,472.9 L637.5,472.86 L638,472.81 L638.5,472.77 L639,472.72 L639.5,472.66 L640,472.61 L640.5,472.55 L641,472.5 L641.5,472.44 L642,472.37 L642.5,472.31 L643,472.25 L643.5,472.18 L644,472.12 L644.5,472.05 L645,471.98 L645.5,471.91 L646,471.84 L646.5,471.77 L647,471.7 L647.5,471.62 L648,471.55 L648.5,471.48 L649,471.41 L649.5,471.33 L650,471.26 L650.5,471.19 L651,471.11 L651.5,471.04 L652,470.97 L652.5,470.91 L653,470.84 L653.5,470.77 L654,470.71 L654.5,470.64 L655,470.57 L655.5,470.5 L656,470.43 L656.5,470.35 L657,470.27 L657.5,470.18 L658,470.09 L658.5,469.99 L659,469.88 L659.5,469.77 L660,469.64 L660.5,469.51 L661,469.37 L661.5,469.22 L662,469.06 L662.5,468.88 L663,468.69 L663.5,468.49 L664,468.28 L664.5,468.05 L665,467.69 L665.5,467.03 L666,466.14 L666.5,465.11 L667,464.02 L667.5,462.95 L668,462 L668.5,461.11 L669,460.18 L669.5,459.25 L670,458.33 L670.5,457.44 L671,456.62 L671.5,455.89 L672,455.25 L672.5,454.65 L673,454.07 L673.5,453.51 L674,452.99 L674.5,452.53 L675,452.11 L675.5,451.77 L676,451.5 L676.5,451.27 L677,451.05 L677.5,450.85 L678,450.65 L678.5,450.47 L679,450.32 L679.5,450.19 L680,450.09 L680.5,450.03 L681,450 L681.5,450.01 L682,450.06 L682.5,450.15 L683,450.26 L683.5,450.4 L684,450.55 L684.5,450.73 L685,450.91 L685.5,451.11 L686,451.3 L686.5,451.52 L687,451.8 L687.5,452.12 L688,452.47 L688.5,452.85 L689,453.25 L689.5,453.67 L690,454.08 L690.5,454.5 L691,454.93 L691.5,455.41 L692,455.91 L692.5,456.45 L693,457.01 L693.5,457.58 L694,458.16 L694.5,458.74 L695,459.31 L695.5,459.88 L696,460.42 L696.5,460.95 L697,461.44 L697.5,461.9 L698,462.31 L698.5,462.67 L699,462.99 L699.5,463.29 L700,463.6 L700.5,463.89 L701,464.18 L701.5,464.47 L702,464.75 L702.5,465.02 L703,465.29 L703.5,465.55 L704,465.8 L704.5,466.05 L705,466.29 L705.5,466.52 L706,466.75 L706.5,466.96 L707,467.17 L707.5,467.37 L708,467.56 L708.5,467.75 L709,467.92 L709.5,468.09 L710,468.24 L710.5,468.39 L711,468.52 L711.5,468.65 L712,468.77 L712.5,468.87 L713,468.97 L713.5,469.05 L714,469.13 L714.5,469.21 L715,469.29 L715.5,469.37 L716,469.44 L716.5,469.52 L717,469.59 L717.5,469.66 L718,469.73 L718.5,469.79 L719,469.86 L719.5,469.92 L720,469.98 L720.5,470.04 L721,470.1 L721.5,470.16 L722,470.21 L722.5,470.26 L723,470.32 L723.5,470.37 L724,470.41 L724.5,470.46 L725,470.51 L725.5,470.55 L726,470.59 L726.5,470.63 L727,470.67 L727.5,470.71 L728,470.75 L728.5,470.79 L729,470.82 L729.5,470.85 L730,470.89 L730.5,470.92 L731,470.95 L731.5,470.97 L732,471 L732.5,471.03 L733,471.05 L733.5,471.08 L734,471.1 L734.5,471.12 L735,471.14 L735.5,471.17 L736,471.19 L736.5,471.21 L737,471.23 L737.5,471.25 L738,471.27 L738.5,471.3 L739,471.32 L739.5,471.34 L740,471.36 L740.5,471.38 L741,471.4 L741.5,471.42 L742,471.44 L742.5,471.46 L743,471.48 L743.5,471.5 L744,471.51 L744.5,471.53 L745,471.55 L745.5,471.57 L746,471.59 L746.5,471.61 L747,471.62 L747.5,471.64 L748,471.66 L748.5,471.68 L749,471.69 L749.5,471.71 L750,471.72 L750.5,471.74 L751,471.76 L751.5,471.77 L752,471.79 L752.5,471.8 L753,471.82 L753.5,471.83 L754,471.84 L754.5,471.86 L755,471.87 L755.5,471.88 L756,471.9 L756.5,471.91 L757,471.92 L757.5,471.93 L758,471.94 L758.5,471.95 L759,471.96 L759.5,471.97 L760,471.98 L760.5,471.99 L761,472 L761.5,472.01 L762,472.02 L762.5,472.03 L763,472.03 L763.5,472.04 L764,472.05 L764.5,472.05 L765,472.06 L765.5,472.07 L766,472.07 L766.5,472.08 L767,472.08 L767.5,472.08 L768,472.09 L768.5,472.09 L769,472.09 L769.5,472.1 L770,472.1 L770.5,472.1 L771,472.1 L771.5,472.1" fill="none" stroke="#7a00ff" stroke-width="1.9"/>
<path d="M477.5,473.4 L478,473.4 L478.5,473.4 L479,473.4 L479.5,473.4 L480,473.4 L480.5,473.4 L481,473.4 L481.5,473.4 L482,473.4 L482.5,473.4 L483,473.4 L483.5,473.4 L484,473.4 L484.5,473.4 L485,473.4 L485.5,473.4 L486,473.4 L486.5,473.4 L487,473.4 L487.5,473.4 L488,473.4 L488.5,473.4 L489,473.4 L489.5,473.4 L490,473.4 L490.5,473.4 L491,473.4 L491.5,473.4 L492,473.4 L492.5,473.4 L493,473.4 L493.5,473.4 L494,473.4 L494.5,473.4 L495,473.4 L495.5,473.4 L496,473.4 L496.5,473.4 L497,473.4 L497.5,473.4 L498,473.4 L498.5,473.4 L499,473.4 L499.5,473.4 L500,473.4 L500.5,473.4 L501,473.4 L501.5,473.4 L502,473.4 L502.5,473.41 L503,473.41 L503.5,473.41 L504,473.42 L504.5,473.42 L505,473.43 L505.5,473.43 L506,473.44 L506.5,473.44 L507,473.45 L507.5,473.46 L508,473.46 L508.5,473.47 L509,473.48 L509.5,473.49 L510,473.5 L510.5,473.51 L511,473.52 L511.5,473.53 L512,473.54 L512.5,473.55 L513,473.56 L513.5,473.57 L514,473.58 L514.5,473.59 L515,473.6 L515.5,473.61 L516,473.63 L516.5,473.65 L517,473.67 L517.5,473.69 L518,473.71 L518.5,473.74 L519,473.77 L519.5,473.8 L520,473.83 L520.5,473.86 L521,473.9 L521.5,473.93 L522,473.97 L522.5,474 L523,474.04 L523.5,474.08 L524,474.12 L524.5,474.16 L525,474.2 L525.5,474.24 L526,474.28 L526.5,474.33 L527,474.38 L527.5,474.42 L528,474.48 L528.5,474.53 L529,474.59 L529.5,474.65 L530,474.71 L530.5,474.78 L531,474.85 L531.5,474.92 L532,475 L532.5,475.08 L533,475.16 L533.5,475.25 L534,475.34 L534.5,475.44 L535,475.56 L535.5,475.69 L536,475.84 L536.5,476.02 L537,476.21 L537.5,476.46 L538,476.87 L538.5,477.42 L539,478.1 L539.5,478.88 L540,479.76 L540.5,480.71 L541,481.78 L541.5,483.23 L542,484.97 L542.5,486.84 L543,488.73 L543.5,490.54 L544,492.61 L544.5,494.57 L545,495.9 L545.5,496.63 L546,497.19 L546.5,497.64 L547,498.06 L547.5,498.5 L548,498.99 L548.5,499.45 L549,499.91 L549.5,500.36 L550,500.83 L550.5,501.33 L551,501.88 L551.5,502.49 L552,503.17 L552.5,503.89 L553,504.66 L553.5,505.46 L554,506.28 L554.5,507.13 L555,508.01 L555.5,508.94 L556,509.93 L556.5,510.95 L557,511.99 L557.5,513.03 L558,514.05 L558.5,515.05 L559,516 L559.5,517.02 L560,518.15 L560.5,519.31 L561,520.38 L561.5,521.27 L562,521.88 L562.5,522.1 L563,522.03 L563.5,521.83 L564,521.52 L564.5,521.11 L565,520.63 L565.5,520.09 L566,519.5 L566.5,518.67 L567,517.43 L567.5,515.89 L568,514.15 L568.5,512.3 L569,510.43 L569.5,508.65 L570,506.8 L570.5,504.83 L571,502.78 L571.5,500.7 L572,498.63 L572.5,496.63 L573,494.73 L573.5,492.81 L574,490.85 L574.5,488.92 L575,487.08 L575.5,485.38 L576,483.9 L576.5,482.68 L577,481.61 L577.5,480.62 L578,479.7 L578.5,478.85 L579,478.07 L579.5,477.36 L580,476.71 L580.5,476.12 L581,475.58 L581.5,475.07 L582,474.57 L582.5,474.11 L583,473.68 L583.5,473.29 L584,472.95 L584.5,472.67 L585,472.44 L585.5,472.25 L586,472.08 L586.5,471.91 L587,471.75 L587.5,471.6 L588,471.46 L588.5,471.34 L589,471.23 L589.5,471.14 L590,471.07 L590.5,471.02 L591,471 L591.5,471 L592,471.01 L592.5,471.03 L593,471.06 L593.5,471.1 L594,471.14 L594.5,471.19 L595,471.24 L595.5,471.3 L596,471.36 L596.5,471.41 L597,471.47 L597.5,471.53 L598,471.58 L598.5,471.63 L599,471.68 L599.5,471.74 L600,471.79 L600.5,471.85 L601,471.91 L601.5,471.97 L602,472.03 L602.5,472.09 L603,472.16 L603.5,472.22 L604,472.28 L604.5,472.34 L605,472.4 L605.5,472.46 L606,472.52 L606.5,472.58 L607,472.64 L607.5,472.7 L608,472.76 L608.5,472.82 L609,472.88 L609.5,472.94 L610,473 L610.5,473.06 L611,473.12 L611.5,473.18 L612,473.24 L612.5,473.3 L613,473.36 L613.5,473.42 L614,473.48 L614.5,473.54 L615,473.6 L615.5,473.66 L616,473.72 L616.5,473.78 L617,473.84 L617.5,473.9 L618,473.96 L618.5,474.02 L619,474.08 L619.5,474.14 L620,474.2 L620.5,474.26 L621,474.33 L621.5,474.41 L622,474.48 L622.5,474.56 L623,474.64 L623.5,474.72 L624,474.8 L624.5,474.88 L625,474.95 L625.5,475.01 L626,475.07 L626.5,475.12 L627,475.15 L627.5,475.18 L628,475.2 L628.5,475.2 L629,475.2 L629.5,475.2 L630,475.19 L630.5,475.19 L631,475.18 L631.5,475.17 L632,475.17 L632.5,475.16 L633,475.15 L633.5,475.14 L634,475.12 L634.5,475.11 L635,475.09 L635.5,475.08 L636,475.06 L636.5,475.04 L637,475.03 L637.5,475.01 L638,474.99 L638.5,474.97 L639,474.94 L639.5,474.92 L640,474.9 L640.5,474.87 L641,474.85 L641.5,474.82 L642,474.79 L642.5,474.77 L643,474.74 L643.5,474.71 L644,474.68 L644.5,474.65 L645,474.62 L645.5,474.59 L646,474.56 L646.5,474.52 L647,474.49 L647.5,474.46 L648,474.42 L648.5,474.39 L649,474.35 L649.5,474.32 L650,474.28 L650.5,474.24 L651,474.21 L651.5,474.17 L652,474.13 L652.5,474.09 L653,474.05 L653.5,474 L654,473.95 L654.5,473.9 L655,473.85 L655.5,473.79 L656,473.73 L656.5,473.66 L657,473.59 L657.5,473.51 L658,473.43 L658.5,473.34 L659,473.25 L659.5,473.15 L660,473.05 L660.5,472.93 L661,472.82 L661.5,472.69 L662,472.55 L662.5,472.41 L663,472.26 L663.5,472.1 L664,471.86 L664.5,471.5 L665,471.04 L665.5,470.54 L666,470.01 L666.5,469.5 L667,468.97 L667.5,468.39 L668,467.78 L668.5,467.17 L669,466.59 L669.5,466.08 L670,465.64 L670.5,465.22 L671,464.81 L671.5,464.42 L672,464.05 L672.5,463.69 L673,463.36 L673.5,463.05 L674,462.77 L674.5,462.52 L675,462.3 L675.5,462.09 L676,461.89 L676.5,461.68 L677,461.49 L677.5,461.31 L678,461.14 L678.5,460.99 L679,460.87 L679.5,460.78 L680,460.72 L680.5,460.7 L681,460.73 L681.5,460.82 L682,460.96 L682.5,461.14 L683,461.35 L683.5,461.58 L684,461.82 L684.5,462.06 L685,462.3 L685.5,462.55 L686,462.82 L686.5,463.13 L687,463.45 L687.5,463.79 L688,464.15 L688.5,464.51 L689,464.87 L689.5,465.22 L690,465.57 L690.5,465.9 L691,466.23 L691.5,466.58 L692,466.94 L692.5,467.3 L693,467.67 L693.5,468.05 L694,468.42 L694.5,468.78 L695,469.13 L695.5,469.47 L696,469.8 L696.5,470.1 L697,470.38 L697.5,470.63 L698,470.85 L698.5,471.04 L699,471.19 L699.5,471.34 L700,471.48 L700.5,471.62 L701,471.76 L701.5,471.89 L702,472.02 L702.5,472.14 L703,472.26 L703.5,472.38 L704,472.49 L704.5,472.6 L705,472.7 L705.5,472.8 L706,472.9 L706.5,472.99 L707,473.07 L707.5,473.16 L708,473.24 L708.5,473.31 L709,473.38 L709.5,473.45 L710,473.51 L710.5,473.57 L711,473.62 L711.5,473.67 L712,473.71 L712.5,473.75 L713,473.79 L713.5,473.82 L714,473.85 L714.5,473.88 L715,473.91 L715.5,473.94 L716,473.97 L716.5,474 L717,474.02 L717.5,474.05 L718,474.08 L718.5,474.1 L719,474.13 L719.5,474.15 L720,474.18 L720.5,474.2 L721,474.23 L721.5,474.25 L722,474.27 L722.5,474.29 L723,474.31 L723.5,474.33 L724,474.35 L724.5,474.37 L725,474.39 L725.5,474.41 L726,474.43 L726.5,474.44 L727,474.46 L727.5,474.47 L728,474.49 L728.5,474.5 L729,474.51 L729.5,474.52 L730,474.54 L730.5,474.55 L731,474.55 L731.5,474.56 L732,474.57 L732.5,474.58 L733,474.58 L733.5,474.59 L734,474.59 L734.5,474.6 L735,474.6 L735.5,474.6 L736,474.6 L736.5,474.6 L737,474.6 L737.5,474.6 L738,474.6 L738.5,474.6 L739,474.59 L739.5,474.59 L740,474.59 L740.5,474.58 L741,474.58 L741.5,474.58 L742,474.57 L742.5,474.57 L743,474.56 L743.5,474.56 L744,474.55 L744.5,474.54 L745,474.54 L745.5,474.53 L746,474.52 L746.5,474.51 L747,474.5 L747.5,474.5 L748,474.49 L748.5,474.48 L749,474.46 L749.5,474.45 L750,474.44 L750.5,474.43 L751,474.42 L751.5,474.4 L752,474.39 L752.5,474.38 L753,474.36 L753.5,474.35 L754,474.33 L754.5,474.31 L755,474.3 L755.5,474.28 L756,474.26 L756.5,474.24 L757,474.22 L757.5,474.2 L758,474.18 L758.5,474.16 L759,474.14 L759.5,474.12 L760,474.1 L760.5,474.07 L761,474.05 L761.5,474.03 L762,474 L762.5,473.98 L763,473.95 L763.5,473.92 L764,473.9 L764.5,473.87 L765,473.84 L765.5,473.81 L766,473.78 L766.5,473.75 L767,473.72 L767.5,473.69 L768,473.65 L768.5,473.62 L769,473.59 L769.5,473.55 L770,473.52 L770.5,473.48 L771,473.44 L771.5,473.41" fill="none" stroke="#ff8000" stroke-width="1.9"/>
<line x1="679.6" y1="512" x2="690.4" y2="512" stroke="#ff8f2a" stroke-width="1.8" />
<line x1="679.6" y1="528.3" x2="690.4" y2="528.3" stroke="#7a00ff" stroke-width="1.8" />
<line x1="476.9" y1="327.5" x2="772.6" y2="327.5" stroke="#222" stroke-width="1.2" />
<line x1="477.5" y1="444" x2="772" y2="444" stroke="#111" stroke-width="1" />
<line x1="477.5" y1="326.9" x2="477.5" y2="561" stroke="#222" stroke-width="1.2" />
<line x1="772" y1="326.9" x2="772" y2="561.1" stroke="#666" stroke-width="1.4" />
<line x1="476.9" y1="560.4" x2="772.7" y2="560.4" stroke="#555" stroke-width="1.4" />
<line x1="477.5" y1="429.6" x2="481.5" y2="429.6" stroke="#333" stroke-width="1" />
<line x1="477.5" y1="400.4" x2="481.5" y2="400.4" stroke="#333" stroke-width="1" />
<line x1="477.5" y1="371.2" x2="481.5" y2="371.2" stroke="#333" stroke-width="1" />
<line x1="477.5" y1="342" x2="481.5" y2="342" stroke="#333" stroke-width="1" />
<line x1="477.5" y1="415" x2="480" y2="415" stroke="#333" stroke-width="1" />
<line x1="477.5" y1="385.8" x2="480" y2="385.8" stroke="#333" stroke-width="1" />
<line x1="477.5" y1="356.6" x2="480" y2="356.6" stroke="#333" stroke-width="1" />
<line x1="477.5" y1="473.1" x2="481.5" y2="473.1" stroke="#333" stroke-width="1" />
<line x1="477.5" y1="512.85" x2="481.5" y2="512.85" stroke="#333" stroke-width="1" />
<line x1="477.5" y1="552.6" x2="481.5" y2="552.6" stroke="#333" stroke-width="1" />
<line x1="477.5" y1="453.23" x2="480" y2="453.23" stroke="#333" stroke-width="1" />
<line x1="477.5" y1="492.98" x2="480" y2="492.98" stroke="#333" stroke-width="1" />
<line x1="477.5" y1="532.73" x2="480" y2="532.73" stroke="#333" stroke-width="1" />
<line x1="519.55" y1="444" x2="519.55" y2="441" stroke="#333" stroke-width="1" />
<line x1="519.55" y1="560.4" x2="519.55" y2="557.4" stroke="#333" stroke-width="1" />
<line x1="561.6" y1="444" x2="561.6" y2="440" stroke="#333" stroke-width="1" />
<line x1="561.6" y1="560.4" x2="561.6" y2="556.4" stroke="#333" stroke-width="1" />
<line x1="603.65" y1="444" x2="603.65" y2="441" stroke="#333" stroke-width="1" />
<line x1="603.65" y1="560.4" x2="603.65" y2="557.4" stroke="#333" stroke-width="1" />
<line x1="645.7" y1="444" x2="645.7" y2="440" stroke="#333" stroke-width="1" />
<line x1="645.7" y1="560.4" x2="645.7" y2="556.4" stroke="#333" stroke-width="1" />
<line x1="687.75" y1="444" x2="687.75" y2="441" stroke="#333" stroke-width="1" />
<line x1="687.75" y1="560.4" x2="687.75" y2="557.4" stroke="#333" stroke-width="1" />
<line x1="729.8" y1="444" x2="729.8" y2="440" stroke="#333" stroke-width="1" />
<line x1="729.8" y1="560.4" x2="729.8" y2="556.4" stroke="#333" stroke-width="1" />
<text transform="translate(29.95,17.4) scale(0.95,1)" font-size="18.2" fill="#000" stroke="#000" stroke-width="0.7" font-weight="bold">a</text>
<text transform="translate(55.2,24) scale(1.139,1)" font-size="10.8" fill="#111" stroke="#111" stroke-width="0.28">700</text>
<text transform="translate(54.6,99.9) scale(1.181,1)" font-size="10.8" fill="#111" stroke="#111" stroke-width="0.28">600</text>
<text transform="translate(54.6,176.1) scale(1.189,1)" font-size="10.8" fill="#111" stroke="#111" stroke-width="0.28">500</text>
<text transform="translate(55,252) scale(1.167,1)" font-size="10.8" fill="#111" stroke="#111" stroke-width="0.28">400</text>
<text transform="translate(369.7,23.9) scale(0.98,1)" font-size="10.8" fill="#111" stroke="#111" stroke-width="0.28">1.0</text>
<text transform="translate(370.2,99.9) scale(1.073,1)" font-size="10.8" fill="#111" stroke="#111" stroke-width="0.28">0.5</text>
<text transform="translate(370.8,176.1) scale(1.05,1)" font-size="10.8" fill="#111" stroke="#111" stroke-width="0.28">0</text>
<text transform="translate(370.3,251.7) scale(1.06,1)" font-size="10.8" fill="#111" stroke="#111" stroke-width="0.28"><tspan font-weight="bold" font-size="16.8" dy="1.3">-</tspan><tspan dy="-1.3">0.5</tspan></text>
<text transform="translate(78.5,263.2) scale(1.15,1)" font-size="10.8" fill="#111" stroke="#111" stroke-width="0.28">0</text>
<text transform="translate(158.3,263.2) scale(1.056,1)" font-size="10.8" fill="#111" stroke="#111" stroke-width="0.28">100</text>
<text transform="translate(242.9,263.3) scale(1.194,1)" font-size="10.8" fill="#111" stroke="#111" stroke-width="0.28">200</text>
<text transform="translate(329.4,263.3) scale(1.189,1)" font-size="10.8" fill="#111" stroke="#111" stroke-width="0.28">300</text>
<text transform="translate(210.448,281.7) scale(0.952,1)" font-size="12.8" fill="#111" stroke="#111" stroke-width="0.28"><tspan font-style="italic">T</tspan> (K)</text>
<text transform="translate(41.4,168.299) rotate(-90) scale(1.001,1)" font-size="13.5" fill="#111" stroke="#111" stroke-width="0.28"><tspan font-style="italic">ρ</tspan><tspan font-size="9" dy="3" font-style="italic">xx</tspan><tspan dy="-3"> (μΩ cm)</tspan></text>
<text transform="translate(399.3,79.3) rotate(90) scale(0.982,1)" font-size="13.5" fill="#111" stroke="#111" stroke-width="0.28">d<tspan font-style="italic">ρ</tspan><tspan font-size="9" dy="3" font-style="italic">xx</tspan><tspan dy="-3">/d</tspan><tspan font-style="italic">T</tspan> (μΩ cm K<tspan font-size="9" dy="-5">−1</tspan><tspan dy="5">)</tspan></text>
<text transform="translate(431.78,16.6) scale(1.12,1)" font-size="18.6" fill="#000" stroke="#000" stroke-width="0.7" font-weight="bold">b</text>
<text transform="translate(457.2,23.8) scale(0.92,1)" font-size="10.8" fill="#111" stroke="#111" stroke-width="0.28">1.2</text>
<text transform="translate(463.7,57.8) scale(1.117,1)" font-size="10.8" fill="#111" stroke="#111" stroke-width="0.28">0</text>
<text transform="translate(452,92.9) scale(0.94,1)" font-size="10.8" fill="#111" stroke="#111" stroke-width="0.28"><tspan font-weight="bold" font-size="16.8" dy="1.3">-</tspan><tspan dy="-1.3">1.2</tspan></text>
<text transform="translate(457.2,103.9) scale(0.907,1)" font-size="10.8" fill="#111" stroke="#111" stroke-width="0.28">1.2</text>
<text transform="translate(463.3,138.9) scale(1.167,1)" font-size="10.8" fill="#111" stroke="#111" stroke-width="0.28">0</text>
<text transform="translate(451.7,173.9) scale(0.955,1)" font-size="10.8" fill="#111" stroke="#111" stroke-width="0.28"><tspan font-weight="bold" font-size="16.8" dy="1.3">-</tspan><tspan dy="-1.3">1.2</tspan></text>
<text transform="translate(457.1,183.9) scale(0.913,1)" font-size="10.8" fill="#111" stroke="#111" stroke-width="0.28">1.2</text>
<text transform="translate(463.5,218.8) scale(1.183,1)" font-size="10.8" fill="#111" stroke="#111" stroke-width="0.28">0</text>
<text transform="translate(451.9,253.4) scale(0.945,1)" font-size="10.8" fill="#111" stroke="#111" stroke-width="0.28"><tspan font-weight="bold" font-size="16.8" dy="1.3">-</tspan><tspan dy="-1.3">1.2</tspan></text>
<text transform="translate(469.9,263) scale(1.109,1)" font-size="10.8" fill="#111" stroke="#111" stroke-width="0.28"><tspan font-weight="bold" font-size="16.8" dy="1.3">-</tspan><tspan dy="-1.3">8</tspan></text>
<text transform="translate(545.2,263) scale(1.042,1)" font-size="10.8" fill="#111" stroke="#111" stroke-width="0.28"><tspan font-weight="bold" font-size="16.8" dy="1.3">-</tspan><tspan dy="-1.3">4</tspan></text>
<text transform="translate(621.6,263.1) scale(1.183,1)" font-size="10.8" fill="#111" stroke="#111" stroke-width="0.28">0</text>
<text transform="translate(695.5,263.1) scale(1.067,1)" font-size="10.8" fill="#111" stroke="#111" stroke-width="0.28">4</text>
<text transform="translate(769.5,263.1) scale(1.083,1)" font-size="10.8" fill="#111" stroke="#111" stroke-width="0.28">8</text>
<text transform="translate(604.7,280.9) scale(1,1)" font-size="12.8" fill="#111" stroke="#111" stroke-width="0.28"><tspan font-style="italic">μ</tspan><tspan font-size="9" dy="2.8" font-style="italic">0</tspan><tspan dy="-2.8" font-style="italic">H</tspan> (T)</text>
<text transform="translate(505.582,31.9) scale(0.918,1)" font-size="12.8" fill="#111" stroke="#111" stroke-width="0.28">IP</text>
<text transform="translate(506.1,47.6) scale(1.007,1)" font-size="12.8" fill="#111" stroke="#111" stroke-width="0.28">OOP</text>
<text transform="translate(739.9,81.7) scale(1.042,1)" font-size="13" fill="#111" stroke="#111" stroke-width="0.28">20 K</text>
<text transform="translate(733.103,160) scale(0.997,1)" font-size="13" fill="#111" stroke="#111" stroke-width="0.28">150 K</text>
<text transform="translate(732.4,241.1) scale(1.018,1)" font-size="13" fill="#111" stroke="#111" stroke-width="0.28">250 K</text>
<text transform="translate(443.8,175.2) rotate(-90) scale(0.99,1)" font-size="13.5" fill="#111" stroke="#111" stroke-width="0.28"><tspan font-style="italic">M</tspan> (μ<tspan font-size="9" dy="3">B</tspan><tspan dy="-3"> per Co)</tspan></text>
<text transform="translate(30.1,318.7) scale(1.09,1)" font-size="18.2" fill="#000" stroke="#000" stroke-width="0.7" font-weight="bold">c</text>
<text transform="translate(63.8,326) scale(0.913,1)" font-size="10.8" fill="#111" stroke="#111" stroke-width="0.28">1.2</text>
<text transform="translate(60.7,398.1) scale(1.113,1)" font-size="10.8" fill="#111" stroke="#111" stroke-width="0.28">0.8</text>
<text transform="translate(60.7,468.9) scale(1.133,1)" font-size="10.8" fill="#111" stroke="#111" stroke-width="0.28">0.4</text>
<text transform="translate(70.6,540.4) scale(1.083,1)" font-size="10.8" fill="#111" stroke="#111" stroke-width="0.28">0</text>
<text transform="translate(79.6,569.7) scale(1.233,1)" font-size="10.8" fill="#111" stroke="#111" stroke-width="0.28">0</text>
<text transform="translate(159,569.7) scale(1.061,1)" font-size="10.8" fill="#111" stroke="#111" stroke-width="0.28">100</text>
<text transform="translate(244.3,569.7) scale(1.172,1)" font-size="10.8" fill="#111" stroke="#111" stroke-width="0.28">200</text>
<text transform="translate(330.1,569.7) scale(1.183,1)" font-size="10.8" fill="#111" stroke="#111" stroke-width="0.28">300</text>
<text transform="translate(211.23,595.6) scale(0.97,1)" font-size="12.8" fill="#111" stroke="#111" stroke-width="0.28"><tspan font-style="italic">T</tspan> (K)</text>
<text transform="translate(46.1,479.5) rotate(-90) scale(0.99,1)" font-size="13.5" fill="#111" stroke="#111" stroke-width="0.28"><tspan font-style="italic">M</tspan> (μ<tspan font-size="9" dy="3">B</tspan><tspan dy="-3"> per Co)</tspan></text>
<text transform="translate(330.1,341.7) scale(0.968,1)" font-size="10.8" fill="#111" stroke="#111" stroke-width="0.28"><tspan font-style="italic">M</tspan><tspan font-size="7.5" dy="3.3">(7<tspan font-weight="bold">-</tspan>T)</tspan></text>
<text transform="translate(330,360.8) scale(1,1)" font-size="10.8" fill="#111" stroke="#111" stroke-width="0.28"><tspan font-style="italic">M</tspan><tspan font-size="7.5" dy="3.3">R</tspan></text>
<text transform="translate(432.5,318.6) scale(1.036,1)" font-size="18.6" fill="#000" stroke="#000" stroke-width="0.7" font-weight="bold">d</text>
<text transform="translate(457.8,345.6) scale(0.867,1)" font-size="10.8" fill="#111" stroke="#111" stroke-width="0.28">1.5</text>
<text transform="translate(456.6,374.9) scale(0.973,1)" font-size="10.8" fill="#111" stroke="#111" stroke-width="0.28">1.0</text>
<text transform="translate(454.9,403.8) scale(1.087,1)" font-size="10.8" fill="#111" stroke="#111" stroke-width="0.28">0.5</text>
<text transform="translate(463.9,433) scale(1.217,1)" font-size="10.8" fill="#111" stroke="#111" stroke-width="0.28">0</text>
<text transform="translate(463.7,477.3) scale(1.25,1)" font-size="10.8" fill="#111" stroke="#111" stroke-width="0.28">0</text>
<text transform="translate(454.9,517.7) scale(0.959,1)" font-size="10.8" fill="#111" stroke="#111" stroke-width="0.28"><tspan font-weight="bold" font-size="16.8" dy="1.3">-</tspan><tspan dy="-1.3">10</tspan></text>
<text transform="translate(452.9,556.5) scale(1.076,1)" font-size="10.8" fill="#111" stroke="#111" stroke-width="0.28"><tspan font-weight="bold" font-size="16.8" dy="1.3">-</tspan><tspan dy="-1.3">20</tspan></text>
<text transform="translate(468.1,575.8) scale(1.039,1)" font-size="10.8" fill="#111" stroke="#111" stroke-width="0.28">770</text>
<text transform="translate(551.9,575.8) scale(1.05,1)" font-size="10.8" fill="#111" stroke="#111" stroke-width="0.28">780</text>
<text transform="translate(635,575.8) scale(1.128,1)" font-size="10.8" fill="#111" stroke="#111" stroke-width="0.28">790</text>
<text transform="translate(718.7,575.8) scale(1.178,1)" font-size="10.8" fill="#111" stroke="#111" stroke-width="0.28">800</text>
<text transform="translate(565.241,596.1) scale(1.059,1)" font-size="12.8" fill="#111" stroke="#111" stroke-width="0.28">Photon energy (eV)</text>
<text transform="translate(443.9,441.6) rotate(-90) scale(0.979,1)" font-size="13.5" fill="#111" stroke="#111" stroke-width="0.28">XAS intensity (a.u.)</text>
<text transform="translate(446.1,530.9) rotate(-90) scale(0.903,1)" font-size="13.5" fill="#111" stroke="#111" stroke-width="0.28">XMCD (%)</text>
<text transform="translate(524,353.7) scale(1.085,1)" font-size="10.2" fill="#111" stroke="#111" stroke-width="0.28">Co<tspan font-weight="bold">-</tspan><tspan font-style="italic">L</tspan><tspan font-size="7.5" dy="2.8">3</tspan></text>
<text transform="translate(570.7,354.5) scale(1.08,1)" font-size="10.3" fill="#111" stroke="#111" stroke-width="0.28">0.5 eV</text>
<text transform="translate(661,374) scale(0.993,1)" font-size="11" fill="#111" stroke="#111" stroke-width="0.28">Co<tspan font-weight="bold">-</tspan><tspan font-style="italic">L</tspan><tspan font-size="8" dy="3">2</tspan></text>
<text transform="translate(694.8,342.8) scale(1.02,1)" font-size="10.8" fill="#111" stroke="#111" stroke-width="0.28">Sr<tspan font-size="7.5" dy="2.8">3</tspan><tspan dy="-2.8">Co</tspan><tspan font-size="7.5" dy="2.8">2</tspan><tspan dy="-2.8">O</tspan><tspan font-size="7.5" dy="2.8">7</tspan></text>
<text transform="translate(694.8,360.1) scale(1.027,1)" font-size="10.8" fill="#111" stroke="#111" stroke-width="0.28">Sr<tspan font-size="7.5" dy="2.8">3</tspan><tspan dy="-2.8">Co</tspan><tspan font-size="7.5" dy="2.8">2</tspan><tspan dy="-2.8">O</tspan><tspan font-size="7.5" dy="2.8">7<tspan font-weight="bold">-</tspan>δ</tspan></text>
<text transform="translate(695.7,516.2) scale(1.029,1)" font-size="10.8" fill="#111" stroke="#111" stroke-width="0.28">Sr<tspan font-size="7.5" dy="2.8">3</tspan><tspan dy="-2.8">Co</tspan><tspan font-size="7.5" dy="2.8">2</tspan><tspan dy="-2.8">O</tspan><tspan font-size="7.5" dy="2.8">7</tspan></text>
<text transform="translate(695.7,532.1) scale(1.051,1)" font-size="10.8" fill="#111" stroke="#111" stroke-width="0.28">SrCoO<tspan font-size="7.5" dy="2.8">3</tspan></text>
<text transform="translate(684.508,548.8) scale(0.993,1)" font-size="10.8" fill="#111" stroke="#111" stroke-width="0.28"><tspan font-style="italic">T</tspan> = 20 K</text>
</svg></body></html>
